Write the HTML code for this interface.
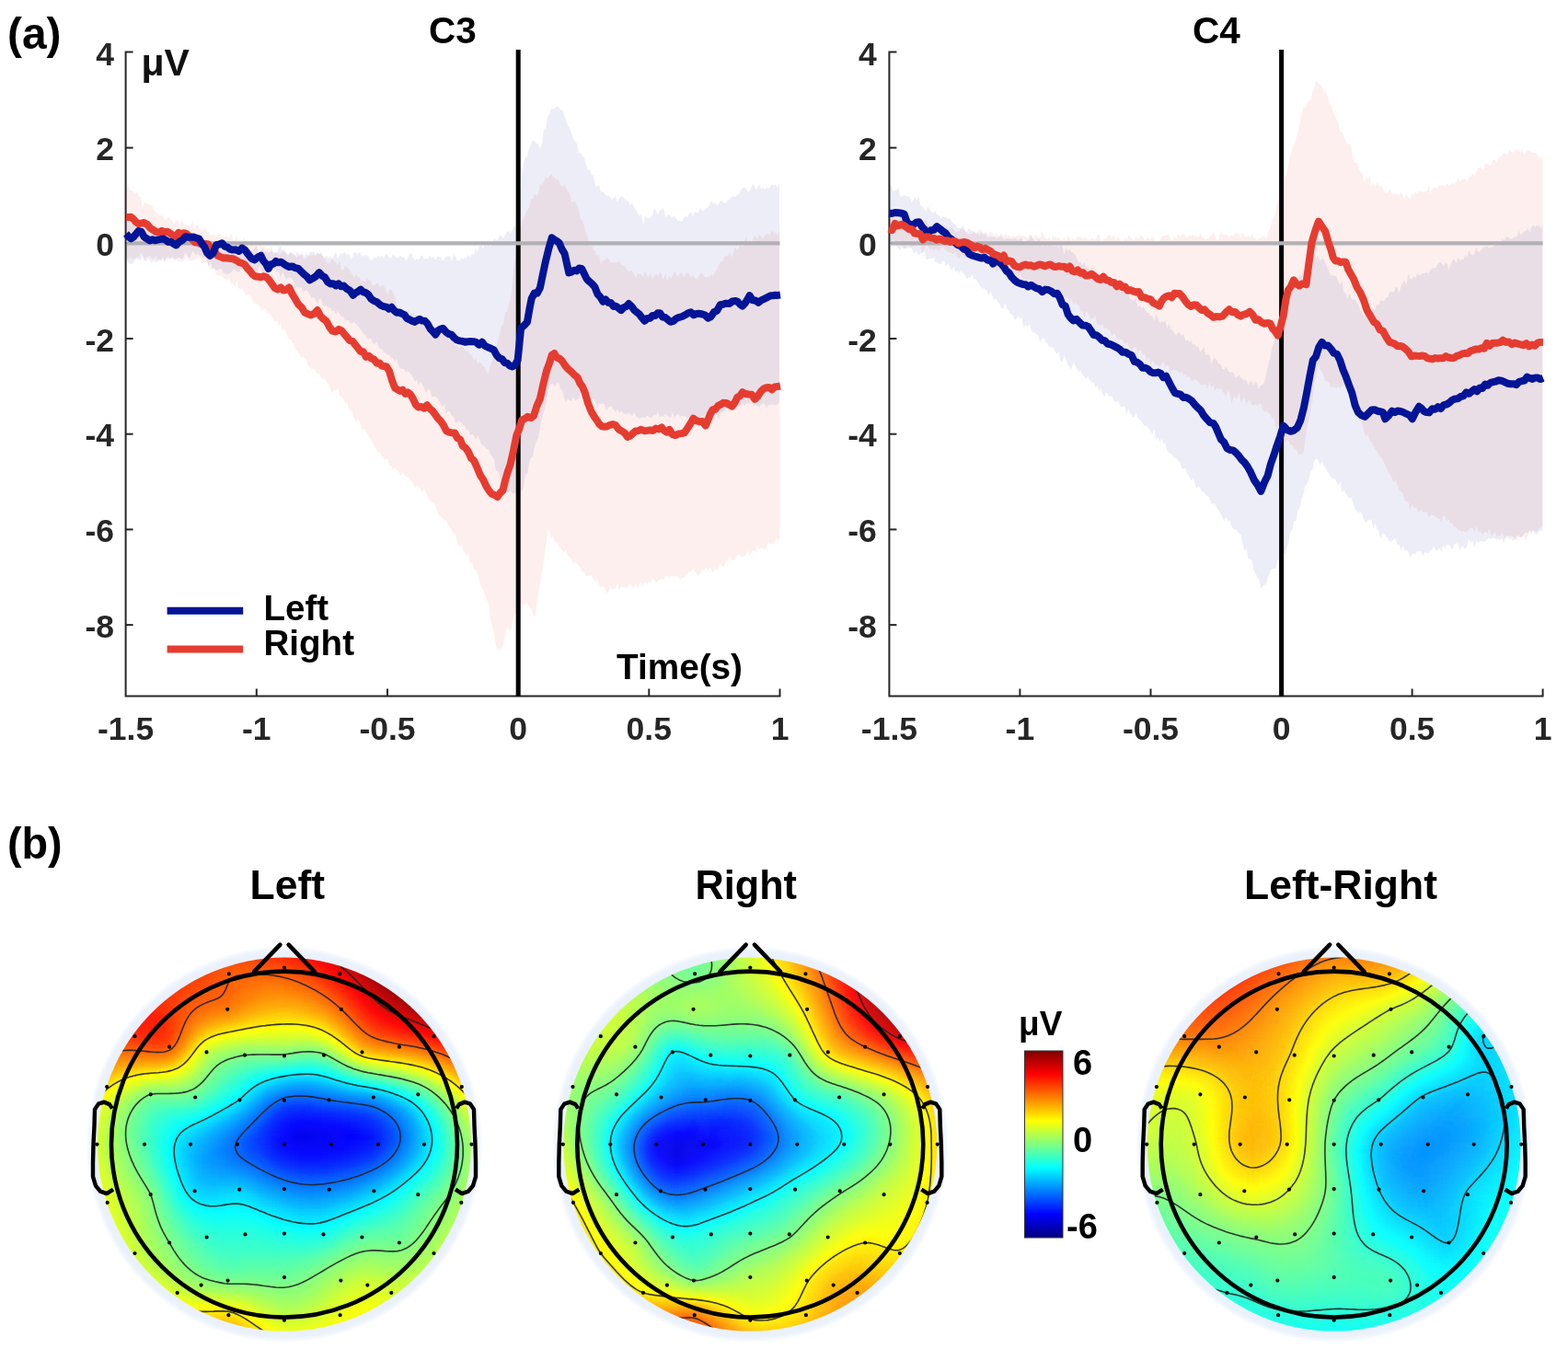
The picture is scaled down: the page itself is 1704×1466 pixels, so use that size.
<!DOCTYPE html>
<html><head><meta charset="utf-8"><title>ERP and topography</title><style>
html,body{margin:0;padding:0;background:#fff;width:1704px;height:1466px;overflow:hidden}
svg{display:block}
text{font-family:'Liberation Sans',Arial,sans-serif;font-weight:bold;fill:#111}
.tk{font-size:35.5px;fill:#262626}
.ti{font-size:40.5px;fill:#000}
.lg{font-size:39px;fill:#000}
.uv{font-size:41px}
.pl{font-size:48px;fill:#000}
.tt{font-size:45px;fill:#000}
.cb{font-size:38px;fill:#000}
.cbu{font-size:37px;fill:#000}
</style></head>
<body><svg width="1704" height="1466" viewBox="0 0 1704 1466">
<defs>
<filter id="jet" x="-10%" y="-10%" width="120%" height="120%" color-interpolation-filters="sRGB">
<feGaussianBlur stdDeviation="4.4"/>
<feComponentTransfer><feFuncR type="table" tableValues="0 0 0 0 0.5 1 1 1 0.5"/><feFuncG type="table" tableValues="0 0 0.5 1 1 1 0.5 0 0"/><feFuncB type="table" tableValues="0.5 1 1 1 0.5 0 0 0 0"/></feComponentTransfer>
</filter>
<radialGradient id="ring" r="0.5"><stop offset="0.93" stop-color="#e8f0fb"/><stop offset="0.975" stop-color="#ebf2fc"/><stop offset="1" stop-color="#fbfdff"/></radialGradient>
<linearGradient id="cbar" x1="0" y1="0" x2="0" y2="1"><stop offset="0.000" stop-color="rgb(127,0,0)"/><stop offset="0.125" stop-color="rgb(255,0,0)"/><stop offset="0.250" stop-color="rgb(255,127,0)"/><stop offset="0.375" stop-color="rgb(255,255,0)"/><stop offset="0.500" stop-color="rgb(127,255,127)"/><stop offset="0.625" stop-color="rgb(0,255,255)"/><stop offset="0.750" stop-color="rgb(0,127,255)"/><stop offset="0.875" stop-color="rgb(0,0,255)"/><stop offset="1.000" stop-color="rgb(0,0,127)"/></linearGradient>
<clipPath id="disk0"><circle cx="309.0" cy="1243.6" r="203.0"/></clipPath><clipPath id="disk1"><circle cx="815.3" cy="1243.6" r="203.0"/></clipPath><clipPath id="disk2"><circle cx="1449.7" cy="1243.6" r="203.0"/></clipPath></defs>
<rect width="1704" height="1466" fill="#fff"/>
<polygon points="137,208.1 139,198.3 141,207.3 143,206.5 145,208.5 147,210.7 149,207.9 151,214 153,214.1 155,226.2 157,220.1 159,220.3 161,222.2 163,222.9 165,223.6 167,227 169,230.9 171,230.8 173,235.5 175,233.8 177,235.1 179,239.6 181,237.8 183,235.9 185,237.4 187,239.9 189,244.1 191,239.3 193,240 195,243.8 197,239.8 199,242 201,245.6 203,245.6 205,245 207,247.2 209,239.1 211,249.5 213,245.2 215,244.1 217,249.7 219,251.4 221,249.2 223,248.2 225,251.6 227,252 229,256.3 231,255.3 233,254.6 235,257.5 237,254.8 239,253.7 241,258 243,258.5 245,257 247,256.1 249,259.2 251,252.9 253,261.4 255,261.4 257,256.6 259,261.4 261,259.3 263,264.2 265,257.8 267,261.2 269,265.8 271,267.5 273,259.8 275,264.5 277,267.1 279,265.4 281,271.5 283,265.1 285,269.5 287,266.6 289,273.3 291,270.3 293,270 295,267.2 297,276.3 299,274.5 301,275.1 303,276.7 305,275.3 307,273.3 309,273.4 311,273.9 313,279.8 315,273.2 317,275.9 319,277 321,278.9 323,280.3 325,276.2 327,275.3 329,279.2 331,281.9 333,280.4 335,278.6 337,276.9 339,278.1 341,276.4 343,278.6 345,274.2 347,276.2 349,275.7 351,278.6 353,279.1 355,286.2 357,284.8 359,286 361,278.5 363,284 365,284.5 367,288.6 369,282.9 371,292.7 373,293.5 375,288.7 377,290.6 379,292.2 381,295.4 383,298 385,302.6 387,298.1 389,301.6 391,301.2 393,306.2 395,304.5 397,307 399,301.7 401,304.8 403,304.2 405,310.8 407,309.6 409,308.1 411,308.6 413,311.8 415,309.8 417,310.1 419,314.5 421,320.3 423,314.4 425,314.6 427,317.6 429,321.8 431,331 433,336.4 435,335.9 437,337.6 439,338 441,339 443,335.7 445,339.3 447,341.6 449,340.3 451,341.9 453,342 455,344.1 457,348 459,345.7 461,347.2 463,350.9 465,351.8 467,355.7 469,347.4 471,356.1 473,354 475,356.8 477,359.8 479,361.7 481,362.8 483,361.9 485,366.8 487,363.3 489,365 491,369.1 493,367.5 495,376 497,374.9 499,379.5 501,375.7 503,376.6 505,379.7 507,382.8 509,381.3 511,385.4 513,386.2 515,392 517,388.3 519,395 521,393.2 523,394.8 525,397.9 527,399.1 529,404.8 531,405.1 533,396.6 535,391.4 537,387.6 539,377.8 541,371.3 543,363.4 545,353.3 547,352.4 549,339.4 551,338.7 553,330.2 555,325.3 557,305.4 559,286.7 561,272.8 563,253.6 565,248.6 567,243.3 569,237.6 571,233.3 573,227.5 575,225 577,215.9 579,216.7 581,210.5 583,213.2 585,210.5 587,199.4 589,201.5 591,197.8 593,192.4 595,194 597,191.5 599,188.3 601,192 603,193.3 605,195.8 607,194.4 609,200.9 611,203.1 613,200.2 615,203.4 617,208.1 619,210.3 621,219.4 623,218.9 625,219.2 627,223.1 629,228.2 631,238.8 633,239 635,246.2 637,253.6 639,258.6 641,268.6 643,264.9 645,271.5 647,273.5 649,278 651,277 653,287.2 655,282.5 657,282.9 659,280.5 661,281 663,284.2 665,285.3 667,284.7 669,285.8 671,284.6 673,284.1 675,287.7 677,288.7 679,288.6 681,292.2 683,295.2 685,294.2 687,294.3 689,298.6 691,302.6 693,297.4 695,297.8 697,297.8 699,301.3 701,293.8 703,299.4 705,301.6 707,296.7 709,302.6 711,300.3 713,297.7 715,299.7 717,295.4 719,298 721,304.1 723,297.4 725,304.3 727,299.6 729,302.4 731,300.1 733,294.4 735,298.5 737,300.4 739,297.1 741,296.6 743,300.8 745,298.3 747,295.6 749,298.2 751,302 753,298.7 755,302.2 757,303.6 759,299.9 761,297 763,296.5 765,299.7 767,302 769,300.4 771,301.1 773,298.6 775,300 777,295.3 779,292.9 781,287.7 783,284.2 785,284.1 787,279.7 789,277.3 791,278.6 793,273.8 795,279.9 797,273.9 799,268.9 801,271.4 803,269.2 805,265.6 807,269 809,263.2 811,256.4 813,265 815,260.4 817,264.6 819,258.2 821,255.8 823,261.8 825,254.5 827,257 829,259.4 831,255.4 833,254.2 835,253.9 837,255 839,250.2 841,253 843,252.2 845,255.9 847,248.5 847,589.5 845,584.7 843,586.4 841,590.8 839,591.7 837,591.1 835,588.1 833,594.6 831,597.6 829,595.9 827,595.4 825,596.4 823,591.9 821,599.9 819,598.5 817,599.5 815,604.8 813,598 811,602.5 809,604.2 807,605.4 805,605.1 803,601.5 801,604.3 799,606.3 797,609.5 795,607.5 793,605.2 791,609.8 789,609 787,615.4 785,615.2 783,611.8 781,613.9 779,620 777,617.3 775,622.2 773,618.6 771,617 769,620.1 767,616.8 765,620.8 763,618.2 761,623.5 759,625.8 757,624.1 755,621.1 753,617.7 751,622.5 749,620.1 747,622.9 745,624.5 743,628 741,627.9 739,629.9 737,625.6 735,626.2 733,626.8 731,625.6 729,625.7 727,627.8 725,625.7 723,625.5 721,630.5 719,628.6 717,630.2 715,631 713,633.6 711,629.3 709,628.7 707,633.3 705,631.3 703,635.5 701,631.3 699,637.6 697,632.8 695,635.2 693,638.4 691,634.6 689,639.3 687,637.5 685,634.6 683,636.2 681,639.5 679,637.4 677,638.6 675,637 673,640.9 671,633.4 669,639.4 667,639.8 665,640.5 663,638.7 661,642.9 659,644.5 657,638.3 655,636.6 653,638.6 651,636.1 649,627.4 647,632.2 645,629.7 643,624.4 641,625.9 639,625.8 637,626.6 635,620.4 633,622.6 631,617.7 629,614.4 627,612.2 625,611 623,612.5 621,608 619,605 617,603.5 615,598 613,600.3 611,597.9 609,595.5 607,593.4 605,588.7 603,589.7 601,582 599,585.7 597,578.3 595,576 593,594.8 591,608.8 589,621.3 587,633.4 585,643.1 583,660.8 581,671.9 579,666.8 577,660.4 575,660.8 573,656 571,656.8 569,657 567,657.8 565,656.3 563,653.6 561,664.1 559,668.7 557,674.8 555,685.4 553,684 551,681.9 549,688.3 547,699.9 545,705.3 543,704.4 541,705.8 539,701.6 537,689.1 535,681.1 533,673.3 531,656.3 529,651.8 527,646.5 525,639.7 523,638.5 521,630.3 519,624.1 517,619.6 515,618.4 513,610.9 511,612.9 509,602 507,604.4 505,599.9 503,597.1 501,592.2 499,593.9 497,589.3 495,580.2 493,580 491,577.6 489,573 487,570 485,565.6 483,566.3 481,562.9 479,560.4 477,560.4 475,555.3 473,549.1 471,547.2 469,545.5 467,544.2 465,540 463,535.6 461,531.5 459,534.5 457,530.6 455,529.5 453,526.7 451,530.8 449,525 447,522.6 445,521.3 443,518.1 441,518.2 439,515.1 437,514.5 435,516.6 433,511.6 431,510.9 429,508.6 427,511.2 425,506.2 423,505.5 421,497.7 419,499.9 417,498.9 415,495.7 413,492.1 411,491.2 409,489.6 407,483.5 405,482 403,477 401,474.5 399,471.4 397,466.5 395,466.8 393,465.8 391,458 389,455 387,458.1 385,454.6 383,446.4 381,446.8 379,443 377,436.6 375,439.5 373,431.8 371,431.5 369,429.5 367,421.3 365,425 363,422.7 361,427.3 359,423.2 357,416.5 355,414.6 353,411 351,412.5 349,410.8 347,405.7 345,406.9 343,402.4 341,400.7 339,402 337,399.3 335,397.8 333,391.6 331,389.8 329,387.2 327,389.6 325,384.2 323,381.2 321,379.5 319,374.3 317,370.4 315,368.4 313,368.1 311,360.3 309,356.6 307,358.9 305,350.2 303,354.5 301,347.9 299,349.8 297,346.9 295,343.3 293,340.1 291,341.2 289,335.6 287,334.4 285,337.7 283,333.7 281,331.5 279,329.6 277,330.6 275,328 273,323.2 271,320.3 269,321.1 267,319.7 265,317 263,313.1 261,314.5 259,312.4 257,304.2 255,313 253,307.1 251,308.9 249,301.9 247,304.4 245,302.4 243,302.6 241,300.3 239,299.5 237,299.2 235,297.8 233,291.1 231,292.7 229,293.8 227,288.4 225,284.1 223,284.9 221,285.1 219,286.8 217,279.6 215,281 213,280.7 211,283.2 209,282.2 207,283.7 205,282.4 203,276.9 201,281.4 199,283.6 197,284.9 195,282.9 193,284.1 191,280.7 189,283.4 187,280.6 185,279.9 183,280.9 181,282.1 179,285.4 177,279.4 175,282.8 173,281.6 171,282.5 169,277.8 167,281.2 165,282.1 163,277.6 161,278.8 159,278.8 157,284.3 155,278.2 153,274 151,280.1 149,278.7 147,283.2 145,280.5 143,280.9 141,279.1 139,281.9 137,277.7" fill="#e2412f" fill-opacity="0.085"/>
<polygon points="137,240.9 139,240.4 141,236.6 143,245.8 145,234.6 147,241.4 149,248 151,242.9 153,244.3 155,241.2 157,248 159,241.9 161,246.2 163,246.4 165,243.9 167,249.2 169,243.9 171,246.2 173,248.3 175,247.8 177,250.5 179,252.1 181,249.6 183,249.7 185,250.4 187,251.5 189,255.1 191,253.3 193,255.5 195,255 197,253.8 199,258.7 201,254.7 203,258 205,262.4 207,256.6 209,259.9 211,256.8 213,260.1 215,258.4 217,261.9 219,262.2 221,264.5 223,268.8 225,266.3 227,267.9 229,266.8 231,267 233,266 235,263.8 237,268.6 239,272.7 241,270 243,267.6 245,273.3 247,268.2 249,268 251,266.6 253,267.4 255,269.4 257,275.2 259,269.9 261,268 263,269.2 265,270.4 267,266.8 269,271.6 271,273.2 273,272.4 275,273.3 277,268.7 279,267.9 281,275.5 283,275.2 285,268.8 287,273.4 289,273.1 291,274.6 293,273.9 295,272.3 297,274.2 299,274.3 301,273.9 303,269.5 305,266.8 307,272.4 309,270.4 311,275.2 313,276.4 315,275.4 317,273.9 319,275.1 321,278 323,273.3 325,277.6 327,277.1 329,276.1 331,279.2 333,273.9 335,278.1 337,273.5 339,274 341,273.4 343,277.3 345,273.9 347,276.5 349,273.6 351,279.2 353,281.2 355,277.3 357,281 359,278.4 361,282.5 363,277.4 365,273.3 367,281.1 369,277.1 371,275 373,276 375,273.7 377,277.4 379,275.3 381,281.8 383,279.8 385,274.1 387,274.6 389,277 391,273.7 393,278.4 395,278.6 397,276.9 399,277.6 401,280.3 403,282.6 405,282.8 407,279.2 409,281.3 411,277.4 413,280.3 415,276.9 417,281.2 419,276.3 421,277 423,279.4 425,280.9 427,275.9 429,278.2 431,280 433,280.2 435,277.6 437,280 439,279.1 441,283.3 443,281.3 445,276.6 447,274.4 449,280.2 451,283 453,280.5 455,282.3 457,278.9 459,276.8 461,282.1 463,280.5 465,282 467,276.9 469,280.8 471,278.9 473,282.5 475,279 477,279 479,279.1 481,283.8 483,280.7 485,278.8 487,278.2 489,278.2 491,284.5 493,276.3 495,278.8 497,282.5 499,283.9 501,280.1 503,281.5 505,280.5 507,280.1 509,276.8 511,279.8 513,275.2 515,277.6 517,270.1 519,274.2 521,267.8 523,266.2 525,270.2 527,265.9 529,268.2 531,263.4 533,268.6 535,263.2 537,258.8 539,260.6 541,260.9 543,255.3 545,257.1 547,259.4 549,255 551,252.2 553,250.9 555,253.9 557,248.9 559,245.2 561,248.4 563,228.3 565,216.4 567,193.3 569,176.9 571,171.1 573,169.9 575,161.3 577,156.5 579,152.4 581,153.4 583,155.4 585,157.4 587,162.3 589,155.2 591,138.8 593,141.3 595,127.1 597,124.1 599,117.7 601,118.9 603,117.2 605,115.5 607,116.6 609,119.7 611,119.2 613,124.9 615,130.6 617,136 619,139.1 621,144.8 623,150.7 625,153.4 627,156.3 629,166.9 631,165.4 633,170.1 635,171.4 637,179.9 639,184.9 641,184 643,189.8 645,190.7 647,201 649,202.8 651,200.7 653,208.2 655,208.2 657,210.6 659,212.8 661,212.5 663,214 665,216.9 667,215.3 669,213 671,220.5 673,214.9 675,214 677,213.6 679,217.1 681,218.1 683,218.9 685,223.1 687,219.9 689,225.4 691,227.8 693,231.6 695,235.5 697,231.8 699,245.2 701,234.5 703,236.8 705,237.3 707,236.6 709,234.4 711,225.8 713,229.6 715,233.5 717,228.5 719,228 721,225.7 723,235.7 725,234.9 727,232.4 729,235.3 731,236.3 733,234.8 735,237.9 737,240.2 739,240.2 741,241.1 743,237 745,234.9 747,236.1 749,232.6 751,230.1 753,235.2 755,230.4 757,230.8 759,231.1 761,225.8 763,229.3 765,227.9 767,225.7 769,226.1 771,222.4 773,218 775,222 777,219.6 779,223.2 781,220.9 783,218.1 785,218.8 787,221.2 789,219.9 791,217.2 793,216.5 795,213.8 797,213.2 799,214 801,211.2 803,211.3 805,206.7 807,204.3 809,203.3 811,205.4 813,208.9 815,207.5 817,201.5 819,200 821,205.7 823,204.8 825,200.1 827,206 829,203.7 831,206.4 833,203.8 835,205.1 837,203.5 839,200.2 841,201.9 843,200.7 845,204.3 847,199.6 847,438.6 845,439.1 843,440.3 841,439.9 839,439.2 837,440.3 835,439.7 833,443.8 831,439.1 829,438.3 827,439.9 825,442.4 823,441 821,440.6 819,441.4 817,438.5 815,436.9 813,439 811,438 809,441.5 807,438 805,441.3 803,442.7 801,438.7 799,438.9 797,445.2 795,435.8 793,443.1 791,443.2 789,444.4 787,447.9 785,447.8 783,449 781,455.8 779,450.7 777,451.4 775,456.1 773,455.7 771,453.5 769,458.8 767,455.7 765,459.3 763,462.3 761,458.1 759,460.8 757,458.1 755,455.2 753,453.5 751,454.9 749,454.9 747,454.8 745,451.9 743,452.3 741,451.8 739,453.1 737,449.5 735,451.1 733,453.7 731,448.3 729,454.3 727,453.1 725,451.8 723,449.4 721,452.9 719,451 717,454.5 715,447.3 713,451.9 711,450.3 709,453.7 707,454.1 705,452.7 703,451.5 701,453.9 699,453.2 697,453.4 695,455.6 693,453.7 691,452.3 689,448.1 687,452.1 685,449.9 683,448.7 681,450.7 679,450 677,449 675,446.4 673,448.8 671,444.6 669,447.9 667,445.4 665,442.5 663,441.3 661,443.2 659,446.2 657,439.9 655,438 653,439.3 651,438.4 649,444 647,436.3 645,433 643,434.5 641,429.3 639,424.5 637,427.5 635,430.5 633,428.5 631,427.6 629,433.4 627,434.1 625,435.5 623,431.5 621,436.1 619,435.1 617,433.2 615,437.1 613,431.5 611,424 609,422.3 607,415.9 605,416.5 603,420.7 601,417.1 599,417.4 597,416.8 595,428.8 593,440 591,447.4 589,453.9 587,464 585,475.5 583,479.3 581,485.5 579,496 577,496.9 575,504 573,515.3 571,515 569,529.3 567,533.8 565,532.8 563,534.8 561,535.1 559,535.6 557,536.8 555,533.2 553,535.6 551,534.7 549,532.3 547,531.4 545,527.3 543,517.1 541,511.7 539,512.3 537,499.5 535,495.9 533,494 531,488 529,488.5 527,485.5 525,483.6 523,483.1 521,477.3 519,472.7 517,478.1 515,473.3 513,471.5 511,473.8 509,466.2 507,467.5 505,463 503,460.6 501,458.9 499,457 497,458.8 495,460 493,452.6 491,452.1 489,447.6 487,446.5 485,450.4 483,439.1 481,442.6 479,439.3 477,435.4 475,432.6 473,430.7 471,431.4 469,430.6 467,422.3 465,424.3 463,426.8 461,421.9 459,418.1 457,414.3 455,418.8 453,412.2 451,414.9 449,410.3 447,407.8 445,404.8 443,402.8 441,404.4 439,401.1 437,400.7 435,400.5 433,396.3 431,389.4 429,393.4 427,388.9 425,388.9 423,385.2 421,385.9 419,383.2 417,382.9 415,379.1 413,379.3 411,375.4 409,371.6 407,373.8 405,373.1 403,366.6 401,368.4 399,368 397,363.5 395,363 393,359.6 391,356.7 389,354.5 387,352.3 385,349.8 383,351 381,351.4 379,348.1 377,348 375,348.4 373,344.1 371,344.2 369,340.4 367,338.1 365,341.7 363,337.4 361,338.1 359,334.6 357,334.7 355,332.4 353,332.3 351,332.3 349,325.3 347,325 345,330.7 343,325.5 341,322.7 339,324.3 337,320.5 335,317.5 333,314.9 331,316.1 329,316.5 327,311.7 325,312.9 323,311.2 321,312.6 319,305.6 317,302.6 315,301.7 313,301.6 311,304.5 309,299.3 307,295.1 305,302.3 303,294.7 301,296 299,292.6 297,290.9 295,294.4 293,295.5 291,294.9 289,297.8 287,297.8 285,296.7 283,288.9 281,291.6 279,297.8 277,294.8 275,295.3 273,294.1 271,291.9 269,294.9 267,290.9 265,293.3 263,290.9 261,294.9 259,296 257,295.3 255,291.8 253,293.7 251,297.1 249,297.3 247,298 245,297.4 243,296.9 241,292.8 239,292.1 237,293.3 235,293.4 233,292.6 231,291.8 229,284.9 227,290.1 225,285.1 223,279 221,281.5 219,278.9 217,278.2 215,274.8 213,277.6 211,274.4 209,272.8 207,279.2 205,281.8 203,275.4 201,275 199,281 197,281.7 195,279.9 193,280 191,282.7 189,281.3 187,278.7 185,282.5 183,279.2 181,280 179,284.5 177,280.7 175,282.9 173,283.1 171,284.7 169,284.9 167,282.5 165,285.5 163,282.9 161,280.4 159,283.5 157,282.9 155,277.7 153,283.1 151,281.9 149,281.6 147,279.7 145,286.3 143,287.3 141,286.7 139,285.6 137,280.2" fill="#1a1a9a" fill-opacity="0.08"/>
<polygon points="966.4,232.1 968.4,232.4 970.4,235.9 972.4,237.2 974.4,238.1 976.4,236.3 978.4,234.6 980.4,238.6 982.4,239 984.4,234.2 986.4,240.3 988.4,240.2 990.4,243.3 992.4,236.8 994.4,236.9 996.4,242.4 998.4,236.4 1000.4,239.5 1002.4,239 1004.4,239.7 1006.4,237.9 1008.4,242.5 1010.4,245.9 1012.4,245 1014.4,245.5 1016.4,243.9 1018.4,248.8 1020.4,247 1022.4,248.7 1024.4,242.6 1026.4,247.8 1028.4,244.5 1030.4,248.7 1032.4,248.7 1034.4,245.8 1036.4,249.5 1038.4,252.4 1040.4,251.2 1042.4,251.8 1044.4,248.7 1046.4,249.5 1048.4,248.9 1050.4,252.4 1052.4,255.5 1054.4,254 1056.4,253.4 1058.4,250.8 1060.4,254.8 1062.4,253.2 1064.4,249.1 1066.4,249.7 1068.4,253.2 1070.4,251.9 1072.4,258.4 1074.4,254.5 1076.4,251.9 1078.4,253.4 1080.4,258.6 1082.4,252.4 1084.4,256.8 1086.4,256.1 1088.4,258.7 1090.4,256.5 1092.4,254.3 1094.4,256.7 1096.4,255.6 1098.4,258 1100.4,255.5 1102.4,260.7 1104.4,255.6 1106.4,257.1 1108.4,254.4 1110.4,256.5 1112.4,256.3 1114.4,256.8 1116.4,258.7 1118.4,255.2 1120.4,254.6 1122.4,259.5 1124.4,256.2 1126.4,255.3 1128.4,259.9 1130.4,259.1 1132.4,250.7 1134.4,256.4 1136.4,259.4 1138.4,259.7 1140.4,256.4 1142.4,261.7 1144.4,255.9 1146.4,257.4 1148.4,258.4 1150.4,258.2 1152.4,260.3 1154.4,260.9 1156.4,258.2 1158.4,261.8 1160.4,256.7 1162.4,257.8 1164.4,262.6 1166.4,258.6 1168.4,261 1170.4,257.3 1172.4,257.7 1174.4,258.1 1176.4,258.8 1178.4,257.5 1180.4,258.4 1182.4,260 1184.4,261.4 1186.4,258.6 1188.4,260 1190.4,260.6 1192.4,255.7 1194.4,254.5 1196.4,262.4 1198.4,261.7 1200.4,258.5 1202.4,259.3 1204.4,256 1206.4,254.9 1208.4,259.2 1210.4,254.7 1212.4,260.7 1214.4,256.7 1216.4,259.1 1218.4,263.2 1220.4,263.1 1222.4,257.7 1224.4,261 1226.4,255.8 1228.4,256.9 1230.4,259.3 1232.4,261.8 1234.4,256.9 1236.4,259.7 1238.4,258.6 1240.4,255.2 1242.4,258 1244.4,262.1 1246.4,258.1 1248.4,259.6 1250.4,260.4 1252.4,256.5 1254.4,261.4 1256.4,262 1258.4,262.2 1260.4,261.4 1262.4,257 1264.4,256.6 1266.4,256.1 1268.4,255.8 1270.4,256 1272.4,260.4 1274.4,261.5 1276.4,256.3 1278.4,259.8 1280.4,254.6 1282.4,256.9 1284.4,255.2 1286.4,253.6 1288.4,257.8 1290.4,257.8 1292.4,256.5 1294.4,256.2 1296.4,255 1298.4,257.1 1300.4,255.9 1302.4,257.9 1304.4,254.3 1306.4,257.8 1308.4,258.5 1310.4,260.3 1312.4,259.8 1314.4,257.6 1316.4,255.4 1318.4,252.5 1320.4,257 1322.4,260.5 1324.4,261.1 1326.4,250.5 1328.4,254.9 1330.4,255.9 1332.4,254.2 1334.4,257.2 1336.4,256.8 1338.4,255.4 1340.4,256.5 1342.4,252.6 1344.4,254.1 1346.4,254.3 1348.4,258.7 1350.4,252.4 1352.4,255.8 1354.4,258.3 1356.4,256.2 1358.4,258.3 1360.4,254.6 1362.4,257.3 1364.4,258.4 1366.4,261.7 1368.4,257.9 1370.4,259.6 1372.4,256 1374.4,256.2 1376.4,259.8 1378.4,251.8 1380.4,247.6 1382.4,239.6 1384.4,236.9 1386.4,231.3 1388.4,217 1390.4,217.5 1392.4,207.7 1394.4,201.5 1396.4,193.6 1398.4,188.1 1400.4,176 1402.4,169.5 1404.4,161.8 1406.4,157 1408.4,151 1410.4,143 1412.4,134.6 1414.4,124.7 1416.4,116.2 1418.4,117.6 1420.4,113 1422.4,109.5 1424.4,108.2 1426.4,100.2 1428.4,96.1 1430.4,86.9 1432.4,90.4 1434.4,92.1 1436.4,93.6 1438.4,99.6 1440.4,99.2 1442.4,103.6 1444.4,113.1 1446.4,115.1 1448.4,120.5 1450.4,125 1452.4,129.8 1454.4,133.7 1456.4,143.9 1458.4,143 1460.4,150 1462.4,152.6 1464.4,157 1466.4,155.8 1468.4,161 1470.4,173.7 1472.4,177.5 1474.4,176.7 1476.4,181.7 1478.4,187.3 1480.4,187.3 1482.4,198.2 1484.4,193.2 1486.4,194.8 1488.4,190.5 1490.4,202 1492.4,199.2 1494.4,203.9 1496.4,198.1 1498.4,202.3 1500.4,202.4 1502.4,203.5 1504.4,209 1506.4,210.3 1508.4,208.9 1510.4,205.2 1512.4,209.3 1514.4,211.2 1516.4,210 1518.4,210.9 1520.4,211.4 1522.4,208.8 1524.4,212.5 1526.4,216.7 1528.4,211 1530.4,214.5 1532.4,216.5 1534.4,210.4 1536.4,212.8 1538.4,208.2 1540.4,210.3 1542.4,207.6 1544.4,208.2 1546.4,208.6 1548.4,208.4 1550.4,207.9 1552.4,201.8 1554.4,211.1 1556.4,205.7 1558.4,203 1560.4,203.5 1562.4,205.2 1564.4,201.2 1566.4,202 1568.4,201.2 1570.4,203.1 1572.4,199.2 1574.4,201.5 1576.4,200.6 1578.4,198.7 1580.4,201.5 1582.4,197.8 1584.4,194.1 1586.4,197.1 1588.4,196 1590.4,194.8 1592.4,194.3 1594.4,198.4 1596.4,192 1598.4,191.4 1600.4,188.5 1602.4,191.2 1604.4,186.6 1606.4,183.6 1608.4,181.4 1610.4,184.6 1612.4,183.9 1614.4,176.9 1616.4,177.9 1618.4,180.2 1620.4,180 1622.4,173 1624.4,174.1 1626.4,176 1628.4,171.4 1630.4,170.5 1632.4,169.1 1634.4,166 1636.4,168.2 1638.4,167.7 1640.4,162.3 1642.4,164.8 1644.4,166.2 1646.4,162.8 1648.4,163.9 1650.4,160.9 1652.4,166.3 1654.4,161.6 1656.4,168.9 1658.4,163.8 1660.4,163.8 1662.4,164 1664.4,165.9 1666.4,166.3 1668.4,166.5 1670.4,168.1 1672.4,171.2 1674.4,172.4 1676.4,170 1676.4,571.2 1674.4,573.6 1672.4,574 1670.4,578 1668.4,577.8 1666.4,575 1664.4,580.6 1662.4,578 1660.4,581.2 1658.4,588.1 1656.4,582.2 1654.4,583.6 1652.4,583.9 1650.4,582.9 1648.4,587.7 1646.4,586.1 1644.4,587.9 1642.4,586.3 1640.4,581.6 1638.4,583.7 1636.4,584.8 1634.4,584.5 1632.4,579.1 1630.4,582.7 1628.4,581.7 1626.4,583.8 1624.4,576.7 1622.4,582.1 1620.4,581.2 1618.4,574.5 1616.4,579.9 1614.4,577.6 1612.4,579.7 1610.4,580.7 1608.4,576.6 1606.4,578.6 1604.4,571.8 1602.4,578.7 1600.4,574.1 1598.4,573.6 1596.4,574.9 1594.4,577.3 1592.4,578.4 1590.4,576.7 1588.4,577.8 1586.4,576.1 1584.4,576.2 1582.4,573.1 1580.4,572.7 1578.4,568.7 1576.4,569.3 1574.4,564 1572.4,567.1 1570.4,561.5 1568.4,559.7 1566.4,568.3 1564.4,563.2 1562.4,563.8 1560.4,561.8 1558.4,560.1 1556.4,560.1 1554.4,560.4 1552.4,562.1 1550.4,555.8 1548.4,557.1 1546.4,556.3 1544.4,553.6 1542.4,556.2 1540.4,554.2 1538.4,551.4 1536.4,552.2 1534.4,548.2 1532.4,555.3 1530.4,545.6 1528.4,544.5 1526.4,543.7 1524.4,535.2 1522.4,534.3 1520.4,532.2 1518.4,526.7 1516.4,521.6 1514.4,524 1512.4,518.9 1510.4,514.5 1508.4,513.1 1506.4,507.9 1504.4,503.8 1502.4,499 1500.4,496.7 1498.4,494.8 1496.4,490.6 1494.4,488 1492.4,484.4 1490.4,480.5 1488.4,478.1 1486.4,472.1 1484.4,473.9 1482.4,469.4 1480.4,461.7 1478.4,453.6 1476.4,451.8 1474.4,445.1 1472.4,438.4 1470.4,433.2 1468.4,430.5 1466.4,425 1464.4,421.8 1462.4,421.1 1460.4,419.6 1458.4,419.5 1456.4,422.8 1454.4,419.6 1452.4,422 1450.4,420.9 1448.4,419.8 1446.4,421.2 1444.4,416.2 1442.4,414.3 1440.4,414.3 1438.4,408.7 1436.4,404 1434.4,402 1432.4,396 1430.4,409.4 1428.4,417 1426.4,435.8 1424.4,444.1 1422.4,455.8 1420.4,464 1418.4,479.2 1416.4,493.2 1414.4,492.8 1412.4,494.2 1410.4,493.3 1408.4,487.4 1406.4,487.7 1404.4,483.3 1402.4,483.7 1400.4,479.3 1398.4,478.2 1396.4,481.8 1394.4,470.5 1392.4,470.7 1390.4,468.5 1388.4,462.9 1386.4,465.5 1384.4,455.5 1382.4,454.3 1380.4,450.4 1378.4,449.1 1376.4,446.3 1374.4,447.7 1372.4,445.8 1370.4,439.1 1368.4,438.5 1366.4,440.9 1364.4,439.1 1362.4,440.4 1360.4,439.9 1358.4,435.1 1356.4,435.3 1354.4,439 1352.4,431.6 1350.4,434.8 1348.4,437.6 1346.4,426 1344.4,433.2 1342.4,431 1340.4,432.6 1338.4,439.1 1336.4,427.4 1334.4,424.5 1332.4,431 1330.4,428 1328.4,425.2 1326.4,421.6 1324.4,423.2 1322.4,421.4 1320.4,425.2 1318.4,418.7 1316.4,421.5 1314.4,415.2 1312.4,422.4 1310.4,418.4 1308.4,417.2 1306.4,418.6 1304.4,418.6 1302.4,415.4 1300.4,413.2 1298.4,412.7 1296.4,413.9 1294.4,413.5 1292.4,409 1290.4,409.9 1288.4,405.8 1286.4,408.4 1284.4,402.9 1282.4,405.6 1280.4,404.4 1278.4,401.5 1276.4,402 1274.4,402.2 1272.4,404.2 1270.4,399.6 1268.4,396 1266.4,398.9 1264.4,392.9 1262.4,395.3 1260.4,398.7 1258.4,396.6 1256.4,396.9 1254.4,394.7 1252.4,391.7 1250.4,396.7 1248.4,387.6 1246.4,391.9 1244.4,385.5 1242.4,384.9 1240.4,381.3 1238.4,380.8 1236.4,382.7 1234.4,377.9 1232.4,377.4 1230.4,378.9 1228.4,381.5 1226.4,376.1 1224.4,371.8 1222.4,374.4 1220.4,369.9 1218.4,369 1216.4,368.1 1214.4,368.8 1212.4,363.7 1210.4,361.9 1208.4,364.8 1206.4,359.7 1204.4,358.8 1202.4,355.8 1200.4,357.3 1198.4,352.8 1196.4,353.8 1194.4,352.7 1192.4,353.4 1190.4,343.3 1188.4,346.1 1186.4,346.8 1184.4,345.4 1182.4,339.7 1180.4,338.3 1178.4,346.3 1176.4,337.8 1174.4,338.9 1172.4,331.3 1170.4,330.9 1168.4,328.5 1166.4,331.3 1164.4,324.1 1162.4,330.6 1160.4,323.2 1158.4,322.7 1156.4,321.3 1154.4,322.3 1152.4,323.8 1150.4,318.7 1148.4,316.1 1146.4,315.8 1144.4,315 1142.4,314.1 1140.4,317.6 1138.4,318.9 1136.4,317.3 1134.4,311.4 1132.4,309.3 1130.4,313.8 1128.4,308.3 1126.4,308.4 1124.4,308.8 1122.4,307.8 1120.4,304.9 1118.4,302.4 1116.4,309.2 1114.4,305.2 1112.4,304.3 1110.4,302 1108.4,296.8 1106.4,305 1104.4,297.9 1102.4,298.5 1100.4,297.2 1098.4,293.6 1096.4,296 1094.4,295.9 1092.4,298.6 1090.4,298 1088.4,292.8 1086.4,291.1 1084.4,293.4 1082.4,295.5 1080.4,288.6 1078.4,288.3 1076.4,282.7 1074.4,285.8 1072.4,284 1070.4,283.9 1068.4,284.7 1066.4,283.1 1064.4,279.7 1062.4,284.5 1060.4,282.3 1058.4,276.9 1056.4,277.2 1054.4,278.3 1052.4,278.8 1050.4,279.6 1048.4,280.8 1046.4,277.8 1044.4,277.9 1042.4,281.6 1040.4,279.7 1038.4,273.7 1036.4,276.8 1034.4,275 1032.4,274.7 1030.4,274 1028.4,272.4 1026.4,270.8 1024.4,268.6 1022.4,270.5 1020.4,273.3 1018.4,271.9 1016.4,270.4 1014.4,273.1 1012.4,269.8 1010.4,272.1 1008.4,266.9 1006.4,266.6 1004.4,271.6 1002.4,275 1000.4,266.1 998.4,264.6 996.4,267.7 994.4,264.1 992.4,268.1 990.4,269.6 988.4,267.2 986.4,263 984.4,269.8 982.4,270.4 980.4,268.9 978.4,261.9 976.4,261.1 974.4,266.2 972.4,261.5 970.4,261.4 968.4,261.1 966.4,266.4" fill="#e2412f" fill-opacity="0.085"/>
<polygon points="966.4,202.2 968.4,201.3 970.4,208.5 972.4,206.9 974.4,205.9 976.4,204.1 978.4,213.8 980.4,213.2 982.4,212.2 984.4,212.7 986.4,213.8 988.4,213.3 990.4,220.4 992.4,217.3 994.4,214.3 996.4,217.4 998.4,213.8 1000.4,223 1002.4,224.4 1004.4,228.1 1006.4,230.1 1008.4,224 1010.4,228.2 1012.4,230.7 1014.4,231.4 1016.4,229.3 1018.4,233.7 1020.4,234.1 1022.4,237.4 1024.4,235 1026.4,235.7 1028.4,236.1 1030.4,237.6 1032.4,237.8 1034.4,240 1036.4,243.2 1038.4,244.3 1040.4,247.6 1042.4,248.1 1044.4,248.1 1046.4,244.8 1048.4,250.3 1050.4,252.9 1052.4,247.9 1054.4,249.5 1056.4,251 1058.4,251.3 1060.4,253.4 1062.4,252.1 1064.4,255.6 1066.4,251.9 1068.4,254.9 1070.4,254.2 1072.4,253.3 1074.4,258.6 1076.4,256.3 1078.4,257.9 1080.4,256 1082.4,258.8 1084.4,258.9 1086.4,257.2 1088.4,253.4 1090.4,260.2 1092.4,260.1 1094.4,259.1 1096.4,259.6 1098.4,259.5 1100.4,260 1102.4,257.2 1104.4,259.9 1106.4,261.1 1108.4,259 1110.4,258.4 1112.4,265.8 1114.4,262.9 1116.4,260.9 1118.4,260.7 1120.4,255.6 1122.4,258.9 1124.4,262.1 1126.4,266.2 1128.4,258.1 1130.4,261.8 1132.4,268.6 1134.4,265.7 1136.4,265.4 1138.4,267.6 1140.4,264.6 1142.4,264.7 1144.4,267.2 1146.4,267.8 1148.4,263.3 1150.4,270 1152.4,262.1 1154.4,265.4 1156.4,276.4 1158.4,269 1160.4,273.4 1162.4,270.8 1164.4,274.1 1166.4,274.6 1168.4,277 1170.4,281.1 1172.4,285.4 1174.4,284.8 1176.4,288 1178.4,284.4 1180.4,290.9 1182.4,290.2 1184.4,293.8 1186.4,290.8 1188.4,292.8 1190.4,298.4 1192.4,298 1194.4,298.3 1196.4,297.9 1198.4,300.9 1200.4,303.9 1202.4,306 1204.4,304.4 1206.4,306.4 1208.4,309.9 1210.4,307.6 1212.4,314.3 1214.4,313.4 1216.4,314.7 1218.4,310.5 1220.4,314.1 1222.4,317 1224.4,319.7 1226.4,319.9 1228.4,325.1 1230.4,326.1 1232.4,326.6 1234.4,323.7 1236.4,333.9 1238.4,331.2 1240.4,334.9 1242.4,333.3 1244.4,336.5 1246.4,339.8 1248.4,340.2 1250.4,343.6 1252.4,342.2 1254.4,349.1 1256.4,340.8 1258.4,345.6 1260.4,350.9 1262.4,349.2 1264.4,350.2 1266.4,348.3 1268.4,357.2 1270.4,350.9 1272.4,358.4 1274.4,359 1276.4,362.2 1278.4,365.1 1280.4,361.1 1282.4,362.3 1284.4,365 1286.4,362.9 1288.4,370.7 1290.4,369.1 1292.4,372 1294.4,370.2 1296.4,374.5 1298.4,374.3 1300.4,377.1 1302.4,376 1304.4,382.8 1306.4,380 1308.4,376.7 1310.4,386.2 1312.4,385.3 1314.4,385.2 1316.4,395.2 1318.4,390.2 1320.4,388.4 1322.4,391.7 1324.4,395.6 1326.4,395.6 1328.4,400.7 1330.4,401.7 1332.4,398.5 1334.4,402 1336.4,405 1338.4,403.8 1340.4,405.1 1342.4,409.9 1344.4,410.3 1346.4,407.1 1348.4,410.4 1350.4,411.7 1352.4,413.4 1354.4,412.8 1356.4,418.9 1358.4,414.1 1360.4,414.7 1362.4,418.9 1364.4,413.7 1366.4,417.6 1368.4,422.7 1370.4,418.8 1372.4,417.8 1374.4,414.6 1376.4,405 1378.4,395.9 1380.4,388.4 1382.4,378 1384.4,372.5 1386.4,363.1 1388.4,361.9 1390.4,348.9 1392.4,338.7 1394.4,331.4 1396.4,324.6 1398.4,318.1 1400.4,316.5 1402.4,319.5 1404.4,309.2 1406.4,308.3 1408.4,309.3 1410.4,307.6 1412.4,298.3 1414.4,301.5 1416.4,294 1418.4,296.1 1420.4,290.3 1422.4,285.3 1424.4,284.9 1426.4,281.5 1428.4,275.2 1430.4,281 1432.4,277.3 1434.4,283.5 1436.4,282 1438.4,281.1 1440.4,285.4 1442.4,290.5 1444.4,295 1446.4,300.2 1448.4,298.5 1450.4,300.1 1452.4,300.3 1454.4,305.8 1456.4,309.2 1458.4,305.4 1460.4,316.7 1462.4,318.8 1464.4,324.2 1466.4,318.8 1468.4,323.7 1470.4,326.1 1472.4,325.3 1474.4,329 1476.4,331.2 1478.4,337.5 1480.4,339.8 1482.4,344.6 1484.4,340.3 1486.4,336.2 1488.4,339.2 1490.4,337.4 1492.4,336.6 1494.4,336.4 1496.4,330.2 1498.4,332.1 1500.4,326 1502.4,327.3 1504.4,327 1506.4,323.4 1508.4,322.7 1510.4,317 1512.4,317.3 1514.4,317.7 1516.4,312.7 1518.4,312 1520.4,318.6 1522.4,311.6 1524.4,307.3 1526.4,305.1 1528.4,309.6 1530.4,297.5 1532.4,302.3 1534.4,303.8 1536.4,300 1538.4,301.9 1540.4,297.1 1542.4,298.9 1544.4,298.2 1546.4,297.3 1548.4,296.8 1550.4,295.7 1552.4,297.6 1554.4,293.3 1556.4,291.6 1558.4,291.6 1560.4,290.7 1562.4,286.8 1564.4,285 1566.4,285.6 1568.4,288.9 1570.4,285.7 1572.4,285.5 1574.4,292.9 1576.4,287.7 1578.4,283.5 1580.4,281.6 1582.4,285.8 1584.4,279.6 1586.4,283.8 1588.4,281.4 1590.4,282.6 1592.4,276.5 1594.4,279.7 1596.4,272.1 1598.4,275.4 1600.4,277.7 1602.4,275.9 1604.4,268.7 1606.4,274.2 1608.4,272.8 1610.4,270.7 1612.4,268.2 1614.4,268.5 1616.4,267 1618.4,269.9 1620.4,267.9 1622.4,268.6 1624.4,266.8 1626.4,261.1 1628.4,263.8 1630.4,268 1632.4,259 1634.4,261.7 1636.4,258.2 1638.4,257.1 1640.4,259 1642.4,260 1644.4,258.8 1646.4,257.2 1648.4,257.6 1650.4,250.3 1652.4,255.6 1654.4,253.8 1656.4,251.5 1658.4,251.1 1660.4,248.1 1662.4,252.4 1664.4,246.7 1666.4,244.1 1668.4,247 1670.4,244.7 1672.4,245.2 1674.4,248.3 1676.4,243.3 1676.4,575.2 1674.4,577.2 1672.4,577 1670.4,581 1668.4,580.2 1666.4,576.9 1664.4,577.8 1662.4,576.1 1660.4,579.7 1658.4,577.9 1656.4,580 1654.4,582.6 1652.4,584.6 1650.4,581.5 1648.4,582.5 1646.4,585.6 1644.4,583.7 1642.4,581.9 1640.4,586.7 1638.4,581.8 1636.4,582.8 1634.4,590.1 1632.4,584.8 1630.4,587 1628.4,585.7 1626.4,586.7 1624.4,584.4 1622.4,584.4 1620.4,585.7 1618.4,584.5 1616.4,586.3 1614.4,588.1 1612.4,588.8 1610.4,587.9 1608.4,588.1 1606.4,590.5 1604.4,586.4 1602.4,595.7 1600.4,587.6 1598.4,589.8 1596.4,586 1594.4,592.4 1592.4,597.4 1590.4,593.5 1588.4,594.1 1586.4,598.3 1584.4,590.3 1582.4,591.1 1580.4,591 1578.4,597.8 1576.4,594.2 1574.4,592.1 1572.4,591.8 1570.4,596.8 1568.4,591.5 1566.4,599.5 1564.4,595.7 1562.4,597.7 1560.4,598.6 1558.4,593.5 1556.4,597.7 1554.4,597.9 1552.4,601.6 1550.4,600.7 1548.4,600.3 1546.4,604.8 1544.4,598.4 1542.4,599.5 1540.4,598.7 1538.4,603 1536.4,600.9 1534.4,602.2 1532.4,606.3 1530.4,599 1528.4,597.8 1526.4,598.5 1524.4,593.1 1522.4,598.4 1520.4,591.5 1518.4,592.4 1516.4,584.6 1514.4,586.5 1512.4,588.6 1510.4,588.6 1508.4,584.9 1506.4,583.2 1504.4,580.1 1502.4,579.3 1500.4,585.5 1498.4,577.8 1496.4,575.1 1494.4,568.5 1492.4,574.4 1490.4,564.2 1488.4,565.1 1486.4,566 1484.4,568.1 1482.4,565 1480.4,559.2 1478.4,555.8 1476.4,557.8 1474.4,554.8 1472.4,553.1 1470.4,546.4 1468.4,540.8 1466.4,541.3 1464.4,540 1462.4,535.9 1460.4,532.8 1458.4,535.2 1456.4,523.3 1454.4,527.7 1452.4,523.9 1450.4,520.2 1448.4,519.7 1446.4,518.5 1444.4,514.5 1442.4,512.9 1440.4,508.2 1438.4,505.5 1436.4,502 1434.4,505.8 1432.4,499.8 1430.4,498 1428.4,501 1426.4,510.5 1424.4,512.6 1422.4,520.5 1420.4,525.9 1418.4,527.6 1416.4,538.2 1414.4,542.1 1412.4,551.4 1410.4,554.5 1408.4,566.4 1406.4,565.7 1404.4,576.4 1402.4,578.1 1400.4,590.1 1398.4,595.3 1396.4,601.9 1394.4,599.8 1392.4,611.3 1390.4,608.5 1388.4,608.8 1386.4,617.2 1384.4,618.3 1382.4,617.9 1380.4,620.6 1378.4,626 1376.4,632.9 1374.4,635.9 1372.4,636.6 1370.4,639.6 1368.4,630.1 1366.4,627.1 1364.4,623.5 1362.4,618.4 1360.4,608.8 1358.4,607.5 1356.4,607.3 1354.4,595.7 1352.4,598.8 1350.4,591 1348.4,581 1346.4,578.9 1344.4,576.7 1342.4,574.9 1340.4,575.5 1338.4,572.4 1336.4,564.8 1334.4,566.4 1332.4,561.5 1330.4,566.7 1328.4,562.2 1326.4,558.2 1324.4,554.7 1322.4,551.9 1320.4,547.7 1318.4,546.9 1316.4,547.7 1314.4,541.1 1312.4,539.4 1310.4,538.3 1308.4,534.6 1306.4,534.8 1304.4,530.2 1302.4,527.9 1300.4,531.6 1298.4,524.9 1296.4,520.1 1294.4,522.6 1292.4,518 1290.4,515.2 1288.4,508.7 1286.4,509.6 1284.4,509.2 1282.4,502.7 1280.4,500.8 1278.4,497.5 1276.4,498.5 1274.4,494.7 1272.4,492.7 1270.4,492.5 1268.4,490.6 1266.4,482.3 1264.4,481.8 1262.4,476.5 1260.4,480.3 1258.4,474.5 1256.4,479 1254.4,466.2 1252.4,471.8 1250.4,468.9 1248.4,465.4 1246.4,463.4 1244.4,462.9 1242.4,461.5 1240.4,457.7 1238.4,456.3 1236.4,454.2 1234.4,448.7 1232.4,453.8 1230.4,453 1228.4,449.4 1226.4,444.5 1224.4,449.5 1222.4,441.9 1220.4,441.7 1218.4,442.8 1216.4,439.2 1214.4,435.1 1212.4,437.2 1210.4,436.1 1208.4,430 1206.4,431.6 1204.4,430.1 1202.4,425.5 1200.4,430.2 1198.4,428.7 1196.4,421.3 1194.4,424.8 1192.4,418.8 1190.4,421.2 1188.4,415.3 1186.4,414.9 1184.4,413.6 1182.4,408.2 1180.4,411.7 1178.4,409.4 1176.4,407.7 1174.4,402.3 1172.4,404.8 1170.4,400.5 1168.4,397.4 1166.4,393.9 1164.4,401.5 1162.4,398.8 1160.4,396.4 1158.4,391.3 1156.4,386 1154.4,393.3 1152.4,392.3 1150.4,381.9 1148.4,384.7 1146.4,381.4 1144.4,377.3 1142.4,377.7 1140.4,376.3 1138.4,373.9 1136.4,371.7 1134.4,367.5 1132.4,368 1130.4,372.6 1128.4,364.3 1126.4,363.1 1124.4,361.3 1122.4,361.6 1120.4,357.6 1118.4,353 1116.4,354.8 1114.4,353.1 1112.4,356 1110.4,344.6 1108.4,346.4 1106.4,343.3 1104.4,347.2 1102.4,347.4 1100.4,341.9 1098.4,341.2 1096.4,338 1094.4,335.5 1092.4,329.5 1090.4,334.8 1088.4,335.1 1086.4,330.5 1084.4,328.6 1082.4,324.2 1080.4,326.4 1078.4,321.2 1076.4,317.1 1074.4,320.9 1072.4,315.6 1070.4,314.4 1068.4,313.6 1066.4,312.7 1064.4,309.2 1062.4,306.5 1060.4,303.2 1058.4,303.9 1056.4,298.2 1054.4,301.9 1052.4,301.6 1050.4,303.4 1048.4,299 1046.4,297 1044.4,294.6 1042.4,296.6 1040.4,294.5 1038.4,295.2 1036.4,289.4 1034.4,294 1032.4,291.5 1030.4,285.7 1028.4,290.1 1026.4,284.3 1024.4,283.8 1022.4,286.9 1020.4,286.9 1018.4,284.5 1016.4,285.1 1014.4,279.7 1012.4,281.1 1010.4,280.4 1008.4,282.1 1006.4,282.2 1004.4,271.9 1002.4,275.1 1000.4,275.4 998.4,277.8 996.4,272.3 994.4,276 992.4,274.1 990.4,268.7 988.4,269.7 986.4,269.5 984.4,269.5 982.4,270.4 980.4,266.3 978.4,272.7 976.4,270 974.4,268.3 972.4,265.4 970.4,260.1 968.4,268.4 966.4,262.1" fill="#1a1a9a" fill-opacity="0.08"/>
<path d="M144.6,56.6 H136.6 V756.5 H847.5 V748.5" fill="none" stroke="#262626" stroke-width="2"/>
<line x1="136.6" y1="160.6" x2="144.6" y2="160.6" stroke="#262626" stroke-width="2"/>
<line x1="136.6" y1="264.3" x2="144.6" y2="264.3" stroke="#262626" stroke-width="2"/>
<line x1="136.6" y1="368" x2="144.6" y2="368" stroke="#262626" stroke-width="2"/>
<line x1="136.6" y1="471.7" x2="144.6" y2="471.7" stroke="#262626" stroke-width="2"/>
<line x1="136.6" y1="575.4" x2="144.6" y2="575.4" stroke="#262626" stroke-width="2"/>
<line x1="136.6" y1="679.1" x2="144.6" y2="679.1" stroke="#262626" stroke-width="2"/>
<line x1="278.8" y1="756.5" x2="278.8" y2="748.5" stroke="#262626" stroke-width="2"/>
<line x1="421" y1="756.5" x2="421" y2="748.5" stroke="#262626" stroke-width="2"/>
<line x1="563.1" y1="756.5" x2="563.1" y2="748.5" stroke="#262626" stroke-width="2"/>
<line x1="705.3" y1="756.5" x2="705.3" y2="748.5" stroke="#262626" stroke-width="2"/>
<line x1="563.2" y1="54" x2="563.2" y2="756.5" stroke="#000" stroke-width="5"/>
<text x="124" y="70.5" text-anchor="end" class="tk">4</text>
<text x="124" y="174.2" text-anchor="end" class="tk">2</text>
<text x="124" y="277.9" text-anchor="end" class="tk">0</text>
<text x="124" y="381.6" text-anchor="end" class="tk">-2</text>
<text x="124" y="485.3" text-anchor="end" class="tk">-4</text>
<text x="124" y="589" text-anchor="end" class="tk">-6</text>
<text x="124" y="692.7" text-anchor="end" class="tk">-8</text>
<text x="136.6" y="803.6" text-anchor="middle" class="tk">-1.5</text>
<text x="278.8" y="803.6" text-anchor="middle" class="tk">-1</text>
<text x="421" y="803.6" text-anchor="middle" class="tk">-0.5</text>
<text x="563.1" y="803.6" text-anchor="middle" class="tk">0</text>
<text x="705.3" y="803.6" text-anchor="middle" class="tk">0.5</text>
<text x="847.5" y="803.6" text-anchor="middle" class="tk">1</text>
<text x="491.9" y="47.2" text-anchor="middle" class="ti">C3</text>
<path d="M974.4,56.6 H966.4 V756.5 H1676.6 V748.5" fill="none" stroke="#262626" stroke-width="2"/>
<line x1="966.4" y1="160.6" x2="974.4" y2="160.6" stroke="#262626" stroke-width="2"/>
<line x1="966.4" y1="264.3" x2="974.4" y2="264.3" stroke="#262626" stroke-width="2"/>
<line x1="966.4" y1="368" x2="974.4" y2="368" stroke="#262626" stroke-width="2"/>
<line x1="966.4" y1="471.7" x2="974.4" y2="471.7" stroke="#262626" stroke-width="2"/>
<line x1="966.4" y1="575.4" x2="974.4" y2="575.4" stroke="#262626" stroke-width="2"/>
<line x1="966.4" y1="679.1" x2="974.4" y2="679.1" stroke="#262626" stroke-width="2"/>
<line x1="1108.4" y1="756.5" x2="1108.4" y2="748.5" stroke="#262626" stroke-width="2"/>
<line x1="1250.5" y1="756.5" x2="1250.5" y2="748.5" stroke="#262626" stroke-width="2"/>
<line x1="1392.5" y1="756.5" x2="1392.5" y2="748.5" stroke="#262626" stroke-width="2"/>
<line x1="1534.6" y1="756.5" x2="1534.6" y2="748.5" stroke="#262626" stroke-width="2"/>
<line x1="1392.6" y1="54" x2="1392.6" y2="756.5" stroke="#000" stroke-width="5"/>
<text x="952.8" y="70.5" text-anchor="end" class="tk">4</text>
<text x="952.8" y="174.2" text-anchor="end" class="tk">2</text>
<text x="952.8" y="277.9" text-anchor="end" class="tk">0</text>
<text x="952.8" y="381.6" text-anchor="end" class="tk">-2</text>
<text x="952.8" y="485.3" text-anchor="end" class="tk">-4</text>
<text x="952.8" y="589" text-anchor="end" class="tk">-6</text>
<text x="952.8" y="692.7" text-anchor="end" class="tk">-8</text>
<text x="966.4" y="803.6" text-anchor="middle" class="tk">-1.5</text>
<text x="1108.4" y="803.6" text-anchor="middle" class="tk">-1</text>
<text x="1250.5" y="803.6" text-anchor="middle" class="tk">-0.5</text>
<text x="1392.5" y="803.6" text-anchor="middle" class="tk">0</text>
<text x="1534.6" y="803.6" text-anchor="middle" class="tk">0.5</text>
<text x="1676.6" y="803.6" text-anchor="middle" class="tk">1</text>
<text x="1321.9" y="47.2" text-anchor="middle" class="ti">C4</text>
<line x1="137.6" y1="264.3" x2="847.5" y2="264.3" stroke="#b1b0b5" stroke-width="4.2"/>
<line x1="967.4" y1="264.3" x2="1676.6" y2="264.3" stroke="#b1b0b5" stroke-width="4.2"/>
<polyline points="137,236 139.7,236.1 142.3,235.8 145,238 147.8,241.4 150.5,243 153.6,242.6 156.6,242 160,244 163.4,247.9 166.8,250.1 169.9,252.3 172.9,252.4 176,250.8 179.1,252.2 182.2,251.8 185.2,253.9 188.3,256.1 191.4,257.3 194.1,252.9 196.9,254.3 199.6,253.2 202.7,254.1 205.7,257.3 208.8,260.1 211.8,263.4 214.7,263.4 217.6,264.8 220.4,266 223.3,264.9 226.2,265.5 229.6,271.4 233,272.8 236.4,277.8 239.5,279 242.6,280.5 245.6,280.2 248.7,280.8 251.6,280.9 254.4,281.7 257.3,283.3 260.1,285.2 263,286 265.9,287.5 268.7,291.4 271.6,294.4 274.4,298.1 277.3,300.3 280.4,300.8 283.5,301.3 286.5,300.2 289.6,301.3 292.7,304.5 295.8,309 298.8,313.2 301.9,314.6 305,312.4 308,315.5 311.1,314.8 314.2,312.5 317.6,319.7 321,325.2 324.4,331 327.8,334 331.2,339.7 334.6,341.2 338,342.4 341.5,340.8 344.9,337.1 348.2,343.3 351.4,346.6 354.7,349 357.9,355.1 361.2,359.6 364.6,360.5 368.1,357.9 371.5,359.6 374.4,363.3 377.3,366.6 380.2,370.1 383.2,370.9 386.1,374.8 389,378.3 391.9,382.1 394.8,382.3 397.8,387.9 400.7,386.7 403.6,389.6 406.5,390.5 409.5,394.7 412.4,394.4 414.9,397.5 417.5,398 420,398.5 423.1,403.4 426.2,414 429.3,421.7 432.1,423.5 434.9,424.9 437.6,423.7 440.4,427.8 443.2,426.4 446.1,428.7 449,433.6 451.9,439.8 454.8,442.6 457.9,441.9 461,443.7 464.1,440.3 467,444 469.9,446.4 472.7,450.2 475.6,454.2 478.7,457.4 481.8,461.8 484.9,468.1 488,469.7 491.1,470.4 494.2,470.4 497.1,476.1 500,477.5 502.9,484.7 505.8,486.6 508.9,490.9 512,497.9 515.1,500.5 518.5,508.1 522,516.8 525.1,521.2 528.2,527.9 531.3,533 534.4,536.7 537.5,537.9 540.6,540 543.5,535.7 546.4,533 549.1,522 551.8,512.6 554.5,505.2 558,489.6 561.4,472.7 564.3,465.9 567.2,456.5 570.4,455.1 573.6,452.8 576.8,454.2 580,451.9 583.5,440.9 586.9,433.3 590.4,417.3 593.9,403.2 596.8,395.3 599.7,385.8 602.4,384 605.1,388.6 607.8,389.3 610.9,392.4 614,397.1 617.1,400.8 620.6,403.8 624,407.3 627.5,410.1 630.2,416.4 632.9,420 635.6,426.4 639.1,438.6 642.6,447.2 645.5,452.2 648.4,456.4 651.3,460.9 654.2,463.4 657.1,463.8 660,463.3 662.9,461.8 665.8,461.1 669,462 672.3,466.5 675.5,468.4 678.8,470.4 682,475 684.9,473.6 687.8,470.8 690.7,468.5 693.6,468.1 696.8,466.8 700,468.2 703.2,467.9 706.4,467.4 709.5,468 712.7,465.6 715.9,466.4 719.1,464.4 722,468.1 724.8,469.7 727.6,467 730.5,472 733.9,473.1 737.2,471.5 740.5,471.1 743.9,470.1 747.1,465.5 750.3,460.4 753.5,454.8 756.8,457.1 760.1,458.2 763.5,458.1 766.8,462.5 769.4,456.6 771.9,450 774.5,445.3 777.4,444.8 780.2,441.1 783,439.7 785.9,437.7 789.1,437.9 792.3,439.6 795.5,441.5 798.4,437.7 801.2,431.9 804,430.4 806.9,426.2 810.2,428 813.6,428.5 816.9,428.8 820.3,433.8 823.5,430.7 826.6,425.8 829.8,422.4 832.8,421.2 835.9,421.1 838.9,423.3 841.9,420.4 845,420.1 848,419.5" fill="none" stroke="#e63c30" stroke-width="8" stroke-linejoin="round"/>
<polyline points="137,254 139.7,257.1 142.3,259.3 145,257.6 147.8,254.2 150.5,251 153.6,251.9 156.6,257.4 159.6,259.4 162.7,261.4 165.6,260.3 168.4,261.3 171.3,260.6 174.1,260.1 177,259.3 179.9,260.8 182.8,262.9 185.6,262.7 188.5,264.8 191.4,266.5 194.8,262.8 198.2,261.1 201.6,257.3 204.5,257.8 207.4,257.7 210.2,257.5 213.1,258.6 216,259.3 219.1,263.9 222.1,268.2 225.1,274.9 228.2,277.8 231.6,275 235.1,266.1 238.5,265.5 241.4,264.3 244.2,267.7 247.1,268.6 249.9,270.7 252.8,271.6 256.2,271.2 259.6,273 263,269.6 266.4,271.9 269.8,276.6 273.2,280.8 276.6,282.5 280.1,279.6 283.5,277.8 286.2,283.4 289,286.6 291.7,292 294.4,287.2 297.1,286.8 299.8,283.9 302.7,285.3 305.6,284.7 308.4,286.7 311.3,288.7 314.2,290 317.6,289.4 321,291.2 324.4,292 327.5,295.2 330.5,298.2 333.6,300.6 336.7,304.4 340.1,302.4 343.5,300.1 346.9,296.2 350,299.7 353,301.3 356.1,306.4 359.2,308.5 362.1,308.2 364.9,310.4 367.8,308.3 370.6,311.3 373.5,310.5 376.9,313.9 380.3,315.7 383.7,320.7 386.4,318.3 389.2,316.7 391.9,314.6 394.8,317.4 397.6,318.2 400.5,320.5 403.3,324.7 406.2,326.9 409.6,328.3 413.1,331.3 416.5,333 420,333.6 422.8,335.7 425.6,333.8 428.3,337.4 431.1,339.8 433.9,339.4 436.7,340.9 439.5,342.1 442.2,346 445,347.2 447.8,348.7 450.6,349.9 453.4,348.3 456.1,346.8 458.9,348.6 461.7,348.7 464.6,351.9 467.5,357.2 470.4,360.2 473.3,363.7 476,359.3 478.7,357.5 481.4,356.8 484.4,360.5 487.4,362.8 490.5,363.6 493.5,367 496.5,369.5 499.5,370.4 502.5,370.8 505.5,371.7 508.4,371.2 511.4,371.1 514.4,371.2 517.4,371.9 520.6,374.7 523.9,371.7 527.1,375.9 530.4,377.5 533.6,378.8 536.7,380.4 539.8,386.2 542.9,389.3 545.7,390.3 548.5,394.1 551.2,394.7 554,397.5 556.8,398.5 559.7,396.6 562.6,391.6 566.1,356.8 569.5,353.8 573,349.8 575.4,335.9 577.7,324.3 580.8,318.5 583.8,318.8 586.9,312.7 589.8,298.7 592.7,284.9 596.2,270.7 599.7,258.3 602.4,260.4 605.1,261.9 607.8,264.1 610.7,271 613.6,275.6 615.9,286.1 618.2,296.5 621,295.6 623.8,293.7 626.6,294.4 629.4,291.5 632.2,291.9 634.9,297.4 637.6,303.1 640.3,305.8 643.4,308.5 646.4,311.9 649.5,319.7 652.4,322.8 655.3,327.7 658.2,325.4 661.1,329 663.9,329 666.7,333 669.4,332.8 672.2,334.8 675,337.1 677.7,334.3 680.5,333.1 683.2,330.1 686.1,332.7 689,336.7 691.9,339.2 694.7,341.4 697.6,345.2 700.5,348.7 703.4,346 706.3,345.8 709.2,342.9 712.1,342.9 714.7,340.2 717.2,340.3 720.1,344.6 722.9,345 725.8,347.4 728.6,349.8 731.8,348.9 735,346.1 738.2,344.8 741.3,344 744.5,342.3 747.7,340.3 750.8,339.3 753.9,342.3 757,341 760.2,340.8 763.3,341.5 766.4,342.6 769.5,345.7 772.6,344.1 775.9,339.2 779.2,337.6 782.6,331.3 785.9,330.7 789.2,329.7 792.6,330 795.9,327.5 799.3,326.9 801.8,328 804.4,331 806.9,332.6 809.5,329.7 812,325.9 814.6,321.2 817.8,326.3 820.9,326.5 824.1,328.8 827.5,326.1 830.8,324.8 834.1,323 837.5,321.2 840.1,321.2 842.8,320.8 845.4,320.9 848,320.5" fill="none" stroke="#031596" stroke-width="8" stroke-linejoin="round"/>
<polyline points="966,231.7 969.4,231.9 972.7,231 976,231.2 979.4,231.7 982.6,232.6 985.9,242.1 989.1,243.8 992.3,244.5 995.6,241.7 998.8,241.3 1002,246.4 1005.2,249.8 1008.4,253.5 1011.6,250.3 1014.9,249.9 1018.1,246.2 1021.3,248.6 1024.6,251.4 1027.8,253.6 1031,258.1 1034.3,260.2 1037.5,263.1 1040.7,266.2 1044,267.2 1047.2,270.6 1050.4,271.7 1053.7,276.4 1056.9,277.7 1060.1,278.7 1063.4,279.7 1066.6,280.6 1069.8,279.6 1073.1,282.7 1076.3,282.5 1079.2,286.6 1082.1,283.3 1085,284.6 1087.9,286.4 1090.8,289.8 1093.7,294.3 1096.6,296.7 1099.5,301.3 1102.4,304.3 1105.3,306.7 1108.3,307.9 1111.3,308.9 1114.4,309.2 1117.4,311.5 1120.4,309.8 1123.5,311.6 1126.5,313.4 1129.5,314 1132.7,317.1 1136,314.6 1139.2,315 1142.4,316.5 1145.7,319.3 1148.9,318.8 1151.8,323.8 1154.7,331.2 1157.7,332.4 1160.6,341.6 1163.5,345.5 1166.7,348.5 1169.9,346.9 1173.2,350.5 1176.4,353.5 1179.6,353.7 1182.8,355.2 1185.7,359.4 1188.6,364.1 1191.6,364.3 1194.5,366.4 1197.4,369.7 1200.6,370.3 1203.8,373.8 1207.1,374.3 1210.3,375.9 1213.5,377.6 1216.7,379.4 1219.9,382.7 1223.2,382.8 1226.4,384.7 1229.6,385.9 1232.9,393 1236.1,393.9 1238.9,396 1241.7,399.8 1244.4,399.8 1247.2,400.9 1250,403.8 1252.9,405.2 1255.7,405.3 1258.6,404.6 1261.5,405.9 1264.3,410.2 1267.2,408.7 1270.5,415.3 1273.7,421.5 1277,427.1 1279.9,428 1282.9,428.6 1285.8,431.9 1288.8,431.8 1291.7,433.2 1295,435.5 1298.3,439.6 1301.6,443 1304.9,445.9 1308.1,451.4 1311.4,455.3 1315.1,459.2 1318.7,460.2 1321.2,464 1323.7,470 1327,477.6 1330.2,480.6 1333.5,487.2 1336.8,489 1340,489.4 1343.3,492.1 1346.4,495.5 1349.4,499.6 1352.5,502.6 1355.6,506.9 1359.2,513.3 1362.9,521.6 1366.6,526.9 1370.3,533.9 1374,524.2 1377.7,516.7 1381,504 1384.2,495.1 1387.5,484.8 1391.2,474.3 1394.8,462.7 1398.5,466.9 1402.2,468.8 1405.9,467.8 1409.6,465.1 1413.2,457.2 1416.9,443 1420.2,426.2 1423.5,408.1 1426.8,391.5 1430.1,387.4 1433.3,377.1 1436.6,371.9 1439.9,375.6 1443.1,375.5 1446.4,379.2 1449.7,383.8 1452.9,384.8 1456.2,391.5 1459.5,401.7 1462.7,409.3 1466,418.5 1469.3,427.1 1472.6,440.3 1475.9,448 1479.6,451.4 1483.2,452.9 1486.9,449.3 1490.6,445.5 1493.7,445.2 1496.8,446.7 1499.8,447.2 1502.9,448 1505.3,455.3 1509,451.9 1512.7,446.7 1515.8,448.1 1518.8,446.5 1521.9,447 1525,448 1528.3,449.7 1531.5,451.1 1534.8,455.3 1538.4,447.8 1542.1,441.8 1544.7,443.7 1547.4,446.8 1550,448 1553.2,448.4 1556.3,444.3 1559.5,444.8 1562.6,442.2 1565.8,444.1 1568.9,440.1 1572,439.5 1575.2,437.5 1578.2,434.8 1581.2,433.4 1584.3,433.2 1587.3,431 1590.3,430.4 1593.4,426.4 1596.4,427.8 1599.4,425.4 1602.3,423 1605.2,425.2 1608.1,421.4 1611,422 1614,417.5 1616.9,418.7 1619.8,415.8 1622.7,415.1 1625.6,414.5 1628.5,413.3 1631.7,413.7 1635,415.2 1638.2,416.7 1641.4,417.3 1644.7,417.2 1647.9,418.1 1650.8,414.9 1653.7,414.2 1656.6,413.5 1659.5,409.6 1662.4,410.9 1665.3,411.9 1668.2,410.6 1671.2,410.6 1674.1,412.1 1677,410.9" fill="none" stroke="#031596" stroke-width="8" stroke-linejoin="round"/>
<polyline points="966,248.6 969.4,250.1 972.7,242.9 976,245.5 979.4,243.8 982.3,245 985.2,247.1 988.1,249.3 991,248.9 993.9,253.5 996.9,254.1 1000,254.2 1003,260.5 1006,257.4 1009,257.5 1012,258.5 1015.1,258.9 1018.1,260.7 1021,259.6 1023.9,260.7 1026.8,262 1029.7,261.3 1032.7,263.1 1035.6,261.9 1038.5,262.4 1041.4,264.6 1044.3,263.6 1047.2,263.1 1050.1,263.4 1053,264.8 1055.9,266.7 1058.8,269.5 1061.8,267.6 1064.7,268.6 1067.6,271.2 1070.5,269.7 1073.4,271.5 1076.3,272.8 1079.2,275.6 1082.1,277 1085,278 1087.9,280.5 1090.8,277.6 1093.7,284.3 1096.6,283.5 1099.5,284.2 1102.4,288.5 1105.3,289.8 1108.3,290.4 1111.3,288.6 1114.4,287.5 1117.4,288.6 1120.4,288.2 1123.5,289.8 1126.5,288.7 1129.5,287.4 1132.5,288 1135.6,289.4 1138.6,288 1141.7,287.4 1144.7,289.7 1147.7,290 1150.8,289.2 1153.8,289.8 1156.7,289.8 1159.6,292 1162.5,289.5 1165.4,294.6 1168.3,295.3 1171.2,293.5 1174.1,296.7 1177,296.3 1179.9,299.5 1182.8,299.5 1186,297.7 1189.3,299.9 1192.5,302.8 1195.7,304.2 1199,300.7 1202.2,304.3 1205.1,304.9 1208,307.1 1210.9,307.1 1213.8,311.2 1216.8,308.8 1219.7,312 1222.6,311.4 1225.5,315.8 1228.4,315.2 1231.3,316.4 1234.4,317.4 1237.5,317.1 1240.7,323 1243.8,323.2 1246.9,324.7 1250,325.2 1253.3,329.1 1256.5,330.6 1259.8,332.6 1262.2,327.5 1264.7,324 1267.6,322.1 1270.4,321.3 1273.3,323.3 1276.2,318.8 1279,319.1 1281.9,319.1 1285.2,322.7 1288.4,327.5 1291.7,331.3 1294.6,332.9 1297.4,331.3 1300.3,331.6 1303.2,334.6 1306,337 1308.9,336.3 1312.2,340.1 1315.4,342.2 1318.7,344.8 1322,344 1325.3,344.4 1328.6,343.6 1332.2,339.6 1335.9,336.3 1339,339.2 1342.1,338.9 1345.1,341.9 1348.2,343.6 1351.5,341.8 1354.7,341 1358,338.7 1361.3,341.9 1364.5,347.7 1367.8,347.3 1371.1,350.5 1374.4,351.7 1377.7,351 1380.5,351.7 1383.2,357.3 1386,360.3 1388.7,364.5 1391.8,354.1 1394.8,342.4 1397.3,325.9 1399.8,315.4 1402.8,311.4 1405.9,304.3 1409,308.8 1412,310.5 1415.7,308.2 1419.4,309.2 1422.5,285.2 1425.5,263.8 1429.2,251.1 1432.9,240.5 1436.6,246.1 1440.3,251.6 1443.3,262.2 1446.4,271.2 1448.8,280 1451.3,283.5 1454.1,283.5 1456.8,285.1 1459.6,284.6 1462.4,284.7 1465.3,293.1 1468.1,297.9 1471,303.1 1474.7,312.2 1478.3,317.8 1482,326.2 1485.7,337.5 1489.3,343.4 1493,349.8 1496.3,352 1499.6,358.3 1502.9,359.6 1506.6,366.6 1510.2,371.9 1513.1,372.7 1515.9,373.7 1518.8,376.2 1521.7,375.9 1524.5,376.8 1527.4,379.2 1530.7,382.3 1533.9,387.3 1537.2,386.6 1540,386.8 1542.7,386.9 1545.5,386.6 1548.2,386.9 1551,389.1 1553.9,389.8 1556.8,390.2 1559.7,389.1 1562.6,389.5 1565.5,389.3 1568.4,389.3 1571.3,387.1 1574.2,388.5 1577.1,389.2 1580,389.1 1583,386.9 1586,386.1 1589.1,384.4 1592.1,383.8 1595.1,384.1 1598.2,381.3 1601.2,380.4 1604.2,379.4 1607.1,379.5 1610,378.3 1612.9,378.7 1615.8,372.8 1618.8,375.7 1621.7,373 1624.6,372.8 1627.5,372.7 1630.4,372.1 1633.3,369.7 1636.5,371.9 1639.8,371.5 1643,374.2 1646.2,372.5 1649.5,373.5 1652.7,374.5 1655.7,375.2 1658.8,373.2 1661.8,376.4 1664.8,374.6 1667.9,375.8 1670.9,372.7 1674,371.9 1677,372.1" fill="none" stroke="#e63c30" stroke-width="8" stroke-linejoin="round"/>
<line x1="181.6" y1="663.8" x2="264.2" y2="663.8" stroke="#031596" stroke-width="8"/>
<line x1="181.6" y1="705.6" x2="264.2" y2="705.6" stroke="#e63c30" stroke-width="8"/>
<text x="286.5" y="674" class="lg" textLength="70.5" lengthAdjust="spacingAndGlyphs">Left</text>
<text x="286.5" y="711.5" class="lg" textLength="98.5" lengthAdjust="spacingAndGlyphs">Right</text>
<text x="670" y="737.8" class="lg" textLength="137" lengthAdjust="spacingAndGlyphs">Time(s)</text>
<text x="153.5" y="82" class="uv">&#956;V</text>
<text x="8" y="53" class="pl" textLength="58.5" lengthAdjust="spacingAndGlyphs">(a)</text>
<text x="8" y="933.2" class="pl" textLength="59.7" lengthAdjust="spacingAndGlyphs">(b)</text>
<circle cx="309.0" cy="1243.6" r="215" fill="url(#ring)"/>
<g clip-path="url(#disk0)"><g filter="url(#jet)" transform="translate(309.0,1243.6)">
<path fill="#1c1c1c" d="M16 -16h16v8h-16zM16 -8h24v8h-24z"/>
<path fill="#1d1d1d" d="M8 -16h8v8h-8zM32 -16h16v8h-16zM8 -8h8v8h-8zM40 -8h16v8h-16z"/>
<path fill="#1e1e1e" d="M48 -16h8v8h-8zM0 -8h8v8h-8zM56 -8h8v8h-8zM16 0h32v8h-32z"/>
<path fill="#1f1f1f" d="M8 -24h32v8h-32zM0 -16h8v8h-8zM56 -16h16v8h-16zM64 -8h8v8h-8zM8 0h8v8h-8zM48 0h8v8h-8z"/>
<path fill="#202020" d="M40 -24h16v8h-16zM72 -16h8v8h-8zM72 -8h8v8h-8zM0 0h8v8h-8zM56 0h8v8h-8z"/>
<path fill="#212121" d="M0 -24h8v8h-8zM56 -24h8v8h-8zM-8 -8h8v8h-8zM64 0h8v8h-8zM16 8h24v8h-24z"/>
<path fill="#222222" d="M64 -24h8v8h-8zM-8 -16h8v8h-8zM80 -16h8v8h-8zM80 -8h8v8h-8zM-8 0h8v8h-8zM72 0h8v8h-8zM8 8h8v8h-8zM40 8h16v8h-16z"/>
<path fill="#232323" d="M8 -32h32v8h-32zM72 -24h8v8h-8zM56 8h8v8h-8z"/>
<path fill="#242424" d="M40 -32h8v8h-8zM-8 -24h8v8h-8zM88 -16h8v8h-8zM88 -8h8v8h-8zM80 0h8v8h-8zM0 8h8v8h-8zM64 8h8v8h-8z"/>
<path fill="#252525" d="M0 -32h8v8h-8zM48 -32h8v8h-8zM80 -24h8v8h-8zM-16 -8h8v8h-8z"/>
<path fill="#262626" d="M56 -32h8v8h-8zM-16 -16h8v8h-8zM-16 0h8v8h-8zM88 0h8v8h-8zM-8 8h8v8h-8zM72 8h8v8h-8zM16 16h32v8h-32z"/>
<path fill="#272727" d="M64 -32h8v8h-8zM88 -24h8v8h-8zM96 -16h8v8h-8zM96 -8h8v8h-8zM8 16h8v8h-8zM48 16h8v8h-8z"/>
<path fill="#282828" d="M16 -40h8v8h-8zM-8 -32h8v8h-8zM72 -32h8v8h-8zM-16 -24h8v8h-8zM80 8h8v8h-8zM56 16h8v8h-8z"/>
<path fill="#292929" d="M8 -40h8v8h-8zM24 -40h8v8h-8zM80 -32h8v8h-8zM-24 -8h8v8h-8zM96 0h8v8h-8zM-16 8h8v8h-8zM0 16h8v8h-8z"/>
<path fill="#2a2a2a" d="M0 -40h8v8h-8zM32 -40h8v8h-8zM96 -24h8v8h-8zM-24 -16h8v8h-8zM-24 0h8v8h-8zM88 8h8v8h-8zM64 16h8v8h-8z"/>
<path fill="#2b2b2b" d="M40 -40h8v8h-8zM88 -32h8v8h-8zM104 -8h8v8h-8zM-8 16h8v8h-8zM72 16h8v8h-8z"/>
<path fill="#2c2c2c" d="M48 -40h8v8h-8zM-16 -32h8v8h-8zM104 -16h8v8h-8zM16 24h32v8h-32z"/>
<path fill="#2d2d2d" d="M-8 -40h8v8h-8zM56 -40h8v8h-8zM-24 -24h8v8h-8zM-32 -8h8v8h-8zM-24 8h8v8h-8zM8 24h8v8h-8zM48 24h8v8h-8z"/>
<path fill="#2e2e2e" d="M64 -40h8v8h-8zM104 -24h8v8h-8zM-32 0h8v8h-8zM104 0h8v8h-8zM96 8h8v8h-8zM-16 16h8v8h-8zM80 16h8v8h-8z"/>
<path fill="#2f2f2f" d="M72 -40h8v8h-8zM96 -32h8v8h-8zM-32 -16h8v8h-8zM0 24h8v8h-8zM56 24h8v8h-8z"/>
<path fill="#303030" d="M8 -48h24v8h-24zM88 16h8v8h-8zM64 24h8v8h-8z"/>
<path fill="#313131" d="M0 -48h8v8h-8zM80 -40h8v8h-8zM112 -16h8v8h-8zM112 -8h8v8h-8zM-32 8h8v8h-8zM-8 24h8v8h-8z"/>
<path fill="#323232" d="M32 -48h8v8h-8zM-16 -40h8v8h-8zM-24 -32h8v8h-8zM-40 -8h8v8h-8zM-40 0h8v8h-8zM104 8h8v8h-8zM-24 16h8v8h-8zM72 24h8v8h-8zM24 32h8v8h-8z"/>
<path fill="#333333" d="M40 -48h8v8h-8zM88 -40h8v8h-8zM104 -32h8v8h-8zM-32 -24h8v8h-8zM112 0h8v8h-8zM16 32h8v8h-8zM32 32h16v8h-16z"/>
<path fill="#343434" d="M-8 -48h8v8h-8zM112 -24h8v8h-8zM-40 -16h8v8h-8zM-40 8h8v8h-8zM96 16h8v8h-8zM-16 24h8v8h-8zM8 32h8v8h-8zM48 32h8v8h-8z"/>
<path fill="#353535" d="M48 -48h8v8h-8zM-48 0h8v8h-8zM-32 16h8v8h-8zM80 24h8v8h-8z"/>
<path fill="#363636" d="M56 -48h8v8h-8zM96 -40h8v8h-8zM-48 -8h8v8h-8zM0 32h8v8h-8zM56 32h8v8h-8z"/>
<path fill="#373737" d="M64 -48h8v8h-8zM-48 8h8v8h-8zM-24 24h8v8h-8zM64 32h8v8h-8z"/>
<path fill="#383838" d="M-24 -40h8v8h-8zM-32 -32h8v8h-8zM112 -32h8v8h-8zM-40 -24h8v8h-8zM120 -16h8v8h-8zM120 -8h8v8h-8zM112 8h8v8h-8zM-40 16h8v8h-8zM104 16h8v8h-8zM88 24h8v8h-8zM-8 32h8v8h-8z"/>
<path fill="#393939" d="M8 -56h16v8h-16zM-16 -48h8v8h-8zM72 -48h8v8h-8zM-48 -16h8v8h-8zM-56 0h8v8h-8z"/>
<path fill="#3a3a3a" d="M0 -56h8v8h-8zM24 -56h8v8h-8zM80 -48h8v8h-8zM104 -40h8v8h-8zM120 -24h8v8h-8zM-56 -8h8v8h-8zM120 0h8v8h-8zM-56 8h8v8h-8zM72 32h8v8h-8zM16 40h32v8h-32z"/>
<path fill="#3b3b3b" d="M32 -56h8v8h-8zM-48 16h8v8h-8zM-32 24h8v8h-8zM96 24h8v8h-8zM-16 32h8v8h-8zM8 40h8v8h-8z"/>
<path fill="#3c3c3c" d="M88 -48h8v8h-8zM80 32h8v8h-8zM48 40h8v8h-8z"/>
<path fill="#3d3d3d" d="M-8 -56h8v8h-8zM40 -56h8v8h-8zM-56 -16h8v8h-8zM-64 0h8v8h-8zM0 40h8v8h-8zM56 40h8v8h-8z"/>
<path fill="#3e3e3e" d="M-40 -32h8v8h-8zM120 -32h8v8h-8zM-48 -24h8v8h-8zM-64 -8h8v8h-8zM-64 8h8v8h-8zM120 8h8v8h-8zM-56 16h8v8h-8zM112 16h8v8h-8zM-40 24h8v8h-8zM-24 32h8v8h-8z"/>
<path fill="#3f3f3f" d="M48 -56h8v8h-8zM-24 -48h8v8h-8zM96 -48h8v8h-8zM-32 -40h8v8h-8zM112 -40h8v8h-8zM128 -16h8v8h-8zM128 -8h8v8h-8zM-8 40h8v8h-8zM64 40h8v8h-8z"/>
<path fill="#404040" d="M-64 16h8v8h-8zM104 24h8v8h-8zM88 32h8v8h-8z"/>
<path fill="#414141" d="M56 -56h8v8h-8zM128 -24h8v8h-8zM-72 0h8v8h-8zM128 0h8v8h-8zM-72 8h8v8h-8zM-48 24h8v8h-8zM-32 32h8v8h-8zM72 40h8v8h-8zM16 48h24v8h-24z"/>
<path fill="#424242" d="M-16 -56h8v8h-8zM-64 -16h8v8h-8zM-72 -8h8v8h-8zM-16 40h8v8h-8zM8 48h8v8h-8zM40 48h8v8h-8z"/>
<path fill="#434343" d="M16 -64h8v8h-8zM64 -56h8v8h-8zM104 -48h8v8h-8zM-56 -24h8v8h-8zM-72 16h8v8h-8zM-56 24h8v8h-8zM96 32h8v8h-8zM48 48h8v8h-8z"/>
<path fill="#444444" d="M8 -64h8v8h-8zM24 -64h8v8h-8zM-48 -32h8v8h-8zM-80 0h8v8h-8zM-80 8h8v8h-8zM120 16h8v8h-8zM80 40h8v8h-8zM0 48h8v8h-8z"/>
<path fill="#454545" d="M0 -64h8v8h-8zM32 -64h8v8h-8zM72 -56h8v8h-8zM-40 -40h8v8h-8zM120 -40h8v8h-8zM128 -32h8v8h-8zM128 8h8v8h-8zM-80 16h8v8h-8zM-64 24h8v8h-8zM112 24h8v8h-8zM-40 32h8v8h-8zM-24 40h8v8h-8zM56 48h8v8h-8z"/>
<path fill="#464646" d="M80 -56h8v8h-8zM-32 -48h8v8h-8zM-72 -16h8v8h-8zM-80 -8h8v8h-8zM136 -8h8v8h-8zM-72 24h8v8h-8zM-8 48h8v8h-8z"/>
<path fill="#474747" d="M-24 -56h8v8h-8zM136 -16h8v8h-8zM-88 8h8v8h-8zM-88 16h8v8h-8zM-80 24h8v8h-8zM-48 32h8v8h-8zM64 48h8v8h-8zM24 56h8v8h-8z"/>
<path fill="#484848" d="M-8 -64h8v8h-8zM40 -64h8v8h-8zM88 -56h8v8h-8zM112 -48h8v8h-8zM-64 -24h8v8h-8zM136 -24h8v8h-8zM-88 0h8v8h-8zM136 0h8v8h-8zM104 32h8v8h-8zM-32 40h8v8h-8zM88 40h8v8h-8zM16 56h8v8h-8zM32 56h8v8h-8z"/>
<path fill="#494949" d="M-88 24h8v8h-8zM-56 32h8v8h-8zM-16 48h8v8h-8zM72 48h8v8h-8zM8 56h8v8h-8zM40 56h8v8h-8z"/>
<path fill="#4a4a4a" d="M48 -64h8v8h-8zM-56 -32h8v8h-8zM-88 -8h8v8h-8zM-96 8h8v8h-8zM-96 16h8v8h-8zM128 16h8v8h-8zM120 24h8v8h-8zM-72 32h16v8h-16zM0 56h8v8h-8zM48 56h8v8h-8z"/>
<path fill="#4b4b4b" d="M96 -56h8v8h-8zM128 -40h8v8h-8zM-80 -16h8v8h-8zM-96 0h8v8h-8zM-80 32h8v8h-8zM-40 40h8v8h-8zM96 40h8v8h-8zM-24 48h8v8h-8z"/>
<path fill="#4c4c4c" d="M-16 -64h8v8h-8zM-48 -40h8v8h-8zM136 -32h8v8h-8zM-72 -24h8v8h-8zM136 8h8v8h-8zM-96 24h8v8h-8zM-88 32h8v8h-8zM112 32h8v8h-8zM80 48h8v8h-8zM56 56h8v8h-8z"/>
<path fill="#4d4d4d" d="M56 -64h8v8h-8zM-40 -48h8v8h-8zM-8 56h8v8h-8z"/>
<path fill="#4e4e4e" d="M-32 -56h8v8h-8zM120 -48h8v8h-8zM-88 -16h8v8h-8zM-96 -8h8v8h-8zM144 -8h8v8h-8zM-104 8h8v8h-8zM-104 16h8v8h-8zM-96 32h8v8h-8zM-48 40h8v8h-8zM-32 48h8v8h-8zM64 56h8v8h-8zM16 64h24v8h-24z"/>
<path fill="#4f4f4f" d="M8 -72h24v8h-24zM-64 -32h8v8h-8zM144 -16h8v8h-8zM-104 0h8v8h-8zM-88 40h40v8h-40zM104 40h8v8h-8zM-16 56h8v8h-8zM8 64h8v8h-8zM40 64h8v8h-8z"/>
<path fill="#505050" d="M-24 -64h8v8h-8zM64 -64h8v8h-8zM104 -56h8v8h-8zM-80 -24h8v8h-8zM144 0h8v8h-8zM-104 24h8v8h-8zM128 24h8v8h-8zM-96 40h8v8h-8zM88 48h8v8h-8z"/>
<path fill="#515151" d="M0 -72h8v8h-8zM32 -72h8v8h-8zM-56 -40h8v8h-8zM144 -24h8v8h-8zM-104 -8h8v8h-8zM136 16h8v8h-8zM-104 32h8v8h-8zM-40 48h8v8h-8zM-24 56h8v8h-8zM72 56h8v8h-8zM0 64h8v8h-8zM48 64h8v8h-8z"/>
<path fill="#525252" d="M136 -40h8v8h-8zM-96 -16h8v8h-8zM120 32h8v8h-8z"/>
<path fill="#535353" d="M-8 -72h8v8h-8zM40 -72h8v8h-8zM72 -64h8v8h-8zM-72 -32h8v8h-8zM-112 0h8v8h-8zM-112 8h8v8h-8zM144 8h8v8h-8zM-88 48h16v8h-16zM96 48h8v8h-8zM-8 64h8v8h-8zM56 64h8v8h-8z"/>
<path fill="#545454" d="M-40 -56h8v8h-8zM112 -56h8v8h-8zM-48 -48h8v8h-8zM128 -48h8v8h-8zM144 -32h8v8h-8zM-88 -24h8v8h-8zM-112 16h8v8h-8zM-104 40h8v8h-8zM112 40h8v8h-8zM-96 48h8v8h-8zM-72 48h16v8h-16zM-48 48h8v8h-8zM-32 56h8v8h-8zM80 56h8v8h-8zM16 72h24v8h-24z"/>
<path fill="#555555" d="M80 -64h8v8h-8zM-104 -16h8v8h-8zM-112 -8h8v8h-8zM-112 24h8v8h-8zM-56 48h8v8h-8zM-16 64h8v8h-8zM64 64h8v8h-8zM8 72h8v8h-8zM40 72h8v8h-8z"/>
<path fill="#565656" d="M-16 -72h8v8h-8zM48 -72h8v8h-8zM-32 -64h8v8h-8zM-64 -40h8v8h-8z"/>
<path fill="#575757" d="M-80 -32h8v8h-8zM152 -16h8v8h-8zM152 -8h8v8h-8zM144 16h8v8h-8zM136 24h8v8h-8zM-112 32h8v8h-8zM128 32h8v8h-8zM-104 48h8v8h-8zM104 48h8v8h-8zM-88 56h16v8h-16zM-40 56h8v8h-8zM88 56h8v8h-8zM-24 64h8v8h-8zM0 72h8v8h-8zM48 72h8v8h-8z"/>
<path fill="#585858" d="M88 -64h8v8h-8zM-96 -24h8v8h-8zM152 0h8v8h-8zM-72 56h8v8h-8zM-48 56h8v8h-8zM72 64h8v8h-8zM-8 72h8v8h-8z"/>
<path fill="#595959" d="M-56 -48h8v8h-8zM152 -24h8v8h-8zM-112 -16h8v8h-8zM-120 0h8v8h-8zM-120 8h8v8h-8zM-120 16h8v8h-8zM-112 40h8v8h-8zM120 40h8v8h-8zM-96 56h8v8h-8zM-64 56h16v8h-16zM-32 64h8v8h-8z"/>
<path fill="#5a5a5a" d="M-24 -72h8v8h-8zM56 -72h8v8h-8zM120 -56h8v8h-8zM-72 -40h8v8h-8zM144 -40h8v8h-8zM-120 -8h8v8h-8zM152 8h8v8h-8zM96 56h8v8h-8zM-16 72h8v8h-8zM56 72h8v8h-8zM16 80h24v8h-24z"/>
<path fill="#5b5b5b" d="M16 -80h16v8h-16zM-40 -64h8v8h-8zM96 -64h8v8h-8zM-48 -56h8v8h-8zM136 -48h8v8h-8zM-88 -32h8v8h-8zM-104 -24h8v8h-8zM-120 24h8v8h-8zM112 48h8v8h-8zM-40 64h8v8h-8zM80 64h8v8h-8zM8 80h8v8h-8zM40 80h8v8h-8z"/>
<path fill="#5c5c5c" d="M8 -80h8v8h-8zM32 -80h8v8h-8zM-104 56h8v8h-8zM-88 64h24v8h-24zM-24 72h8v8h-8zM64 72h8v8h-8zM0 80h8v8h-8z"/>
<path fill="#5d5d5d" d="M0 -80h8v8h-8zM152 -32h8v8h-8zM-120 -16h8v8h-8zM144 24h8v8h-8zM-120 32h8v8h-8zM136 32h8v8h-8zM-112 48h8v8h-8zM104 56h8v8h-8zM-64 64h24v8h-24zM-8 80h8v8h-8zM48 80h8v8h-8z"/>
<path fill="#5e5e5e" d="M-32 -72h8v8h-8zM64 -72h8v8h-8zM-64 -48h8v8h-8zM-96 -32h8v8h-8zM-112 -24h8v8h-8zM152 16h8v8h-8zM128 40h8v8h-8zM-96 64h8v8h-8zM88 64h8v8h-8zM-32 72h8v8h-8z"/>
<path fill="#5f5f5f" d="M-8 -80h8v8h-8zM40 -80h8v8h-8zM104 -64h8v8h-8zM128 -56h8v8h-8zM-80 -40h8v8h-8zM-128 -8h8v8h-8zM160 -8h8v8h-8zM-128 0h8v8h-8zM-128 8h8v8h-8zM120 48h8v8h-8zM-40 72h8v8h-8zM72 72h8v8h-8zM-16 80h8v8h-8zM16 88h16v8h-16z"/>
<path fill="#606060" d="M-56 -56h8v8h-8zM160 -16h8v8h-8zM160 0h8v8h-8zM-128 16h8v8h-8zM-120 40h8v8h-8zM-80 72h16v8h-16zM-48 72h8v8h-8zM56 80h8v8h-8zM8 88h8v8h-8zM32 88h8v8h-8z"/>
<path fill="#616161" d="M-48 -64h8v8h-8zM-104 -32h8v8h-8zM-120 -24h8v8h-8zM-128 -16h8v8h-8zM-112 56h8v8h-8zM112 56h8v8h-8zM-104 64h8v8h-8zM96 64h8v8h-8zM-88 72h8v8h-8zM-64 72h16v8h-16zM-24 80h8v8h-8zM0 88h8v8h-8zM40 88h8v8h-8z"/>
<path fill="#626262" d="M-16 -80h8v8h-8zM-40 -72h8v8h-8zM72 -72h8v8h-8zM-72 -48h8v8h-8zM144 -48h8v8h-8zM160 -24h8v8h-8zM160 8h8v8h-8zM-128 24h8v8h-8zM-96 72h8v8h-8zM80 72h8v8h-8zM-32 80h8v8h-8zM-8 88h8v8h-8z"/>
<path fill="#636363" d="M48 -80h8v8h-8zM112 -64h8v8h-8zM-88 -40h8v8h-8zM152 -40h8v8h-8zM152 24h8v8h-8zM144 32h8v8h-8zM-120 48h8v8h-8zM-40 80h8v8h-8zM64 80h8v8h-8zM-16 88h8v8h-8zM48 88h8v8h-8z"/>
<path fill="#646464" d="M-24 -80h8v8h-8zM-64 -56h8v8h-8zM-112 -32h8v8h-8zM-128 -24h8v8h-8zM-136 0h8v8h-8zM136 40h8v8h-8zM128 48h8v8h-8zM104 64h8v8h-8zM88 72h8v8h-8zM-80 80h40v8h-40z"/>
<path fill="#656565" d="M136 -56h8v8h-8zM-136 -8h8v8h-8zM-136 8h8v8h-8zM160 16h8v8h-8zM-128 32h8v8h-8zM120 56h8v8h-8zM-112 64h8v8h-8zM-104 72h8v8h-8zM-88 80h8v8h-8zM-24 88h8v8h-8zM8 96h32v8h-32z"/>
<path fill="#666666" d="M80 -72h8v8h-8zM-56 -64h8v8h-8zM-80 -48h8v8h-8zM-96 -40h8v8h-8zM-120 -32h8v8h-8zM160 -32h8v8h-8zM-136 -16h8v8h-8zM72 80h8v8h-8zM-32 88h8v8h-8zM56 88h8v8h-8zM-8 96h16v8h-16z"/>
<path fill="#676767" d="M16 -88h16v8h-16zM-32 -80h8v8h-8zM-48 -72h8v8h-8zM-136 16h8v8h-8zM-120 56h8v8h-8zM112 64h8v8h-8zM96 72h8v8h-8zM-96 80h8v8h-8zM-72 88h40v8h-40zM-16 96h8v8h-8zM40 96h8v8h-8z"/>
<path fill="#686868" d="M8 -88h8v8h-8zM32 -88h8v8h-8zM56 -80h8v8h-8zM120 -64h8v8h-8zM-72 -56h8v8h-8zM-128 -32h8v8h-8zM-136 -24h8v8h-8zM168 -8h8v8h-8zM168 0h8v8h-8zM152 32h8v8h-8zM-128 40h8v8h-8zM80 80h8v8h-8zM-80 88h8v8h-8zM-24 96h8v8h-8z"/>
<path fill="#696969" d="M88 -72h8v8h-8zM-104 -40h8v8h-8zM168 -16h8v8h-8zM-136 24h8v8h-8zM160 24h8v8h-8zM144 40h8v8h-8zM-112 72h8v8h-8zM104 72h8v8h-8zM-88 88h8v8h-8zM64 88h8v8h-8zM-32 96h8v8h-8zM48 96h8v8h-8zM8 104h16v8h-16z"/>
<path fill="#6a6a6a" d="M0 -88h8v8h-8zM-40 -80h8v8h-8zM-64 -64h8v8h-8zM-88 -48h8v8h-8zM152 -48h8v8h-8zM-144 -16h8v8h-8zM-144 -8h8v8h-8zM-144 0h8v8h-8zM168 8h8v8h-8zM136 48h8v8h-8zM128 56h8v8h-8zM120 64h8v8h-8zM-104 80h8v8h-8zM88 80h8v8h-8zM-72 96h40v8h-40zM-8 104h16v8h-16zM24 104h8v8h-8z"/>
<path fill="#6b6b6b" d="M40 -88h8v8h-8zM-56 -72h8v8h-8zM-112 -40h8v8h-8zM-136 -32h8v8h-8zM-144 -24h8v8h-8zM168 -24h8v8h-8zM-128 48h8v8h-8zM-120 64h8v8h-8zM-96 88h8v8h-8zM-80 96h8v8h-8zM-24 104h16v8h-16zM32 104h8v8h-8z"/>
<path fill="#6c6c6c" d="M-8 -88h8v8h-8zM96 -72h8v8h-8zM128 -64h8v8h-8zM144 -56h8v8h-8zM-120 -40h8v8h-8zM160 -40h8v8h-8zM-144 8h8v8h-8zM168 16h8v8h-8zM-136 32h8v8h-8zM112 72h8v8h-8zM96 80h8v8h-8zM72 88h8v8h-8zM-88 96h8v8h-8zM56 96h8v8h-8zM-72 104h48v8h-48z"/>
<path fill="#6d6d6d" d="M-16 -88h8v8h-8zM-48 -80h8v8h-8zM-80 -56h8v8h-8zM-128 -40h8v8h-8zM-144 16h8v8h-8zM160 32h8v8h-8zM152 40h8v8h-8zM-104 88h8v8h-8zM-80 104h8v8h-8zM40 104h8v8h-8z"/>
<path fill="#6e6e6e" d="M-24 -88h8v8h-8zM64 -80h8v8h-8zM-72 -64h8v8h-8zM-96 -48h8v8h-8zM-144 -32h8v8h-8zM144 48h8v8h-8zM-128 56h8v8h-8zM136 56h8v8h-8zM128 64h8v8h-8zM120 72h8v8h-8zM-112 80h8v8h-8zM104 80h8v8h-8zM-96 96h8v8h-8zM-64 112h88v8h-88z"/>
<path fill="#6f6f6f" d="M-64 -72h8v8h-8zM-136 -40h8v8h-8zM168 -32h8v8h-8zM-152 -16h8v8h-8zM168 24h8v8h-8zM-136 40h8v8h-8zM-120 72h8v8h-8zM80 88h8v8h-8zM64 96h8v8h-8zM-88 104h8v8h-8zM48 104h8v8h-8zM-72 112h8v8h-8zM24 112h8v8h-8z"/>
<path fill="#707070" d="M-32 -88h8v8h-8zM48 -88h8v8h-8zM-56 -80h8v8h-8zM104 -72h8v8h-8zM-152 -24h8v8h-8zM-152 -8h8v8h-8zM-152 0h8v8h-8zM176 0h8v8h-8zM-144 24h8v8h-8zM112 80h8v8h-8zM88 88h8v8h-8zM-80 112h8v8h-8zM32 112h8v8h-8zM-64 120h16v8h-16z"/>
<path fill="#717171" d="M-40 -88h8v8h-8zM-88 -56h8v8h-8zM-104 -48h8v8h-8zM-144 -40h8v8h-8zM-152 -32h8v8h-8zM176 -8h8v8h-8zM176 8h8v8h-8zM-128 64h8v8h-8zM-112 88h8v8h-8zM-104 96h8v8h-8zM-96 104h8v8h-8zM-88 112h8v8h-8zM-72 120h8v8h-8zM-48 120h56v8h-56z"/>
<path fill="#727272" d="M-80 -64h8v8h-8zM136 -64h8v8h-8zM176 -16h8v8h-8zM-152 8h8v8h-8zM160 40h8v8h-8zM152 48h8v8h-8zM136 64h8v8h-8zM128 72h8v8h-8zM-120 80h8v8h-8zM120 80h8v8h-8zM96 88h8v8h-8zM72 96h8v8h-8zM56 104h8v8h-8zM40 112h8v8h-8zM-80 120h8v8h-8zM8 120h8v8h-8z"/>
<path fill="#737373" d="M16 -96h16v8h-16zM-48 -88h8v8h-8zM-64 -80h8v8h-8zM72 -80h8v8h-8zM-72 -72h8v8h-8zM112 -72h8v8h-8zM-120 -48h16v8h-16zM160 -48h8v8h-8zM176 16h8v8h-8zM-144 32h8v8h-8zM168 32h8v8h-8zM-136 48h8v8h-8zM144 56h8v8h-8zM104 88h8v8h-8zM16 120h8v8h-8zM-64 128h16v8h-16z"/>
<path fill="#747474" d="M32 -96h8v8h-8zM152 -56h8v8h-8zM-136 -48h16v8h-16zM-152 -40h8v8h-8zM-160 -16h8v8h-8zM-152 16h8v8h-8zM-128 72h8v8h-8zM112 88h8v8h-8zM-112 96h8v8h-8zM-104 104h8v8h-8zM-96 112h8v8h-8zM-88 120h8v8h-8zM24 120h8v8h-8zM-72 128h8v8h-8zM-48 128h48v8h-48z"/>
<path fill="#757575" d="M8 -96h8v8h-8zM-144 -48h8v8h-8zM168 -40h8v8h-8zM-160 -24h8v8h-8zM176 -24h8v8h-8zM-160 -8h8v8h-8zM136 72h8v8h-8zM128 80h8v8h-8zM-120 88h8v8h-8zM120 88h8v8h-8zM80 96h8v8h-8zM64 104h8v8h-8zM48 112h8v8h-8zM-80 128h8v8h-8zM0 128h8v8h-8z"/>
<path fill="#767676" d="M-56 -88h8v8h-8zM56 -88h8v8h-8zM-96 -56h8v8h-8zM-160 -32h8v8h-8zM-160 0h8v8h-8zM176 24h8v8h-8zM160 48h8v8h-8zM-136 56h8v8h-8zM152 56h8v8h-8zM144 64h8v8h-8zM88 96h8v8h-8zM-96 120h8v8h-8zM32 120h8v8h-8zM8 128h8v8h-8z"/>
<path fill="#777777" d="M0 -96h8v8h-8zM40 -96h8v8h-8zM-72 -80h8v8h-8zM-80 -72h8v8h-8zM120 -72h8v8h-8zM-88 -64h8v8h-8zM-152 24h8v8h-8zM-144 40h8v8h-8zM168 40h8v8h-8zM-128 80h8v8h-8zM96 96h24v8h-24zM-112 104h8v8h-8zM-104 112h8v8h-8zM-88 128h8v8h-8zM16 128h8v8h-8zM-64 136h24v8h-24z"/>
<path fill="#787878" d="M-24 -96h24v8h-24zM80 -80h8v8h-8zM144 -64h8v8h-8zM-152 -48h8v8h-8zM-160 -40h8v8h-8zM-160 8h8v8h-8zM-136 64h8v8h-8zM136 80h8v8h-8zM128 88h8v8h-8zM120 96h8v8h-8zM72 104h8v8h-8zM56 112h8v8h-8zM40 120h8v8h-8zM24 128h8v8h-8zM-72 136h8v8h-8zM-40 136h48v8h-48z"/>
<path fill="#797979" d="M-40 -96h16v8h-16zM-64 -88h8v8h-8zM-104 -56h8v8h-8zM176 -32h8v8h-8zM184 0h8v8h-8zM184 8h8v8h-8zM176 32h8v8h-8zM152 64h8v8h-8zM144 72h8v8h-8zM-120 96h8v8h-8zM-104 120h8v8h-8zM-80 136h8v8h-8zM8 136h8v8h-8z"/>
<path fill="#7a7a7a" d="M-168 -24h8v8h-8zM-168 -16h8v8h-8zM-168 -8h8v8h-8zM184 -8h8v8h-8zM-160 16h8v8h-8zM-152 32h8v8h-8zM-144 48h8v8h-8zM168 48h8v8h-8zM160 56h8v8h-8zM-136 72h8v8h-8zM-128 88h8v8h-8zM136 88h8v8h-8zM128 96h8v8h-8zM80 104h8v8h-8zM-112 112h8v8h-8zM-96 128h8v8h-8zM32 128h8v8h-8z"/>
<path fill="#7b7b7b" d="M-48 -96h8v8h-8zM88 -80h8v8h-8zM-112 -56h8v8h-8zM-168 -32h8v8h-8zM184 -16h8v8h-8zM-168 0h8v8h-8zM184 16h8v8h-8zM144 80h8v8h-8zM-120 104h8v8h-8zM88 104h32v8h-32zM64 112h8v8h-8zM48 120h8v8h-8zM-88 136h8v8h-8zM16 136h8v8h-8z"/>
<path fill="#7c7c7c" d="M-72 -88h8v8h-8zM-80 -80h8v8h-8zM-88 -72h8v8h-8zM128 -72h8v8h-8zM-96 -64h8v8h-8zM-144 -56h32v8h-32zM160 -56h8v8h-8zM168 -48h8v8h-8zM-160 24h8v8h-8zM184 24h8v8h-8zM176 40h8v8h-8zM152 72h8v8h-8zM120 104h8v8h-8zM-64 144h16v8h-16zM-32 144h40v8h-40z"/>
<path fill="#7d7d7d" d="M-56 -96h8v8h-8zM48 -96h8v8h-8zM64 -88h8v8h-8zM-160 -48h8v8h-8zM-168 8h8v8h-8zM-152 40h8v8h-8zM-144 56h8v8h-8zM160 64h8v8h-8zM-136 80h8v8h-8zM144 88h8v8h-8zM-128 96h8v8h-8zM136 96h8v8h-8zM128 104h8v8h-8zM72 112h8v8h-8zM-112 120h8v8h-8zM56 120h8v8h-8zM-104 128h8v8h-8zM40 128h8v8h-8zM24 136h8v8h-8zM-72 144h8v8h-8zM-48 144h16v8h-16zM8 144h8v8h-8z"/>
<path fill="#7e7e7e" d="M24 -104h8v8h-8zM-152 -56h8v8h-8zM-168 -40h8v8h-8zM176 -40h8v8h-8zM184 -24h8v8h-8zM168 56h8v8h-8zM-144 64h8v8h-8zM-120 112h8v8h-8zM-96 136h8v8h-8z"/>
<path fill="#7f7f7f" d="M16 -104h8v8h-8zM32 -104h8v8h-8zM-64 -96h8v8h-8zM96 -80h8v8h-8zM152 -64h8v8h-8zM-176 -16h8v8h-8zM-168 16h8v8h-8zM-160 32h8v8h-8zM184 32h8v8h-8zM176 48h8v8h-8zM152 80h8v8h-8zM-136 88h8v8h-8zM-128 104h8v8h-8zM80 112h8v8h-8zM112 112h8v8h-8zM32 136h8v8h-8zM-80 144h8v8h-8zM16 144h8v8h-8z"/>
<path fill="#808080" d="M8 -104h8v8h-8zM-80 -88h8v8h-8zM136 -72h8v8h-8zM-104 -64h8v8h-8zM-176 -24h8v8h-8zM-176 -8h8v8h-8zM-152 48h8v8h-8zM-144 72h8v8h-8zM160 72h8v8h-8zM144 96h8v8h-8zM136 104h8v8h-8zM88 112h24v8h-24zM120 112h8v8h-8zM-120 120h8v8h-8zM64 120h8v8h-8zM-112 128h8v8h-8zM48 128h8v8h-8zM-104 136h8v8h-8zM-88 144h8v8h-8zM-16 152h24v8h-24z"/>
<path fill="#818181" d="M-88 -80h8v8h-8zM-176 -32h8v8h-8zM-176 0h8v8h-8zM192 0h8v8h-8zM192 8h8v8h-8zM-168 24h8v8h-8zM184 40h8v8h-8zM168 64h8v8h-8zM152 88h8v8h-8zM-136 96h8v8h-8zM128 112h8v8h-8zM24 144h8v8h-8zM-24 152h8v8h-8zM8 152h8v8h-8z"/>
<path fill="#828282" d="M-32 -104h16v8h-16zM0 -104h8v8h-8zM-72 -96h8v8h-8zM104 -80h8v8h-8zM-96 -72h8v8h-8zM-168 -48h8v8h-8zM184 -32h8v8h-8zM192 -8h8v8h-8zM-176 8h8v8h-8zM192 16h8v8h-8zM-160 40h8v8h-8zM176 56h8v8h-8zM-144 80h8v8h-8zM160 80h8v8h-8zM-128 112h8v8h-8zM72 120h8v8h-8zM40 136h8v8h-8zM-32 152h8v8h-8zM16 152h8v8h-8z"/>
<path fill="#838383" d="M-48 -104h16v8h-16zM-16 -104h16v8h-16zM40 -104h8v8h-8zM-112 -64h8v8h-8zM-160 -56h8v8h-8zM192 24h8v8h-8zM-152 56h8v8h-8zM168 72h8v8h-8zM-144 88h8v8h-8zM152 96h8v8h-8zM-136 104h8v8h-8zM144 104h8v8h-8zM136 112h8v8h-8zM-120 128h8v8h-8zM56 128h8v8h-8zM-96 144h8v8h-8zM32 144h8v8h-8zM-48 152h16v8h-16z"/>
<path fill="#848484" d="M56 -96h8v8h-8zM72 -88h8v8h-8zM-176 -40h8v8h-8zM192 -16h8v8h-8zM-176 16h8v8h-8zM-168 32h8v8h-8zM184 48h8v8h-8zM-152 64h8v8h-8zM160 88h8v8h-8zM-128 120h8v8h-8zM80 120h8v8h-8zM96 120h32v8h-32zM-112 136h8v8h-8zM-64 152h16v8h-16zM24 152h8v8h-8zM-8 160h16v8h-16z"/>
<path fill="#858585" d="M-56 -104h8v8h-8zM-80 -96h8v8h-8zM112 -80h8v8h-8zM-120 -64h8v8h-8zM168 -56h8v8h-8zM176 -48h8v8h-8zM-184 -24h8v8h-8zM-184 -16h8v8h-8zM-184 -8h8v8h-8zM192 32h8v8h-8zM-160 48h8v8h-8zM176 64h8v8h-8zM-152 72h8v8h-8zM-144 96h8v8h-8zM-136 112h8v8h-8zM88 120h8v8h-8zM128 120h8v8h-8zM64 128h8v8h-8zM48 136h8v8h-8zM-104 144h8v8h-8zM-72 152h8v8h-8zM-16 160h8v8h-8zM8 160h8v8h-8z"/>
<path fill="#868686" d="M-88 -88h8v8h-8zM144 -72h8v8h-8zM-144 -64h24v8h-24zM-184 0h8v8h-8zM-176 24h8v8h-8zM184 56h8v8h-8zM-152 80h8v8h-8zM168 80h8v8h-8zM152 104h8v8h-8zM144 112h8v8h-8zM136 120h8v8h-8zM40 144h8v8h-8zM-80 152h8v8h-8zM-24 160h8v8h-8zM16 160h8v8h-8z"/>
<path fill="#878787" d="M-64 -104h8v8h-8zM-96 -80h8v8h-8zM-104 -72h8v8h-8zM160 -64h8v8h-8zM-184 -32h8v8h-8zM-184 8h8v8h-8zM-168 40h8v8h-8zM192 40h8v8h-8zM-160 56h8v8h-8zM176 72h8v8h-8zM-152 88h8v8h-8zM160 96h8v8h-8zM-144 104h8v8h-8zM-128 128h8v8h-8zM72 128h8v8h-8zM-120 136h8v8h-8zM56 136h8v8h-8zM-88 152h8v8h-8zM32 152h8v8h-8z"/>
<path fill="#888888" d="M120 -80h8v8h-8zM-152 -64h8v8h-8zM-168 -56h8v8h-8zM-176 -48h8v8h-8zM184 -40h8v8h-8zM192 -24h8v8h-8zM168 88h8v8h-8zM-136 120h8v8h-8zM104 128h32v8h-32zM-112 144h8v8h-8zM-32 160h8v8h-8zM24 160h8v8h-8zM-8 168h24v8h-24z"/>
<path fill="#898989" d="M-72 -104h8v8h-8zM48 -104h8v8h-8zM-184 16h8v8h-8zM-176 32h8v8h-8zM192 48h8v8h-8zM-160 64h8v8h-8zM184 64h8v8h-8zM-152 96h8v8h-8zM160 104h8v8h-8zM-144 112h8v8h-8zM152 112h8v8h-8zM144 120h8v8h-8zM80 128h24v8h-24zM48 144h8v8h-8zM-96 152h8v8h-8zM-40 160h8v8h-8z"/>
<path fill="#8a8a8a" d="M16 -112h16v8h-16zM80 -88h8v8h-8zM-184 -40h8v8h-8zM-192 -16h8v8h-8zM-192 -8h8v8h-8zM200 0h8v8h-8zM200 8h8v8h-8zM200 16h8v8h-8zM-168 48h8v8h-8zM-160 72h8v8h-8zM176 80h8v8h-8zM168 96h8v8h-8zM-152 104h8v8h-8zM-136 128h8v8h-8zM136 128h8v8h-8zM-128 136h8v8h-8zM64 136h8v8h-8zM40 152h8v8h-8zM32 160h8v8h-8zM-16 168h8v8h-8zM16 168h8v8h-8z"/>
<path fill="#8b8b8b" d="M8 -112h8v8h-8zM-88 -96h8v8h-8zM-112 -72h8v8h-8zM-192 -24h8v8h-8zM200 -8h8v8h-8zM-192 0h8v8h-8zM-184 24h8v8h-8zM200 24h8v8h-8zM-176 40h8v8h-8zM-168 56h8v8h-8zM184 72h8v8h-8zM-160 80h8v8h-8zM-144 120h8v8h-8zM120 136h8v8h-8zM-120 144h8v8h-8zM-104 152h8v8h-8zM-48 160h8v8h-8z"/>
<path fill="#8c8c8c" d="M-40 -112h48v8h-48zM32 -112h8v8h-8zM-80 -104h8v8h-8zM64 -96h8v8h-8zM128 -80h8v8h-8zM152 -72h8v8h-8zM-160 -64h8v8h-8zM192 -32h8v8h-8zM-192 8h8v8h-8zM200 32h8v8h-8zM192 56h8v8h-8zM-160 88h8v8h-8zM176 88h8v8h-8zM-160 96h8v8h-8zM-152 112h8v8h-8zM160 112h8v8h-8zM152 120h8v8h-8zM144 128h8v8h-8zM72 136h8v8h-8zM104 136h16v8h-16zM128 136h8v8h-8zM56 144h8v8h-8zM-56 160h8v8h-8zM-24 168h8v8h-8zM24 168h8v8h-8zM0 176h16v8h-16z"/>
<path fill="#8d8d8d" d="M-48 -112h8v8h-8zM-96 -88h8v8h-8zM-192 -32h8v8h-8zM-192 16h8v8h-8zM-184 32h8v8h-8zM-176 48h8v8h-8zM-168 64h8v8h-8zM168 104h8v8h-8zM80 136h8v8h-8zM96 136h8v8h-8zM48 152h8v8h-8zM-64 160h8v8h-8zM40 160h8v8h-8zM-8 176h8v8h-8z"/>
<path fill="#8e8e8e" d="M88 -88h8v8h-8zM-104 -80h8v8h-8zM-176 -56h8v8h-8zM176 -56h8v8h-8zM-184 -48h8v8h-8zM200 -16h8v8h-8zM200 40h8v8h-8zM192 64h8v8h-8zM-168 72h8v8h-8zM184 80h8v8h-8zM-160 104h8v8h-8zM-152 120h8v8h-8zM-144 128h8v8h-8zM-136 136h8v8h-8zM88 136h8v8h-8zM136 136h8v8h-8zM64 144h8v8h-8zM-112 152h8v8h-8zM-72 160h8v8h-8zM-32 168h8v8h-8zM32 168h8v8h-8zM16 176h8v8h-8z"/>
<path fill="#8f8f8f" d="M-56 -112h8v8h-8zM40 -112h8v8h-8zM-120 -72h8v8h-8zM168 -64h8v8h-8zM184 -48h8v8h-8zM-192 24h8v8h-8zM-184 40h8v8h-8zM200 48h8v8h-8zM-176 56h8v8h-8zM-168 80h8v8h-8zM-168 88h8v8h-8zM176 96h8v8h-8zM-160 112h8v8h-8zM160 120h8v8h-8zM152 128h8v8h-8zM-128 144h8v8h-8zM112 144h16v8h-16zM56 152h8v8h-8zM-80 160h8v8h-8zM-16 176h8v8h-8zM24 176h8v8h-8z"/>
<path fill="#909090" d="M-64 -112h8v8h-8zM136 -80h8v8h-8zM-192 -40h8v8h-8zM-200 -16h8v8h-8zM-200 -8h8v8h-8zM-200 0h8v8h-8zM192 72h8v8h-8zM184 88h8v8h-8zM-168 96h8v8h-8zM168 112h8v8h-8zM144 136h8v8h-8zM72 144h8v8h-8zM104 144h8v8h-8zM128 144h8v8h-8zM-88 160h8v8h-8zM48 160h8v8h-8zM0 184h8v8h-8z"/>
<path fill="#919191" d="M-88 -104h8v8h-8zM56 -104h8v8h-8zM96 -88h8v8h-8zM-128 -72h8v8h-8zM-168 -64h8v8h-8zM192 -40h8v8h-8zM-200 -24h8v8h-8zM200 -24h8v8h-8zM-200 8h8v8h-8zM-192 32h8v8h-8zM-184 48h8v8h-8zM200 56h8v8h-8zM-176 64h8v8h-8zM-168 104h8v8h-8zM176 104h8v8h-8zM-160 120h8v8h-8zM-152 128h8v8h-8zM-144 136h8v8h-8zM96 144h8v8h-8zM136 144h8v8h-8zM-120 152h8v8h-8zM-96 160h8v8h-8zM-40 168h8v8h-8zM40 168h8v8h-8zM-24 176h8v8h-8zM-8 184h8v8h-8zM8 184h8v8h-8z"/>
<path fill="#929292" d="M-136 -72h8v8h-8zM208 8h8v8h-8zM-200 16h8v8h-8zM208 16h8v8h-8zM208 24h8v8h-8zM-176 72h8v8h-8zM-176 80h8v8h-8zM160 128h8v8h-8zM152 136h8v8h-8zM-136 144h8v8h-8zM80 144h16v8h-16zM64 152h8v8h-8zM-104 160h8v8h-8zM32 176h8v8h-8zM16 184h8v8h-8z"/>
<path fill="#939393" d="M-72 -112h8v8h-8zM-96 -96h8v8h-8zM-144 -72h8v8h-8zM160 -72h8v8h-8zM-200 -32h8v8h-8zM208 0h8v8h-8zM208 32h8v8h-8zM-192 40h8v8h-8zM-184 56h8v8h-8zM200 64h8v8h-8zM192 80h8v8h-8zM-176 88h8v8h-8zM184 96h8v8h-8zM-168 112h8v8h-8zM168 120h8v8h-8zM144 144h8v8h-8zM112 152h24v8h-24zM56 160h8v8h-8zM-48 168h8v8h-8zM48 168h8v8h-8zM24 184h8v8h-8z"/>
<path fill="#949494" d="M8 -120h16v8h-16zM104 -88h8v8h-8zM-112 -80h8v8h-8zM144 -80h8v8h-8zM-152 -72h8v8h-8zM-184 -56h8v8h-8zM-192 -48h8v8h-8zM-200 24h8v8h-8zM208 40h8v8h-8zM-184 64h8v8h-8zM-176 96h8v8h-8zM176 112h8v8h-8zM-160 128h8v8h-8zM-152 136h8v8h-8zM-128 152h8v8h-8zM72 152h8v8h-8zM104 152h8v8h-8zM-112 160h8v8h-8zM-32 176h8v8h-8zM40 176h8v8h-8zM-16 184h8v8h-8z"/>
<path fill="#959595" d="M-24 -120h32v8h-32zM24 -120h8v8h-8zM72 -96h8v8h-8zM200 -32h8v8h-8zM-208 -8h8v8h-8zM208 -8h8v8h-8zM-208 0h8v8h-8zM-200 32h8v8h-8zM-192 48h8v8h-8zM-184 72h8v8h-8zM192 88h8v8h-8zM-176 104h8v8h-8zM184 104h8v8h-8zM-168 120h8v8h-8zM160 136h8v8h-8zM-144 144h8v8h-8zM80 152h8v8h-8zM96 152h8v8h-8zM136 152h8v8h-8zM64 160h8v8h-8zM32 184h8v8h-8z"/>
<path fill="#969696" d="M-32 -120h8v8h-8zM-80 -112h8v8h-8zM48 -112h8v8h-8zM-104 -88h8v8h-8zM-176 -64h8v8h-8zM-200 -40h8v8h-8zM-208 -16h8v8h-8zM-208 8h8v8h-8zM208 48h8v8h-8zM-192 56h8v8h-8zM200 72h8v8h-8zM-184 80h8v8h-8zM168 128h8v8h-8zM152 144h8v8h-8zM88 152h8v8h-8zM112 160h16v8h-16zM-56 168h8v8h-8zM56 168h8v8h-8zM48 176h8v8h-8zM0 192h24v8h-24z"/>
<path fill="#979797" d="M-40 -120h8v8h-8zM32 -120h8v8h-8zM112 -88h8v8h-8zM-160 -72h8v8h-8zM176 -64h8v8h-8zM184 -56h8v8h-8zM-208 -24h8v8h-8zM208 -16h8v8h-8zM-208 16h8v8h-8zM-200 40h8v8h-8zM-184 88h8v8h-8zM-176 112h8v8h-8zM176 120h8v8h-8zM-136 152h8v8h-8zM144 152h8v8h-8zM-120 160h8v8h-8zM72 160h8v8h-8zM104 160h8v8h-8zM128 160h8v8h-8zM-64 168h8v8h-8zM-24 184h8v8h-8zM-8 192h8v8h-8z"/>
<path fill="#989898" d="M-48 -120h8v8h-8zM192 -48h8v8h-8zM-208 24h8v8h-8zM208 56h8v8h-8zM-192 64h8v8h-8zM200 80h8v8h-8zM-184 96h8v8h-8zM192 96h8v8h-8zM184 112h8v8h-8zM-168 128h8v8h-8zM-160 136h8v8h-8zM-152 144h8v8h-8zM80 160h8v8h-8zM96 160h8v8h-8zM-72 168h8v8h-8zM64 168h8v8h-8zM-40 176h8v8h-8zM40 184h8v8h-8zM24 192h8v8h-8z"/>
<path fill="#999999" d="M-56 -120h8v8h-8zM120 -88h8v8h-8zM-208 -32h8v8h-8zM-200 48h8v8h-8zM208 64h8v8h-8zM-192 72h8v8h-8zM-184 104h8v8h-8zM-176 120h8v8h-8zM168 136h8v8h-8zM160 144h8v8h-8zM-128 160h8v8h-8zM88 160h8v8h-8zM136 160h8v8h-8zM-96 168h24v8h-24zM56 176h8v8h-8z"/>
<path fill="#9a9a9a" d="M64 -104h8v8h-8zM-120 -80h8v8h-8zM152 -80h8v8h-8zM168 -72h8v8h-8zM-192 -56h8v8h-8zM208 -24h8v8h-8zM216 16h8v8h-8zM216 24h8v8h-8zM-208 32h8v8h-8zM-200 56h8v8h-8zM-192 80h8v8h-8zM-144 152h8v8h-8zM152 152h8v8h-8zM-104 168h8v8h-8zM72 168h8v8h-8zM104 168h24v8h-24zM48 184h8v8h-8zM-16 192h8v8h-8zM32 192h8v8h-8z"/>
<path fill="#9b9b9b" d="M-64 -120h8v8h-8zM40 -120h8v8h-8zM-88 -112h8v8h-8zM-96 -104h8v8h-8zM-168 -72h8v8h-8zM-184 -64h8v8h-8zM-200 -48h8v8h-8zM200 -40h8v8h-8zM-216 -8h8v8h-8zM-216 0h8v8h-8zM-216 8h8v8h-8zM216 8h8v8h-8zM216 32h8v8h-8zM-208 40h8v8h-8zM-192 88h8v8h-8zM-184 112h8v8h-8zM-168 136h8v8h-8zM144 160h8v8h-8zM80 168h24v8h-24zM128 168h8v8h-8zM64 176h8v8h-8zM-32 184h8v8h-8zM40 192h8v8h-8zM8 200h8v8h-8z"/>
<path fill="#9c9c9c" d="M80 -96h8v8h-8zM128 -88h8v8h-8zM-216 -16h8v8h-8zM216 0h8v8h-8zM-216 16h8v8h-8zM-200 64h8v8h-8zM-192 96h8v8h-8zM-176 128h8v8h-8zM-160 144h8v8h-8zM-136 160h8v8h-8zM-112 168h8v8h-8zM-48 176h8v8h-8zM72 176h8v8h-8zM56 184h8v8h-8zM0 200h8v8h-8zM16 200h8v8h-8z"/>
<path fill="#9d9d9d" d="M-8 -128h32v8h-32zM-128 -80h8v8h-8zM-208 -40h8v8h-8zM-216 -24h8v8h-8zM-216 24h8v8h-8zM-208 48h8v8h-8zM-200 72h8v8h-8zM-184 120h8v8h-8zM-152 152h8v8h-8zM-120 168h8v8h-8zM136 168h8v8h-8zM80 176h8v8h-8zM-24 192h8v8h-8zM48 192h8v8h-8zM-8 200h8v8h-8zM24 200h8v8h-8z"/>
<path fill="#9e9e9e" d="M-24 -128h16v8h-16zM-72 -120h8v8h-8zM56 -112h8v8h-8zM-104 -96h8v8h-8zM-112 -88h8v8h-8zM216 -8h8v8h-8zM-216 32h8v8h-8zM-208 56h8v8h-8zM-200 80h8v8h-8zM-192 104h8v8h-8zM88 176h32v8h-32zM64 184h8v8h-8zM32 200h8v8h-8z"/>
<path fill="#9f9f9f" d="M-32 -128h8v8h-8zM24 -128h8v8h-8zM-136 -80h8v8h-8zM-176 -72h8v8h-8zM208 -32h8v8h-8zM-216 40h8v8h-8zM-208 64h8v8h-8zM-200 88h8v8h-8zM-192 112h8v8h-8zM-176 136h8v8h-8zM-168 144h8v8h-8zM-144 160h8v8h-8zM-56 176h8v8h-8zM120 176h8v8h-8zM-40 184h8v8h-8zM72 184h8v8h-8zM56 192h8v8h-8z"/>
<path fill="#a0a0a0" d="M-40 -128h8v8h-8zM88 -96h8v8h-8zM136 -88h8v8h-8zM160 -80h8v8h-8zM-192 -64h8v8h-8zM184 -64h8v8h-8zM-200 -56h8v8h-8zM192 -56h8v8h-8zM-208 -48h8v8h-8zM-216 -32h8v8h-8zM216 -16h8v8h-8zM-224 0h8v8h-8zM-224 8h8v8h-8zM-200 96h8v8h-8zM-160 152h8v8h-8zM-128 168h8v8h-8zM80 184h8v8h-8zM-16 200h8v8h-8zM40 200h8v8h-8z"/>
<path fill="#a1a1a1" d="M32 -128h8v8h-8zM-80 -120h8v8h-8zM48 -120h8v8h-8zM-144 -80h8v8h-8zM200 -48h8v8h-8zM-224 -8h8v8h-8zM-224 16h8v8h-8zM-216 48h8v8h-8zM-208 72h8v8h-8zM-64 176h8v8h-8zM88 184h16v8h-16zM-32 192h8v8h-8zM64 192h8v8h-8zM48 200h8v8h-8zM8 208h16v8h-16z"/>
<path fill="#a2a2a2" d="M-48 -128h8v8h-8zM-152 -80h8v8h-8zM176 -72h8v8h-8zM-224 -16h8v8h-8zM-224 24h8v8h-8zM-216 56h8v8h-8zM-208 80h8v8h-8zM-152 160h8v8h-8zM-136 168h8v8h-8zM-104 176h40v8h-40zM104 184h16v8h-16zM72 192h8v8h-8zM0 208h8v8h-8zM24 208h8v8h-8z"/>
<path fill="#a3a3a3" d="M96 -96h8v8h-8zM144 -88h8v8h-8zM-184 -72h8v8h-8zM-216 -40h8v8h-8zM-224 -24h8v8h-8zM-224 32h8v8h-8zM-112 176h8v8h-8zM-48 184h8v8h-8zM-24 200h8v8h-8zM56 200h8v8h-8zM32 208h8v8h-8z"/>
<path fill="#a4a4a4" d="M-56 -128h8v8h-8zM-96 -112h8v8h-8zM72 -104h8v8h-8zM-160 -80h8v8h-8zM208 -40h8v8h-8zM216 -24h8v8h-8zM-216 64h8v8h-8zM-144 168h8v8h-8zM-120 176h8v8h-8zM80 192h16v8h-16zM-8 208h8v8h-8zM40 208h8v8h-8z"/>
<path fill="#a5a5a5" d="M-8 -136h24v8h-24zM40 -128h8v8h-8zM104 -96h8v8h-8zM-120 -88h8v8h-8zM-208 -56h8v8h-8zM-40 192h8v8h-8zM96 192h8v8h-8zM64 200h8v8h-8z"/>
<path fill="#a6a6a6" d="M-24 -136h16v8h-16zM16 -136h8v8h-8zM-64 -128h8v8h-8zM-88 -120h8v8h-8zM64 -112h8v8h-8zM-104 -104h8v8h-8zM-168 -80h8v8h-8zM168 -80h8v8h-8zM-200 -64h8v8h-8zM-216 -48h8v8h-8zM-224 -32h8v8h-8zM-128 176h8v8h-8zM72 200h8v8h-8zM-16 208h8v8h-8zM48 208h8v8h-8z"/>
<path fill="#a7a7a7" d="M-56 184h8v8h-8zM-32 200h8v8h-8zM80 200h8v8h-8zM56 208h8v8h-8zM8 216h24v8h-24z"/>
<path fill="#a8a8a8" d="M-32 -136h8v8h-8zM24 -136h8v8h-8zM56 -120h8v8h-8zM-112 -96h8v8h-8zM112 -96h8v8h-8zM152 -88h8v8h-8zM-192 -72h8v8h-8zM192 -64h8v8h-8zM216 -32h8v8h-8zM0 216h8v8h-8zM32 216h8v8h-8z"/>
<path fill="#a9a9a9" d="M-72 -128h8v8h-8zM-176 -80h8v8h-8zM200 -56h8v8h-8zM-224 -40h8v8h-8zM-24 208h8v8h-8zM64 208h8v8h-8z"/>
<path fill="#aaaaaa" d="M-40 -136h8v8h-8zM32 -136h8v8h-8zM120 -96h8v8h-8zM-128 -88h8v8h-8zM184 -72h8v8h-8zM208 -48h8v8h-8zM-104 184h24v8h-24zM-64 184h8v8h-8zM-48 192h8v8h-8zM-8 216h8v8h-8z"/>
<path fill="#ababab" d="M48 -128h8v8h-8zM80 -104h8v8h-8zM-208 -64h8v8h-8zM-216 -56h8v8h-8zM-112 184h8v8h-8zM-80 184h16v8h-16zM-40 200h8v8h-8z"/>
<path fill="#acacac" d="M-8 -144h16v8h-16zM-48 -136h8v8h-8zM-80 -128h8v8h-8zM128 -96h8v8h-8zM-184 -80h8v8h-8zM-200 -72h8v8h-8zM-120 184h8v8h-8z"/>
<path fill="#adadad" d="M-16 -144h8v8h-8zM8 -144h8v8h-8zM-96 -120h8v8h-8zM-136 -88h8v8h-8zM160 -88h8v8h-8zM176 -80h8v8h-8zM-32 208h8v8h-8zM-16 216h8v8h-8z"/>
<path fill="#aeaeae" d="M-24 -144h8v8h-8zM16 -144h8v8h-8zM40 -136h8v8h-8zM-104 -112h8v8h-8zM216 -40h8v8h-8zM-56 192h8v8h-8z"/>
<path fill="#afafaf" d="M-32 -144h8v8h-8zM-56 -136h8v8h-8zM72 -112h8v8h-8zM136 -96h8v8h-8zM-152 -88h16v8h-16zM-48 200h8v8h-8z"/>
<path fill="#b0b0b0" d="M24 -144h8v8h-8zM-88 -128h8v8h-8zM88 -104h8v8h-8zM-160 -88h8v8h-8zM-192 -80h8v8h-8zM-216 -64h8v8h-8zM-64 192h8v8h-8zM-24 216h8v8h-8z"/>
<path fill="#b1b1b1" d="M-64 -136h8v8h-8zM64 -120h8v8h-8zM-112 -104h8v8h-8zM-120 -96h8v8h-8zM-168 -88h8v8h-8zM-208 -72h8v8h-8zM200 -64h8v8h-8zM208 -56h8v8h-8zM-104 192h16v8h-16zM-40 208h8v8h-8z"/>
<path fill="#b2b2b2" d="M-40 -144h8v8h-8zM56 -128h8v8h-8zM144 -96h8v8h-8zM192 -72h8v8h-8zM-88 192h24v8h-24z"/>
<path fill="#b3b3b3" d="M-16 -152h32v8h-32zM32 -144h8v8h-8zM-72 -136h8v8h-8zM96 -104h8v8h-8zM-176 -88h8v8h-8zM168 -88h8v8h-8zM-56 200h8v8h-8zM-32 216h8v8h-8z"/>
<path fill="#b4b4b4" d="M-24 -152h8v8h-8zM-48 -144h8v8h-8zM48 -136h8v8h-8zM-200 -80h8v8h-8zM184 -80h8v8h-8z"/>
<path fill="#b5b5b5" d="M16 -152h8v8h-8zM104 -104h8v8h-8zM-184 -88h8v8h-8zM-48 208h8v8h-8z"/>
<path fill="#b6b6b6" d="M-32 -152h8v8h-8zM40 -144h8v8h-8zM-80 -136h8v8h-8zM-96 -128h8v8h-8zM-104 -120h8v8h-8zM152 -96h8v8h-8zM-216 -72h8v8h-8zM-64 200h8v8h-8z"/>
<path fill="#b7b7b7" d="M24 -152h8v8h-8zM80 -112h8v8h-8zM112 -104h8v8h-8zM-72 200h8v8h-8zM-40 216h8v8h-8z"/>
<path fill="#b8b8b8" d="M-8 -160h8v8h-8zM-40 -152h8v8h-8zM-56 -144h8v8h-8zM-128 -96h8v8h-8zM-192 -88h8v8h-8zM-208 -80h8v8h-8zM-88 200h16v8h-16zM-56 208h8v8h-8z"/>
<path fill="#b9b9b9" d="M-24 -160h16v8h-16zM0 -160h16v8h-16zM-88 -136h8v8h-8zM64 -128h8v8h-8zM72 -120h8v8h-8zM120 -104h8v8h-8zM176 -88h8v8h-8zM208 -64h8v8h-8z"/>
<path fill="#bababa" d="M32 -152h8v8h-8zM56 -136h8v8h-8zM-112 -112h8v8h-8zM160 -96h8v8h-8zM200 -72h8v8h-8z"/>
<path fill="#bbbbbb" d="M-32 -160h8v8h-8zM16 -160h8v8h-8zM-48 -152h8v8h-8zM-64 -144h8v8h-8zM48 -144h8v8h-8zM128 -104h8v8h-8zM-136 -96h8v8h-8zM-200 -88h8v8h-8zM-64 208h8v8h-8z"/>
<path fill="#bcbcbc" d="M-72 -144h8v8h-8zM88 -112h8v8h-8zM-120 -104h8v8h-8zM-168 -96h32v8h-32zM192 -80h8v8h-8z"/>
<path fill="#bdbdbd" d="M-16 -168h16v8h-16zM-40 -160h8v8h-8zM24 -160h8v8h-8zM-96 -136h8v8h-8zM-104 -128h8v8h-8zM136 -104h8v8h-8zM-176 -96h8v8h-8zM-72 208h8v8h-8z"/>
<path fill="#bebebe" d="M-24 -168h8v8h-8zM0 -168h8v8h-8zM-56 -152h8v8h-8zM40 -152h8v8h-8zM-80 -144h8v8h-8zM-184 -96h8v8h-8z"/>
<path fill="#bfbfbf" d="M-32 -168h8v8h-8zM8 -168h8v8h-8zM96 -112h8v8h-8zM168 -96h8v8h-8zM-208 -88h8v8h-8zM184 -88h8v8h-8z"/>
<path fill="#c0c0c0" d="M-48 -160h8v8h-8zM32 -160h8v8h-8zM-88 -144h8v8h-8zM-112 -120h8v8h-8zM80 -120h8v8h-8zM144 -104h8v8h-8zM-192 -96h8v8h-8z"/>
<path fill="#c1c1c1" d="M-40 -168h8v8h-8zM16 -168h8v8h-8zM56 -144h8v8h-8zM64 -136h8v8h-8zM72 -128h8v8h-8z"/>
<path fill="#c2c2c2" d="M-24 -176h24v8h-24zM-48 -168h8v8h-8zM-56 -160h8v8h-8zM-64 -152h8v8h-8zM48 -152h8v8h-8zM-104 -136h8v8h-8zM104 -112h8v8h-8zM-200 -96h8v8h-8zM208 -72h8v8h-8z"/>
<path fill="#c3c3c3" d="M-40 -176h16v8h-16zM0 -176h8v8h-8zM24 -168h8v8h-8zM-72 -152h8v8h-8zM-96 -144h8v8h-8zM152 -104h8v8h-8zM200 -80h8v8h-8z"/>
<path fill="#c4c4c4" d="M8 -176h8v8h-8zM40 -160h8v8h-8zM-80 -152h8v8h-8zM112 -112h8v8h-8zM-128 -104h8v8h-8zM176 -96h8v8h-8z"/>
<path fill="#c5c5c5" d="M-48 -176h8v8h-8zM-56 -168h8v8h-8zM-64 -160h8v8h-8zM-88 -152h8v8h-8zM-112 -128h8v8h-8zM88 -120h8v8h-8zM-120 -112h8v8h-8zM-168 -104h8v8h-8z"/>
<path fill="#c6c6c6" d="M-40 -184h32v8h-32zM-56 -176h8v8h-8zM16 -176h8v8h-8zM32 -168h8v8h-8zM-104 -144h8v8h-8zM120 -112h8v8h-8zM-184 -104h16v8h-16zM-160 -104h8v8h-8zM192 -88h8v8h-8z"/>
<path fill="#c7c7c7" d="M-56 -184h16v8h-16zM-8 -184h8v8h-8zM-64 -176h8v8h-8zM-64 -168h8v8h-8zM-80 -160h16v8h-16zM-96 -152h8v8h-8zM56 -152h8v8h-8zM64 -144h8v8h-8zM72 -136h8v8h-8zM80 -128h8v8h-8zM-152 -104h8v8h-8zM-136 -104h8v8h-8zM160 -104h8v8h-8z"/>
<path fill="#c8c8c8" d="M-64 -184h8v8h-8zM0 -184h8v8h-8zM-72 -168h8v8h-8zM-88 -160h8v8h-8zM48 -160h8v8h-8zM-112 -136h8v8h-8zM128 -112h8v8h-8zM-192 -104h8v8h-8zM-144 -104h8v8h-8z"/>
<path fill="#c9c9c9" d="M-56 -192h32v8h-32zM8 -184h8v8h-8zM-72 -176h8v8h-8zM24 -176h8v8h-8zM-80 -168h8v8h-8zM-104 -152h8v8h-8zM-120 -120h8v8h-8zM96 -120h8v8h-8z"/>
<path fill="#cacaca" d="M-64 -192h8v8h-8zM-24 -192h16v8h-16zM-72 -184h8v8h-8zM-80 -176h8v8h-8zM40 -168h8v8h-8zM-96 -160h8v8h-8zM-112 -144h8v8h-8zM136 -112h8v8h-8zM-200 -104h8v8h-8zM184 -96h8v8h-8z"/>
<path fill="#cbcbcb" d="M-72 -192h8v8h-8zM-8 -192h8v8h-8zM-88 -168h8v8h-8zM-104 -160h8v8h-8zM168 -104h8v8h-8z"/>
<path fill="#cccccc" d="M-56 -200h16v8h-16zM-80 -184h8v8h-8zM16 -184h8v8h-8zM-88 -176h8v8h-8zM32 -176h8v8h-8zM-96 -168h8v8h-8zM-112 -152h8v8h-8zM-120 -128h8v8h-8zM104 -120h8v8h-8z"/>
<path fill="#cdcdcd" d="M-64 -200h8v8h-8zM-40 -200h16v8h-16zM0 -192h8v8h-8zM-104 -168h8v8h-8zM-112 -160h8v8h-8zM56 -160h8v8h-8zM64 -152h8v8h-8zM72 -144h8v8h-8zM-120 -136h8v8h-8zM88 -128h8v8h-8zM-176 -112h16v8h-16zM-128 -112h8v8h-8zM144 -112h8v8h-8zM200 -88h8v8h-8z"/>
<path fill="#cecece" d="M-72 -200h8v8h-8zM-24 -200h8v8h-8zM-80 -192h8v8h-8zM8 -192h8v8h-8zM-88 -184h8v8h-8zM24 -184h8v8h-8zM-96 -176h8v8h-8zM48 -168h8v8h-8zM-120 -152h8v8h-8zM-120 -144h8v8h-8zM80 -136h8v8h-8zM-184 -112h8v8h-8zM-160 -112h8v8h-8z"/>
<path fill="#cfcfcf" d="M-16 -200h8v8h-8zM-104 -176h8v8h-8zM-112 -168h8v8h-8zM-120 -160h8v8h-8zM112 -120h8v8h-8zM-192 -112h8v8h-8zM-152 -112h8v8h-8z"/>
<path fill="#d0d0d0" d="M-80 -200h8v8h-8zM-8 -200h8v8h-8zM-88 -192h8v8h-8zM-96 -184h8v8h-8zM40 -176h8v8h-8zM-144 -112h16v8h-16zM152 -112h8v8h-8zM176 -104h8v8h-8zM192 -96h8v8h-8z"/>
<path fill="#d1d1d1" d="M-64 -208h32v8h-32zM16 -192h8v8h-8zM-104 -184h8v8h-8zM32 -184h8v8h-8zM-112 -176h8v8h-8zM-120 -168h8v8h-8zM-128 -152h8v8h-8zM-128 -144h8v8h-8zM96 -128h8v8h-8zM-128 -120h8v8h-8zM120 -120h8v8h-8z"/>
<path fill="#d2d2d2" d="M-72 -208h8v8h-8zM-32 -208h16v8h-16zM0 -200h8v8h-8zM-96 -192h8v8h-8zM-128 -160h8v8h-8zM-128 -136h8v8h-8zM-128 -128h8v8h-8z"/>
<path fill="#d3d3d3" d="M-88 -200h8v8h-8zM-120 -176h8v8h-8zM-128 -168h8v8h-8zM56 -168h8v8h-8zM64 -160h8v8h-8zM72 -152h8v8h-8zM80 -144h8v8h-8zM88 -136h8v8h-8zM-176 -120h8v8h-8zM128 -120h8v8h-8zM160 -112h8v8h-8z"/>
<path fill="#d4d4d4" d="M-80 -208h8v8h-8zM-16 -208h8v8h-8zM8 -200h8v8h-8zM-104 -192h8v8h-8zM24 -192h8v8h-8zM-112 -184h8v8h-8zM48 -176h8v8h-8zM-136 -160h8v8h-8zM-136 -152h8v8h-8zM104 -128h8v8h-8zM-184 -120h8v8h-8zM-168 -120h16v8h-16zM-136 -120h8v8h-8z"/>
<path fill="#d5d5d5" d="M-48 -216h8v8h-8zM-8 -208h8v8h-8zM-96 -200h8v8h-8zM40 -184h8v8h-8zM-136 -144h8v8h-8zM-136 -136h8v8h-8zM-136 -128h8v8h-8zM-192 -120h8v8h-8zM-152 -120h16v8h-16zM136 -120h8v8h-8zM184 -104h8v8h-8z"/>
<path fill="#d6d6d6" d="M-64 -216h16v8h-16zM-40 -216h8v8h-8zM-88 -208h8v8h-8zM16 -200h8v8h-8zM-112 -192h8v8h-8zM-120 -184h8v8h-8zM-128 -176h8v8h-8zM-136 -168h8v8h-8z"/>
<path fill="#d7d7d7" d="M-72 -216h8v8h-8zM-32 -216h8v8h-8zM0 -208h8v8h-8zM-104 -200h8v8h-8zM32 -192h8v8h-8zM-144 -152h8v8h-8zM-144 -128h8v8h-8zM112 -128h8v8h-8zM144 -120h8v8h-8zM168 -112h8v8h-8z"/>
<path fill="#d8d8d8" d="M-24 -216h8v8h-8zM-128 -184h8v8h-8zM-136 -176h8v8h-8zM56 -176h8v8h-8zM64 -168h8v8h-8zM-144 -160h8v8h-8zM72 -160h8v8h-8zM-144 -144h8v8h-8zM-144 -136h8v8h-8zM96 -136h8v8h-8zM-176 -128h32v8h-32z"/>
<path fill="#d9d9d9" d="M-16 -216h8v8h-8zM8 -208h8v8h-8zM24 -200h8v8h-8zM-120 -192h8v8h-8zM48 -184h8v8h-8zM-144 -168h8v8h-8zM80 -152h8v8h-8zM88 -144h8v8h-8zM-152 -136h8v8h-8zM-184 -128h8v8h-8z"/>
<path fill="#dadada" d="M-152 -152h8v8h-8zM-152 -144h8v8h-8zM-160 -136h8v8h-8zM120 -128h8v8h-8z"/>
<path fill="#dbdbdb" d="M-40 -224h8v8h-8zM-8 -216h8v8h-8zM40 -192h8v8h-8zM-152 -160h8v8h-8zM-168 -136h8v8h-8zM104 -136h8v8h-8zM152 -120h8v8h-8zM176 -112h8v8h-8zM192 -104h8v8h-8z"/>
<path fill="#dcdcdc" d="M-32 -224h8v8h-8zM16 -208h8v8h-8zM-144 -176h8v8h-8zM-160 -144h8v8h-8zM-176 -136h8v8h-8zM128 -128h8v8h-8z"/>
<path fill="#dddddd" d="M-24 -224h8v8h-8zM0 -216h8v8h-8zM32 -200h8v8h-8zM64 -176h8v8h-8zM-152 -168h8v8h-8zM72 -168h8v8h-8zM-160 -152h8v8h-8zM96 -144h8v8h-8z"/>
<path fill="#dedede" d="M56 -184h8v8h-8zM80 -160h8v8h-8zM88 -152h8v8h-8zM-168 -144h8v8h-8zM112 -136h8v8h-8zM136 -128h8v8h-8zM160 -120h8v8h-8z"/>
<path fill="#dfdfdf" d="M-16 -224h8v8h-8zM8 -216h8v8h-8zM24 -208h8v8h-8zM48 -192h8v8h-8zM-160 -160h8v8h-8zM-176 -144h8v8h-8z"/>
<path fill="#e0e0e0" d="M40 -200h8v8h-8zM-168 -152h8v8h-8zM184 -112h8v8h-8z"/>
<path fill="#e1e1e1" d="M-8 -224h8v8h-8zM104 -144h8v8h-8zM120 -136h8v8h-8zM144 -128h8v8h-8z"/>
<path fill="#e2e2e2" d="M16 -216h8v8h-8zM32 -208h8v8h-8zM64 -184h8v8h-8zM72 -176h8v8h-8zM168 -120h8v8h-8z"/>
<path fill="#e3e3e3" d="M0 -224h8v8h-8zM56 -192h8v8h-8zM80 -168h8v8h-8zM88 -160h8v8h-8zM96 -152h8v8h-8zM128 -136h8v8h-8z"/>
<path fill="#e4e4e4" d="M48 -200h8v8h-8zM152 -128h8v8h-8z"/>
<path fill="#e5e5e5" d="M8 -224h8v8h-8zM24 -216h8v8h-8zM112 -144h8v8h-8zM176 -120h8v8h-8z"/>
<path fill="#e6e6e6" d="M40 -208h8v8h-8zM136 -136h8v8h-8z"/>
<path fill="#e7e7e7" d="M104 -152h8v8h-8zM120 -144h8v8h-8z"/>
<path fill="#e8e8e8" d="M16 -224h8v8h-8zM64 -192h8v8h-8zM72 -184h8v8h-8zM80 -176h8v8h-8zM88 -168h8v8h-8zM96 -160h8v8h-8zM160 -128h8v8h-8z"/>
<path fill="#e9e9e9" d="M32 -216h8v8h-8zM56 -200h8v8h-8zM144 -136h8v8h-8z"/>
<path fill="#eaeaea" d="M48 -208h8v8h-8zM112 -152h8v8h-8zM128 -144h8v8h-8zM184 -120h8v8h-8z"/>
<path fill="#ebebeb" d="M24 -224h8v8h-8zM168 -128h8v8h-8z"/>
<path fill="#ececec" d="M40 -216h8v8h-8zM104 -160h8v8h-8zM152 -136h8v8h-8z"/>
<path fill="#ededed" d="M72 -192h8v8h-8zM80 -184h8v8h-8zM88 -176h8v8h-8zM96 -168h8v8h-8zM120 -152h8v8h-8zM136 -144h8v8h-8z"/>
<path fill="#eeeeee" d="M64 -200h8v8h-8z"/>
<path fill="#efefef" d="M32 -224h8v8h-8zM56 -208h8v8h-8zM176 -128h8v8h-8z"/>
<path fill="#f0f0f0" d="M112 -160h8v8h-8zM144 -144h8v8h-8zM160 -136h8v8h-8z"/>
<path fill="#f1f1f1" d="M48 -216h8v8h-8zM104 -168h8v8h-8zM128 -152h8v8h-8z"/>
<path fill="#f2f2f2" d="M80 -192h8v8h-8zM88 -184h8v8h-8zM96 -176h8v8h-8z"/>
<path fill="#f3f3f3" d="M64 -208h8v8h-8zM72 -200h8v8h-8zM120 -160h8v8h-8z"/>
<path fill="#f4f4f4" d="M136 -152h8v8h-8zM152 -144h8v8h-8zM168 -136h8v8h-8z"/>
<path fill="#f5f5f5" d="M56 -216h8v8h-8zM112 -168h8v8h-8z"/>
<path fill="#f6f6f6" d="M104 -176h8v8h-8z"/>
<path fill="#f7f7f7" d="M88 -192h8v8h-8zM96 -184h8v8h-8zM128 -160h8v8h-8zM144 -152h8v8h-8z"/>
<path fill="#f8f8f8" d="M72 -208h8v8h-8zM80 -200h8v8h-8zM160 -144h8v8h-8z"/>
<path fill="#f9f9f9" d="M120 -168h8v8h-8z"/>
<path fill="#fafafa" d="M64 -216h8v8h-8zM136 -160h8v8h-8z"/>
<path fill="#fbfbfb" d="M112 -176h8v8h-8zM152 -152h8v8h-8z"/>
<path fill="#fcfcfc" d="M96 -192h8v8h-8zM104 -184h8v8h-8zM168 -144h8v8h-8z"/>
<path fill="#fdfdfd" d="M88 -200h8v8h-8zM128 -168h8v8h-8z"/>
<path fill="#fefefe" d="M80 -208h8v8h-8zM144 -160h8v8h-8z"/>
<path fill="#ffffff" d="M96 -200h8v8h-8zM104 -192h16v8h-16zM112 -184h16v8h-16zM120 -176h24v8h-24zM136 -168h16v8h-16zM152 -160h8v8h-8zM160 -152h8v8h-8z"/>
</g>
<path d="M312,1192.3 310,1192.8 306,1194.2 304,1195.1 301.3,1196.6 298.2,1198.6 296,1200.2 294,1201.7 292,1203.4 290,1205.1 288,1207 286,1208.9 284,1210.8 282,1212.8 280,1214.9 278,1216.9 276,1218.9 274,1221 272,1223 270,1225.1 268,1227.1 266,1229.2 264,1231.4 262,1233.7 260,1236.1 258.2,1238.6 257.1,1240.6 256,1243.6 255.6,1246.6 256,1249.1 257.4,1252.6 258.8,1254.6 260.7,1256.6 263,1258.6 265.7,1260.6 268,1262.1 270,1263.4 272,1264.6 275.4,1266.6 278,1268 280,1269.2 282.6,1270.6 286,1272.4 288,1273.4 290.3,1274.6 294,1276.4 296,1277.3 298.9,1278.6 302,1279.9 304,1280.6 308,1282.1 310,1282.7 314,1283.9 316.5,1284.6 320,1285.4 324,1286.2 326.6,1286.6 330,1287 334,1287.3 338,1287.5 342,1287.4 346,1287.2 350,1286.8 352,1286.6 356,1286 360,1285.4 364,1284.7 366,1284.3 370,1283.5 373.6,1282.6 376,1282 380,1280.9 382,1280.3 386,1279 388,1278.4 392,1276.9 394,1276.2 398,1274.6 400,1273.8 402.7,1272.6 406,1271 408,1270 410.7,1268.6 414,1266.6 416,1265.3 418,1263.9 420,1262.4 422.2,1260.6 424.3,1258.6 426.2,1256.6 428,1254.5 430,1251.7 431.8,1248.6 432.8,1246.6 434,1243.2 434.7,1240.6 435.2,1236.6 435,1232.6 434.3,1228.6 433.7,1226.6 432,1222.8 430.7,1220.6 429.3,1218.6 427.6,1216.6 425.7,1214.6 423.5,1212.6 420.9,1210.6 418,1208.7 416,1207.5 414,1206.4 410.1,1204.6 408,1203.8 404.6,1202.6 402,1201.9 398,1201 395.7,1200.6 392,1200 388,1199.5 384,1199 380.6,1198.6 378,1198.3 374,1197.8 370,1197.2 366,1196.7 364,1196.4 360,1195.7 356,1195 353.8,1194.6 350,1193.8 346,1193.1 343.1,1192.6 340,1192.1 336,1191.6 332,1191.3 328,1191.1 324,1191.1 320,1191.3 316,1191.7 312,1192.3M316,1168.5 314,1168.8 310,1169.4 306,1170.1 303.2,1170.6 300,1171.3 296,1172.3 294,1172.9 290,1174.2 288,1174.9 284.1,1176.6 282,1177.7 280,1178.8 277.1,1180.6 274.2,1182.6 272,1184.4 270,1186.1 268,1187.9 266,1189.7 264,1191.6 262,1193.5 260,1195.2 258,1196.6 254.9,1198.6 252,1200.3 250,1201.5 248,1202.7 244.6,1204.6 242,1206.1 240,1207.2 237.5,1208.6 234,1210.5 232,1211.6 230,1212.7 226.2,1214.6 224,1215.7 222,1216.7 218,1218.6 216,1219.5 213.7,1220.6 210,1222.3 208,1223.3 205.6,1224.6 202.2,1226.6 200,1228.2 198,1229.8 196,1231.8 194,1234.2 192.5,1236.6 191.5,1238.6 190.2,1242.6 189.7,1244.6 189.3,1248.6 189.2,1252.6 189.5,1256.6 190,1260.4 190.4,1262.6 191.3,1266.6 192,1269.4 192.9,1272.6 194,1276 194.9,1278.6 196,1281.7 197.1,1284.6 198,1286.8 199.7,1290.6 200.8,1292.6 202,1294.8 204,1297.8 206,1300.3 208,1302.3 210,1304 212,1305.4 214,1306.6 218,1308.5 220,1309.1 224,1310.1 227.5,1310.6 230,1310.8 234,1310.7 236,1310.5 240,1310.1 244,1309.4 248,1308.8 250,1308.5 254,1308.1 258,1308.1 262,1308.6 264,1309 268,1310.2 270,1310.8 274,1312.4 276,1313.2 279.5,1314.6 282,1315.7 284.3,1316.6 288,1318.1 290,1319 294,1320.5 296,1321.2 299.8,1322.6 302,1323.3 306,1324.6 308,1325.2 312,1326.3 314,1326.8 318,1327.7 322,1328.5 324,1328.9 328,1329.4 332,1329.8 336,1329.9 340,1329.9 344,1329.5 348,1328.9 350,1328.4 354,1327.4 356.4,1326.6 360,1325.3 362,1324.6 366,1323 368,1322.3 372,1320.6 374,1319.8 377.1,1318.6 380,1317.4 382.1,1316.6 386,1315 388,1314.2 392,1312.6 394,1311.8 396.8,1310.6 400,1309.2 402,1308.4 405.8,1306.6 408,1305.6 410,1304.6 414,1302.6 416,1301.5 418,1300.4 421.2,1298.6 424,1296.9 426,1295.6 428,1294.3 430.4,1292.6 433.1,1290.6 435.8,1288.6 438,1286.9 440,1285.3 442,1283.6 444,1282 446,1280.3 448,1278.5 450.1,1276.6 452.3,1274.6 454.2,1272.6 456.1,1270.6 458,1268.4 460,1265.9 462,1263 463.5,1260.6 464.6,1258.6 466,1255.6 467.2,1252.6 468,1249.9 468.8,1246.6 469.4,1242.6 469.5,1238.6 469.3,1234.6 468.8,1230.6 468,1227.1 467.3,1224.6 466,1221 465,1218.6 464,1216.6 462,1213.1 460.4,1210.6 458.9,1208.6 457.3,1206.6 455.5,1204.6 453.5,1202.6 451.2,1200.6 448.6,1198.6 446,1196.8 444,1195.7 442,1194.6 438,1192.6 436,1191.7 433.2,1190.6 430,1189.4 427.8,1188.6 424,1187.3 421.7,1186.6 418,1185.5 414.5,1184.6 412,1184 408,1183.1 405.5,1182.6 402,1182 398,1181.3 394,1180.6 392,1180.3 388,1179.6 384,1178.8 382,1178.3 378,1177.4 374.9,1176.6 372,1175.8 368,1174.6 366,1174 362,1172.7 360,1172.1 356,1170.8 354,1170.3 350,1169.2 347.2,1168.6 344,1168 340,1167.5 336,1167.3 332,1167.2 328,1167.4 324,1167.6 320,1168 316,1168.5M318,1144.6 316,1144.9 312,1145.5 308,1146 304,1146.1 300,1146.1 296,1146.1 292,1146 288,1146 284,1146 280,1146 276,1146.1 272,1146.2 268,1146.5 266,1146.7 262,1147.4 258,1148.3 256,1148.8 252,1150 250,1150.6 246,1152.1 244,1153 240.8,1154.6 238,1156.3 236,1157.9 234,1159.7 232,1161.8 230,1164.1 228,1166.5 226.3,1168.6 224.7,1170.6 223,1172.6 221.2,1174.6 219.2,1176.6 217.1,1178.6 214.6,1180.6 212,1182.5 210,1183.6 208,1184.6 204,1186.1 202,1186.6 198,1187.4 194,1187.9 190,1188.3 186,1188.4 182,1188.5 178,1188.5 174,1188.5 170,1188.5 168,1188.7 164,1189.3 160.3,1190.6 158,1191.9 156,1193.1 154,1194.6 151.6,1196.6 149.6,1198.6 147.7,1200.6 146,1202.8 144,1205.7 142.3,1208.6 141.3,1210.6 140,1213.6 138.9,1216.6 138,1219.9 137.4,1222.6 136.8,1226.6 136.6,1230.6 136.6,1234.6 136.9,1238.6 137.5,1242.6 138,1245.1 138.8,1248.6 140,1252.6 140.6,1254.6 142,1258.3 142.9,1260.6 144,1263.1 145.6,1266.6 146.6,1268.6 148,1271.3 149.8,1274.6 151,1276.6 152.1,1278.6 154,1281.7 155.8,1284.6 157.1,1286.6 158.3,1288.6 160,1291.4 161.9,1294.6 162.9,1296.6 164,1299 165.2,1302.6 166,1305.4 166.9,1308.6 167.9,1312.6 168.4,1314.6 169.5,1318.6 170.1,1320.6 171.4,1324.6 172.1,1326.6 173.6,1330.6 174.4,1332.6 176,1336.1 177.2,1338.6 178.3,1340.6 180,1343.7 181.7,1346.6 182.9,1348.6 184.2,1350.6 186,1353.8 187.6,1356.6 188.8,1358.6 190.1,1360.6 192,1363.5 194,1366.4 195.7,1368.6 197.3,1370.6 199.1,1372.6 200.9,1374.6 202.9,1376.6 205.1,1378.6 207.4,1380.6 210,1382.6 212,1384 214,1385.3 216.3,1386.6 220,1388.5 222,1389.3 225.7,1390.6 228,1391.3 232,1392.3 234,1392.8 238,1393.6 242,1394.4 244,1394.7 248,1395.1 252,1395.3 256,1395.3 260,1395.3 264,1395.3 268,1395.4 272,1395.6 276,1396 280,1396.4 282,1396.6 286,1397.2 290,1397.7 294,1398.3 296.5,1398.6 300,1399 304,1399.2 308,1399.2 312,1398.8 314,1398.5 318,1397.6 321.4,1396.6 324,1395.7 326.6,1394.6 330,1393 332,1392 334.7,1390.6 338,1388.8 340,1387.6 342,1386.4 345.1,1384.6 348,1382.9 350,1381.7 352,1380.5 355.1,1378.6 358,1376.9 360,1375.7 362,1374.6 365.5,1372.6 368,1371.3 370,1370.2 373,1368.6 376,1367.1 378,1366.1 381.4,1364.6 384,1363.5 386.3,1362.6 390,1361.3 392.5,1360.6 396,1359.8 400,1359.2 404,1358.9 408,1358.9 412,1359.1 416,1359.4 420,1359.7 424,1359.9 428,1359.9 432,1359.6 436,1358.7 438,1358.1 441.3,1356.6 444,1355 446,1353.6 448,1352 450,1350.2 452,1348.2 454,1345.9 456,1343.5 458,1341 459.8,1338.6 461.2,1336.6 462.6,1334.6 464,1332.5 466,1329.5 467.9,1326.6 469.3,1324.6 470.7,1322.6 472,1320.6 474,1317.9 476,1315.1 477.9,1312.6 479.4,1310.6 480.9,1308.6 482.4,1306.6 484,1304.4 486,1301.6 488,1298.7 489.4,1296.6 490.6,1294.6 492,1292.2 494,1288.6 495,1286.6 496,1284.4 497.6,1280.6 498.3,1278.6 499.7,1274.6 500.3,1272.6 501.3,1268.6 502,1265.1 502.4,1262.6 502.9,1258.6 503.2,1254.6 503.2,1250.6 503.1,1246.6 502.8,1242.6 502.2,1238.6 501.8,1236.6 501,1232.6 500,1229.1 499.2,1226.6 498,1223.3 496.9,1220.6 496,1218.5 494.1,1214.6 493,1212.6 491.8,1210.6 490,1207.8 488,1204.9 486.3,1202.6 484.7,1200.6 483,1198.6 481.2,1196.6 479.3,1194.6 477.3,1192.6 475,1190.6 472.6,1188.6 470,1186.6 468,1185.2 466,1183.8 464,1182.6 460.3,1180.6 458,1179.5 456,1178.6 452,1177 450,1176.3 446,1175 444,1174.4 440,1173.4 436.9,1172.6 434,1171.9 430,1171.1 427.6,1170.6 424,1169.9 420,1169.2 416.7,1168.6 414,1168.1 410,1167.5 406,1166.8 404,1166.4 400,1165.7 396,1164.9 394,1164.4 390,1163.3 387.6,1162.6 384,1161.4 382,1160.6 378,1158.9 376,1158 373.2,1156.6 370,1154.9 368,1153.8 366,1152.6 362.5,1150.6 360,1149.2 358,1148.1 355,1146.6 352,1145.3 349.6,1144.6 346,1143.8 342,1143.2 338,1142.9 334,1142.9 330,1143 326,1143.4 322,1143.9 318,1144.6M516,1200.8 514.3,1198.6 512.8,1196.6 511.1,1194.6 509.4,1192.6 507.6,1190.6 505.7,1188.6 503.7,1186.6 501.6,1184.6 499.4,1182.6 497.1,1180.6 494.7,1178.6 492.1,1176.6 490,1175 488,1173.7 486,1172.3 483.2,1170.6 480,1168.8 478,1167.7 475.8,1166.6 472,1164.8 470,1164 466.5,1162.6 464,1161.7 460.7,1160.6 458,1159.8 454,1158.7 452,1158.2 448,1157.4 444.1,1156.6 442,1156.2 438,1155.5 434,1154.9 431.9,1154.6 428,1154 424,1153.5 420,1152.9 417.8,1152.6 414,1152.1 410,1151.5 406,1150.9 404,1150.5 400,1149.7 396,1148.7 394,1148.1 390.4,1146.6 388,1145.4 386,1144.2 383.6,1142.6 380.8,1140.6 378.2,1138.6 376,1136.8 374,1135.2 372,1133.6 370,1132 368,1130.5 365.4,1128.6 362.5,1126.6 360,1124.9 358,1123.7 356,1122.6 352.1,1120.6 350,1119.6 347.5,1118.6 344,1117.3 341.8,1116.6 338,1115.5 334,1114.6 332,1114.3 328,1113.7 324,1113.3 320,1113 316,1112.9 312,1112.9 308,1113 304,1113.1 300,1113.4 296,1113.7 292,1114.1 288,1114.6 286,1114.8 282,1115.4 278,1116 274.7,1116.6 272,1117.1 268,1117.8 264.1,1118.6 262,1119 258,1119.8 254,1120.6 252,1121 248,1121.8 244,1122.6 242,1123 238,1124 236,1124.6 232,1125.9 230,1126.7 226.2,1128.6 224,1129.9 222,1131.2 220,1132.8 218,1134.6 216,1136.7 214,1139.1 212,1141.7 210,1144.4 208.4,1146.6 206.9,1148.6 205.3,1150.6 203.5,1152.6 201.5,1154.6 199.3,1156.6 196.6,1158.6 194,1160.2 192,1161.2 188.6,1162.6 186,1163.4 182,1164.4 180,1164.8 176,1165.3 172,1165.7 168,1166 164,1166.3 160.4,1166.6 158,1166.8 154,1167.4 150,1168 147.4,1168.6 144,1169.4 140.1,1170.6 138,1171.3 134.7,1172.6 132,1173.8 130,1174.7 126.5,1176.6 124,1178.1 122,1179.4 120,1180.8 117.5,1182.6 115,1184.6 112.6,1186.6 110.4,1188.6 108.4,1190.6 106.5,1192.6 104.7,1194.6 103,1196.6M102,1328.1 102.8,1330.6 104,1334.5 104.7,1336.6 106,1340.6 106.7,1342.6 108,1346.4 108.8,1348.6 110,1351.8 111.1,1354.6 112,1356.7 113.8,1360.6 114.7,1362.6 116,1365.2 117.8,1368.6 119,1370.6 120.2,1372.6 122,1375.4 124,1378.3 125.7,1380.6 127.3,1382.6 128.9,1384.6 130.7,1386.6 132.5,1388.6 134.4,1390.6 136.5,1392.6 138.7,1394.6 140.9,1396.6 143.4,1398.6 145.9,1400.6 148,1402.2 150,1403.6 152,1404.9 154.6,1406.6 157.8,1408.6 160,1409.9 162,1411 165.1,1412.6 168,1414 170,1414.9 173.9,1416.6 176,1417.4 179.1,1418.6 182,1419.6 185.2,1420.6 188,1421.4 192,1422.4 194,1422.8 198,1423.6 202,1424.2 204.9,1424.6 208,1424.9 212,1425.2 216,1425.4 220,1425.4 224,1425.4 228,1425.2 232,1425.1 236,1424.9 240,1424.8 244,1424.9 248,1425.3 252,1426.2 254,1426.8 258,1428.5 260,1429.4 262.2,1430.6 265.7,1432.6 268,1434 270,1435.3 272,1436.6 274.9,1438.6 277.8,1440.6 280,1442.1 282,1443.5 284,1444.8 286.8,1446.6 290,1448.6 292,1449.7M364.2,1450.6 368,1449.1 370,1448.3 374,1446.7 376,1445.8 379.1,1444.6 382,1443.4 384.2,1442.6 388,1441.2 390,1440.6 394,1439.3 396.9,1438.6 400,1437.9 404,1437.1 407.2,1436.6 410,1436.2 414,1435.7 418,1435.2 422,1434.6 424,1434.3 428,1433.6 432,1432.8 434,1432.3 438,1431.2 440,1430.6 444,1429.2 446,1428.5 450,1426.8 452,1425.9 454.7,1424.6 458,1422.8 460,1421.7 462,1420.5 465,1418.6 467.9,1416.6 470,1415.1 472,1413.6 474,1412 476,1410.4 478.1,1408.6 480.3,1406.6 482.5,1404.6 484.5,1402.6 486.5,1400.6 488.4,1398.6 490.2,1396.6 492,1394.5 494,1392.1 496,1389.7 498,1387.1 499.8,1384.6 501.3,1382.6 502.7,1380.6 504,1378.6 506,1375.6 507.8,1372.6 509.1,1370.6 510.2,1368.6 512,1365.5 513.6,1362.6 514.6,1360.6 516,1358M516,1166 514,1164.4 511.6,1162.6 508.7,1160.6 506,1158.8 504,1157.5 502,1156.2 499.2,1154.6 496,1152.8 494,1151.8 491.7,1150.6 488,1148.9 486,1148 482.6,1146.6 480,1145.6 477.2,1144.6 474,1143.5 471.2,1142.6 468,1141.6 464.3,1140.6 462,1140 458,1139 456,1138.6 452,1137.7 448,1137 445.6,1136.6 442,1136 438,1135.5 434,1134.8 432,1134.5 428,1133.7 424,1132.8 422,1132.4 418,1131.4 414.7,1130.6 412,1129.8 408.4,1128.6 406,1127.6 403.8,1126.6 400.3,1124.6 398,1123.1 396,1121.6 394,1119.9 392,1118.1 390,1116.2 388,1114.3 386,1112.2 384,1110.2 382,1108.1 380,1106 378,1103.9 376,1101.9 374,1099.9 372,1097.9 370,1096.1 368,1094.3 366,1092.5 363.7,1090.6 361.2,1088.6 358.6,1086.6 356,1084.7 354,1083.3 352,1081.9 350,1080.6 346.8,1078.6 344,1076.9 342,1075.8 339.7,1074.6 336,1072.7 334,1071.7 331.6,1070.6 328,1069 326,1068.1 322.1,1066.6 320,1065.8 316.4,1064.6 314,1063.8 310,1062.7 308,1062.2 304,1061.3 300.3,1060.6 298,1060.2 294,1059.7 290,1059.3 286,1059.1 282,1058.9 278,1058.9 274,1058.9 270,1059.1 266,1059.3 262,1059.8 258,1060.4 256,1061 252.4,1062.6 250.2,1064.6 248.9,1066.6 247.9,1068.6 246.3,1072.6 245.5,1074.6 244,1077.8 242.2,1080.6 240.3,1082.6 238,1084.2 236,1085.3 232.8,1086.6 230,1087.5 227.1,1088.6 224,1089.7 222,1090.6 218,1092.6 216,1093.7 214,1095 212,1096.6 209.7,1098.6 207.8,1100.6 206,1102.9 204,1105.9 202.5,1108.6 201.5,1110.6 200,1113.8 198.9,1116.6 198,1118.8 196.5,1122.6 195.8,1124.6 194.1,1128.6 193.2,1130.6 192,1132.9 190,1136.1 188,1138.5 186,1140.2 184,1141.4 180.8,1142.6 178,1143.2 174,1143.5 170,1143.5 166,1143.3 162,1142.9 159,1142.6 156,1142.3 152,1141.9 148,1141.6 144,1141.4 140,1141.4 136,1141.5 132,1141.7 128,1142.2 125.6,1142.6 122,1143.3 118,1144.2 116,1144.8 112,1146.1 110,1146.8 106,1148.4 104,1149.3M102,1423.8 104,1425.6 106,1427.3 108,1428.9 110.1,1430.6 112.7,1432.6 115.4,1434.6 118,1436.4 120,1437.8 122,1439.1 124.4,1440.6 127.7,1442.6 130,1443.9 132,1445.1 134.9,1446.6 138,1448.2 140,1449.2 143.1,1450.6M497.7,1450.6 500,1448.6 502,1446.8 504,1444.9 506,1443 508,1441.1 510,1439.1 512,1437 514,1434.8 516,1432.6M178.3,1036.6 176,1038.3 174,1039.9 172,1041.5 170,1043.1 168,1044.8 165.9,1046.6 163.7,1048.6 161.5,1050.6 159.5,1052.6 157.5,1054.6 155.6,1056.6 153.7,1058.6 151.9,1060.6 150,1062.7 148,1065.1 146,1067.4 144,1069.8 142,1072.3 140.1,1074.6 138.4,1076.6 136.6,1078.6 134.9,1080.6 133,1082.6 131,1084.6 128.9,1086.6 126.7,1088.6 124.3,1090.6 122,1092.4 120,1093.8 118,1095.2 115.9,1096.6 112.8,1098.6 110,1100.3 108,1101.5 106,1102.7 102.9,1104.6M516,1139.7 514,1138.5 510.8,1136.6 508,1135 506,1133.9 503.5,1132.6 500,1130.8 498,1129.9 495.3,1128.6 492,1127.1 490,1126.3 486,1124.6 484,1123.8 480.9,1122.6 478,1121.5 475.7,1120.6 472,1119.1 470,1118.3 466,1116.6 464,1115.8 461.1,1114.6 458,1113.3 456,1112.4 452,1110.8 450,1109.9 446.6,1108.6 444,1107.6 441.3,1106.6 438,1105.3 436,1104.5 432,1102.8 430,1101.9 427.3,1100.6 424,1098.8 422,1097.6 420,1096.3 417.5,1094.6 414.8,1092.6 412.3,1090.6 410,1088.6 408,1086.8 406,1084.9 404,1083 402,1081 400,1079 398,1076.9 396,1074.8 394,1072.8 392,1070.7 390,1068.6 388,1066.6 386,1064.6 384,1062.6 382,1060.6 380,1058.7 378,1056.8 376,1055 374,1053.3 372,1051.6 370,1049.9 368,1048.4 365.7,1046.6 363,1044.6 360.2,1042.6 358,1041.1 356,1039.7 354,1038.4 351.2,1036.6" fill="none" stroke="#222" stroke-width="1.6" stroke-opacity="0.9"/>
</g>
<circle cx="309.0" cy="1243.6" r="188.0" fill="none" stroke="#000" stroke-width="4.6"/>
<path d="M276,1056.1 L304.4,1026.6 M313.6,1026.6 L342,1056.1" fill="none" stroke="#000" stroke-width="4.6" stroke-linecap="round"/>
<polyline points="496,1204.6 499,1200.1 505,1197.6 511,1199.6 515,1205.6 515.5,1223.6 516.5,1243.6 517,1263.6 517,1278.6 514,1288.6 509,1294.6 502,1297.1 495,1292.6" fill="none" stroke="#000" stroke-width="4.4" stroke-linejoin="round"/>
<polyline points="122,1204.6 119,1200.1 113,1197.6 107,1199.6 103,1205.6 102.5,1223.6 101.5,1243.6 101,1263.6 101,1278.6 104,1288.6 109,1294.6 116,1297.1 123,1292.6" fill="none" stroke="#000" stroke-width="4.4" stroke-linejoin="round"/>
<path d="M309,1051.6h0M248.8,1058.3h0M369.2,1058.3h0M247.2,1096.8h0M370.8,1096.8h0M146.5,1126.2h0M184.1,1137.7h0M224.5,1143.4h0M266,1146.7h0M309,1147.5h0M352,1146.7h0M393.5,1143.4h0M433.9,1137.7h0M471.5,1126.2h0M116.2,1181.1h0M163.7,1189.3h0M212.2,1192.5h0M260.5,1195.3h0M309,1195.8h0M357.5,1195.3h0M405.8,1192.5h0M454.3,1189.3h0M501.8,1181.1h0M105.5,1243.6h0M157,1243.6h0M207,1243.6h0M258,1243.6h0M309,1243.6h0M360,1243.6h0M411,1243.6h0M461,1243.6h0M512.5,1243.6h0M116.7,1306.9h0M163.7,1298.2h0M211.6,1294.3h0M260.2,1292.7h0M309,1292.1h0M357.8,1292.7h0M406.4,1294.3h0M454.3,1298.2h0M501.3,1306.9h0M146.5,1362h0M184.1,1350.5h0M224.6,1344.5h0M266.5,1341.4h0M309,1340.6h0M351.5,1341.4h0M393.4,1344.5h0M433.9,1350.5h0M471.5,1362h0M192.7,1404.9h0M218.6,1396.6h0M247.6,1391.6h0M309,1388.1h0M370.4,1391.6h0M399.4,1396.6h0M425.3,1404.9h0M248.4,1429.2h0M309,1434.7h0M369.6,1429.2h0" stroke="#000" stroke-width="4.2" stroke-linecap="round"/>
<text x="271.5" y="976.5" class="tt" textLength="81.5" lengthAdjust="spacingAndGlyphs">Left</text>
<circle cx="815.3" cy="1243.6" r="215" fill="url(#ring)"/>
<g clip-path="url(#disk1)"><g filter="url(#jet)" transform="translate(815.3,1243.6)">
<path fill="#1a1a1a" d="M-88 0h16v8h-16z"/>
<path fill="#1b1b1b" d="M-96 0h8v8h-8zM-72 0h8v8h-8zM-88 8h16v8h-16z"/>
<path fill="#1c1c1c" d="M-88 -8h24v8h-24zM-64 0h8v8h-8zM-96 8h8v8h-8zM-72 8h8v8h-8z"/>
<path fill="#1d1d1d" d="M-96 -8h8v8h-8zM-64 -8h8v8h-8z"/>
<path fill="#1e1e1e" d="M-56 -8h8v8h-8zM-104 0h8v8h-8zM-56 0h8v8h-8zM-64 8h8v8h-8zM-88 16h16v8h-16z"/>
<path fill="#1f1f1f" d="M-48 -8h8v8h-8zM-48 0h8v8h-8zM-56 8h8v8h-8zM-72 16h8v8h-8z"/>
<path fill="#202020" d="M-88 -16h32v8h-32zM-104 -8h8v8h-8zM-104 8h8v8h-8zM-96 16h8v8h-8z"/>
<path fill="#212121" d="M-56 -16h8v8h-8zM-40 -8h8v8h-8zM-40 0h8v8h-8zM-64 16h8v8h-8z"/>
<path fill="#222222" d="M-96 -16h8v8h-8zM-48 -16h16v8h-16zM-32 -8h8v8h-8zM-48 8h8v8h-8z"/>
<path fill="#232323" d="M-32 -16h8v8h-8zM-24 -8h8v8h-8zM-32 0h8v8h-8zM-56 16h8v8h-8zM-88 24h16v8h-16z"/>
<path fill="#242424" d="M-24 -16h8v8h-8zM-16 -8h8v8h-8zM-24 0h8v8h-8zM-40 8h8v8h-8zM-104 16h8v8h-8zM-72 24h8v8h-8z"/>
<path fill="#252525" d="M-72 -24h24v8h-24zM-16 -16h8v8h-8zM-112 0h8v8h-8zM-96 24h8v8h-8z"/>
<path fill="#262626" d="M-80 -24h8v8h-8zM-48 -24h32v8h-32zM-104 -16h8v8h-8zM-8 -8h8v8h-8zM-16 0h8v8h-8zM-112 8h8v8h-8zM-32 8h8v8h-8zM-48 16h8v8h-8zM-64 24h8v8h-8z"/>
<path fill="#272727" d="M-88 -24h8v8h-8zM-16 -24h8v8h-8zM-8 -16h8v8h-8zM-112 -8h8v8h-8z"/>
<path fill="#282828" d="M-8 0h8v8h-8zM-24 8h8v8h-8zM-40 16h8v8h-8z"/>
<path fill="#292929" d="M-96 -24h8v8h-8zM-8 -24h8v8h-8zM-104 24h8v8h-8zM-56 24h8v8h-8zM-88 32h16v8h-16z"/>
<path fill="#2a2a2a" d="M0 -16h8v8h-8zM0 -8h8v8h-8zM-16 8h8v8h-8zM-112 16h8v8h-8z"/>
<path fill="#2b2b2b" d="M-56 -32h48v8h-48zM-32 16h8v8h-8zM-96 32h8v8h-8zM-72 32h8v8h-8z"/>
<path fill="#2c2c2c" d="M-72 -32h16v8h-16zM-112 -16h8v8h-8zM0 0h8v8h-8zM-48 24h8v8h-8z"/>
<path fill="#2d2d2d" d="M-80 -32h8v8h-8zM-8 -32h8v8h-8zM0 -24h8v8h-8zM-8 8h8v8h-8zM-24 16h8v8h-8zM-64 32h8v8h-8z"/>
<path fill="#2e2e2e" d="M-104 -24h8v8h-8zM-120 0h8v8h-8zM-40 24h8v8h-8z"/>
<path fill="#2f2f2f" d="M-88 -32h8v8h-8zM8 -16h8v8h-8zM8 -8h8v8h-8zM-120 8h8v8h-8zM-112 24h8v8h-8zM-104 32h8v8h-8z"/>
<path fill="#303030" d="M-24 -40h8v8h-8zM0 -32h8v8h-8zM-120 -8h8v8h-8zM0 8h8v8h-8zM-16 16h8v8h-8zM-56 32h8v8h-8zM-88 40h8v8h-8z"/>
<path fill="#313131" d="M-40 -40h16v8h-16zM-16 -40h8v8h-8zM8 -24h8v8h-8zM8 0h8v8h-8zM-32 24h8v8h-8zM-80 40h8v8h-8z"/>
<path fill="#323232" d="M-56 -40h16v8h-16zM-8 -40h8v8h-8zM-96 -32h8v8h-8zM-96 40h8v8h-8zM-72 40h8v8h-8z"/>
<path fill="#333333" d="M-72 -40h16v8h-16zM-112 -24h8v8h-8zM-120 16h8v8h-8zM-8 16h8v8h-8zM-48 32h8v8h-8z"/>
<path fill="#343434" d="M-120 -16h8v8h-8zM16 -16h8v8h-8zM16 -8h8v8h-8zM-24 24h8v8h-8zM-64 40h8v8h-8z"/>
<path fill="#353535" d="M-80 -40h8v8h-8zM0 -40h8v8h-8zM8 -32h8v8h-8zM8 8h8v8h-8zM-40 32h8v8h-8z"/>
<path fill="#363636" d="M-104 -32h8v8h-8zM16 0h8v8h-8zM-112 32h8v8h-8zM-104 40h8v8h-8z"/>
<path fill="#373737" d="M-32 -48h24v8h-24zM-88 -40h8v8h-8zM16 -24h8v8h-8zM0 16h8v8h-8zM-16 24h8v8h-8zM-56 40h8v8h-8z"/>
<path fill="#383838" d="M-40 -48h8v8h-8zM-8 -48h8v8h-8zM-128 0h8v8h-8zM-120 24h8v8h-8zM-32 32h8v8h-8z"/>
<path fill="#393939" d="M-48 -48h8v8h-8zM8 -40h8v8h-8zM-88 48h16v8h-16z"/>
<path fill="#3a3a3a" d="M-64 -48h16v8h-16zM0 -48h8v8h-8zM-96 -40h8v8h-8zM16 -32h8v8h-8zM24 -16h8v8h-8zM-128 -8h8v8h-8zM24 -8h8v8h-8zM-128 8h8v8h-8zM16 8h8v8h-8zM-8 24h8v8h-8zM-48 40h8v8h-8zM-96 48h8v8h-8zM-72 48h8v8h-8z"/>
<path fill="#3b3b3b" d="M-72 -48h8v8h-8zM-120 -24h8v8h-8zM24 0h8v8h-8zM8 16h8v8h-8z"/>
<path fill="#3c3c3c" d="M-80 -48h8v8h-8zM-112 -32h8v8h-8zM24 -24h8v8h-8zM-24 32h8v8h-8zM-64 48h8v8h-8z"/>
<path fill="#3d3d3d" d="M-16 -56h8v8h-8zM-128 16h8v8h-8zM-112 40h8v8h-8zM-40 40h8v8h-8z"/>
<path fill="#3e3e3e" d="M-32 -56h16v8h-16zM-8 -56h8v8h-8zM-128 -16h8v8h-8zM0 24h8v8h-8z"/>
<path fill="#3f3f3f" d="M-40 -56h8v8h-8zM-88 -48h8v8h-8zM8 -48h8v8h-8zM-104 -40h8v8h-8zM16 -40h8v8h-8zM32 -8h8v8h-8zM24 8h8v8h-8zM-120 32h8v8h-8zM-16 32h8v8h-8zM-104 48h8v8h-8zM-56 48h8v8h-8z"/>
<path fill="#404040" d="M-48 -56h8v8h-8zM24 -32h8v8h-8zM32 -16h8v8h-8zM32 0h8v8h-8zM16 16h8v8h-8zM-32 40h8v8h-8z"/>
<path fill="#414141" d="M-72 -56h24v8h-24zM0 -56h8v8h-8zM-88 56h16v8h-16z"/>
<path fill="#424242" d="M32 -24h8v8h-8zM-128 24h8v8h-8zM8 24h8v8h-8zM-8 32h8v8h-8zM-48 48h8v8h-8zM-72 56h8v8h-8z"/>
<path fill="#434343" d="M-80 -56h8v8h-8zM-96 -48h8v8h-8zM-120 -32h8v8h-8zM-136 0h8v8h-8z"/>
<path fill="#444444" d="M8 -56h8v8h-8zM16 -48h8v8h-8zM-128 -24h8v8h-8zM-136 -8h8v8h-8zM40 -8h8v8h-8zM32 8h8v8h-8zM24 16h8v8h-8zM-24 40h8v8h-8zM-96 56h8v8h-8zM-64 56h8v8h-8z"/>
<path fill="#454545" d="M-24 -64h16v8h-16zM-112 -40h8v8h-8zM24 -40h8v8h-8zM40 -16h8v8h-8zM40 0h8v8h-8zM-136 8h8v8h-8zM-40 48h8v8h-8z"/>
<path fill="#464646" d="M-40 -64h16v8h-16zM-8 -64h8v8h-8zM-88 -56h8v8h-8zM32 -32h8v8h-8zM16 24h8v8h-8zM0 32h8v8h-8zM-120 40h8v8h-8zM-112 48h8v8h-8z"/>
<path fill="#474747" d="M-72 -64h32v8h-32zM-16 40h8v8h-8zM-56 56h8v8h-8z"/>
<path fill="#484848" d="M0 -64h8v8h-8zM-104 -48h8v8h-8zM40 -24h8v8h-8zM-136 -16h8v8h-8zM-136 16h8v8h-8zM-128 32h8v8h-8zM-32 48h8v8h-8zM-104 56h8v8h-8z"/>
<path fill="#494949" d="M-80 -64h8v8h-8zM48 -16h8v8h-8zM48 -8h8v8h-8zM40 8h8v8h-8zM32 16h8v8h-8z"/>
<path fill="#4a4a4a" d="M-96 -56h8v8h-8zM16 -56h8v8h-8zM24 -48h8v8h-8zM48 0h8v8h-8zM8 32h8v8h-8zM-48 56h8v8h-8zM-88 64h24v8h-24z"/>
<path fill="#4b4b4b" d="M8 -64h8v8h-8zM-120 -40h8v8h-8zM32 -40h8v8h-8zM-128 -32h8v8h-8zM24 24h8v8h-8zM-8 40h8v8h-8zM-24 48h8v8h-8z"/>
<path fill="#4c4c4c" d="M-72 -72h16v8h-16zM-88 -64h8v8h-8zM40 -32h8v8h-8zM48 -24h8v8h-8zM-64 64h8v8h-8z"/>
<path fill="#4d4d4d" d="M-80 -72h8v8h-8zM-56 -72h56v8h-56zM-112 -48h8v8h-8zM-136 -24h8v8h-8zM56 -8h8v8h-8zM48 8h8v8h-8zM-136 24h8v8h-8zM-40 56h8v8h-8zM-96 64h8v8h-8z"/>
<path fill="#4e4e4e" d="M56 -16h8v8h-8zM-144 0h8v8h-8zM56 0h8v8h-8zM40 16h8v8h-8zM16 32h8v8h-8zM0 40h8v8h-8zM-120 48h8v8h-8z"/>
<path fill="#4f4f4f" d="M0 -72h8v8h-8zM16 -64h8v8h-8zM-104 -56h8v8h-8zM-144 -8h8v8h-8zM32 24h8v8h-8zM-16 48h8v8h-8zM-112 56h8v8h-8zM-56 64h8v8h-8z"/>
<path fill="#505050" d="M-72 -80h8v8h-8zM-88 -72h8v8h-8zM-96 -64h8v8h-8zM24 -56h8v8h-8zM56 -24h8v8h-8zM-144 8h8v8h-8zM-128 40h8v8h-8zM-32 56h8v8h-8z"/>
<path fill="#515151" d="M-80 -80h8v8h-8zM-64 -80h8v8h-8zM32 -48h8v8h-8zM40 -40h8v8h-8zM48 -32h8v8h-8zM-144 -16h8v8h-8zM64 -16h8v8h-8zM64 -8h8v8h-8zM56 8h8v8h-8zM8 40h8v8h-8zM-48 64h8v8h-8z"/>
<path fill="#525252" d="M-56 -80h8v8h-8zM8 -72h8v8h-8zM64 0h8v8h-8zM48 16h8v8h-8zM24 32h8v8h-8zM-8 48h8v8h-8zM-104 64h8v8h-8zM-80 72h16v8h-16z"/>
<path fill="#535353" d="M-88 -80h8v8h-8zM-128 -40h8v8h-8zM-136 -32h8v8h-8zM-144 16h8v8h-8zM-136 32h8v8h-8zM-24 56h8v8h-8zM-88 72h8v8h-8z"/>
<path fill="#545454" d="M-80 -88h8v8h-8zM-48 -80h24v8h-24zM-96 -72h8v8h-8zM-120 -48h8v8h-8zM56 -32h8v8h-8zM64 -24h8v8h-8zM72 -8h8v8h-8zM40 24h8v8h-8zM-40 64h8v8h-8zM-64 72h8v8h-8z"/>
<path fill="#555555" d="M-72 -88h8v8h-8zM-24 -80h24v8h-24zM16 -72h8v8h-8zM-104 -64h8v8h-8zM24 -64h8v8h-8zM-112 -56h8v8h-8zM72 -16h8v8h-8zM64 8h8v8h-8zM16 40h8v8h-8zM0 48h8v8h-8z"/>
<path fill="#565656" d="M-88 -88h8v8h-8zM-64 -88h8v8h-8zM0 -80h8v8h-8zM32 -56h8v8h-8zM48 -40h8v8h-8zM-144 -24h8v8h-8zM72 0h8v8h-8zM56 16h8v8h-8zM32 32h8v8h-8zM-16 56h8v8h-8zM-96 72h8v8h-8zM-56 72h8v8h-8z"/>
<path fill="#575757" d="M40 -48h8v8h-8zM72 -24h8v8h-8zM80 -8h8v8h-8zM-120 56h8v8h-8zM-32 64h8v8h-8z"/>
<path fill="#585858" d="M-80 -96h8v8h-8zM-96 -80h8v8h-8zM8 -80h8v8h-8zM64 -32h8v8h-8zM80 -16h8v8h-8zM-144 24h8v8h-8zM48 24h8v8h-8zM-128 48h8v8h-8zM8 48h8v8h-8zM-112 64h8v8h-8zM-48 72h8v8h-8z"/>
<path fill="#595959" d="M-88 -96h8v8h-8zM-72 -96h8v8h-8zM-56 -88h8v8h-8zM24 -72h8v8h-8zM80 -24h8v8h-8zM-152 -8h8v8h-8zM-152 0h8v8h-8zM80 0h8v8h-8zM72 8h8v8h-8zM24 40h8v8h-8zM-8 56h8v8h-8zM-72 80h8v8h-8z"/>
<path fill="#5a5a5a" d="M-48 -88h8v8h-8zM-104 -72h8v8h-8zM-136 -40h8v8h-8zM56 -40h8v8h-8zM72 -32h8v8h-8zM-152 8h8v8h-8zM64 16h8v8h-8zM40 32h8v8h-8zM-136 40h8v8h-8zM-24 64h8v8h-8zM-80 80h8v8h-8z"/>
<path fill="#5b5b5b" d="M-96 -88h8v8h-8zM-40 -88h8v8h-8zM16 -80h8v8h-8zM-112 -64h8v8h-8zM32 -64h8v8h-8zM-120 -56h8v8h-8zM-128 -48h8v8h-8zM-144 -32h8v8h-8zM-152 -16h8v8h-8zM88 -16h8v8h-8zM88 -8h8v8h-8zM16 48h8v8h-8zM-104 72h8v8h-8zM-40 72h8v8h-8zM-88 80h8v8h-8zM-64 80h8v8h-8z"/>
<path fill="#5c5c5c" d="M-64 -96h8v8h-8zM-32 -88h16v8h-16zM48 -48h8v8h-8zM80 -32h8v8h-8zM88 -24h8v8h-8zM88 0h8v8h-8zM80 8h8v8h-8zM56 24h8v8h-8zM0 56h8v8h-8zM-16 64h8v8h-8z"/>
<path fill="#5d5d5d" d="M-88 -104h16v8h-16zM-16 -88h16v8h-16zM40 -56h8v8h-8zM64 -40h8v8h-8zM72 16h8v8h-8zM32 40h8v8h-8zM-32 72h8v8h-8zM-56 80h8v8h-8z"/>
<path fill="#5e5e5e" d="M-96 -96h8v8h-8zM0 -88h8v8h-8zM-104 -80h8v8h-8zM24 -80h8v8h-8zM-152 -24h8v8h-8zM96 -16h8v8h-8zM96 -8h8v8h-8zM-152 16h8v8h-8zM-144 32h8v8h-8zM48 32h8v8h-8zM-96 80h8v8h-8z"/>
<path fill="#5f5f5f" d="M-72 -104h8v8h-8zM-56 -96h8v8h-8zM8 -88h8v8h-8zM32 -72h8v8h-8zM72 -40h8v8h-8zM88 -32h8v8h-8zM96 -24h8v8h-8zM64 24h8v8h-8zM24 48h8v8h-8zM8 56h8v8h-8zM-8 64h8v8h-8zM-48 80h8v8h-8z"/>
<path fill="#606060" d="M16 -88h8v8h-8zM56 -48h8v8h-8zM96 0h8v8h-8zM88 8h8v8h-8zM-128 56h8v8h-8zM-120 64h8v8h-8zM-24 72h8v8h-8zM-80 88h16v8h-16z"/>
<path fill="#616161" d="M-48 -96h8v8h-8zM-112 -72h8v8h-8zM40 -64h8v8h-8zM80 -40h8v8h-8zM80 16h8v8h-8zM40 40h8v8h-8zM16 56h8v8h-8zM-112 72h8v8h-8zM-40 80h8v8h-8zM-64 88h8v8h-8z"/>
<path fill="#626262" d="M-96 -104h8v8h-8zM-104 -88h8v8h-8zM-120 -64h8v8h-8zM-128 -56h8v8h-8zM48 -56h8v8h-8zM-136 -48h8v8h-8zM64 -48h8v8h-8zM-144 -40h8v8h-8zM96 -32h8v8h-8zM104 -16h8v8h-8zM-160 -8h8v8h-8zM104 -8h8v8h-8zM-152 24h8v8h-8zM56 32h8v8h-8zM-136 48h8v8h-8zM0 64h8v8h-8zM-16 72h8v8h-8zM-88 88h8v8h-8z"/>
<path fill="#636363" d="M-64 -104h8v8h-8zM-40 -96h16v8h-16zM24 -88h8v8h-8zM32 -80h8v8h-8zM88 -40h8v8h-8zM-152 -32h8v8h-8zM104 -24h8v8h-8zM-160 0h8v8h-8zM72 24h8v8h-8zM32 48h8v8h-8zM-104 80h8v8h-8zM-56 88h8v8h-8z"/>
<path fill="#646464" d="M-24 -96h24v8h-24zM-160 -16h8v8h-8zM104 0h8v8h-8zM96 8h8v8h-8zM8 64h8v8h-8zM-32 80h8v8h-8z"/>
<path fill="#656565" d="M-88 -112h16v8h-16zM0 -96h16v8h-16zM-112 -80h8v8h-8zM40 -72h8v8h-8zM72 -48h8v8h-8zM-160 8h8v8h-8zM88 16h8v8h-8zM64 32h8v8h-8zM-144 40h8v8h-8zM48 40h8v8h-8zM24 56h8v8h-8zM-8 72h8v8h-8zM-48 88h8v8h-8zM-72 96h8v8h-8z"/>
<path fill="#666666" d="M-56 -104h8v8h-8zM-104 -96h8v8h-8zM16 -96h8v8h-8zM48 -64h8v8h-8zM56 -56h8v8h-8zM96 -40h8v8h-8zM104 -32h8v8h-8zM-160 -24h8v8h-8zM112 -16h8v8h-8zM80 24h8v8h-8zM-24 80h8v8h-8zM-96 88h8v8h-8zM-80 96h8v8h-8zM-64 96h8v8h-8z"/>
<path fill="#676767" d="M-72 -112h8v8h-8zM32 -88h8v8h-8zM80 -48h8v8h-8zM112 -24h8v8h-8zM112 -8h8v8h-8zM40 48h8v8h-8zM16 64h8v8h-8zM0 72h8v8h-8zM-40 88h8v8h-8z"/>
<path fill="#686868" d="M-48 -104h8v8h-8zM24 -96h8v8h-8zM-120 -72h8v8h-8zM104 8h8v8h-8zM-160 16h8v8h-8zM96 16h8v8h-8zM-152 32h8v8h-8zM56 40h8v8h-8zM32 56h8v8h-8zM-128 64h8v8h-8zM-120 72h8v8h-8zM-16 80h8v8h-8zM-88 96h8v8h-8zM-56 96h8v8h-8z"/>
<path fill="#696969" d="M-96 -112h8v8h-8zM40 -80h8v8h-8zM-128 -64h8v8h-8zM-136 -56h8v8h-8zM64 -56h8v8h-8zM-144 -48h8v8h-8zM88 -48h8v8h-8zM-152 -40h8v8h-8zM112 0h8v8h-8zM72 32h8v8h-8zM8 72h8v8h-8zM-32 88h8v8h-8z"/>
<path fill="#6a6a6a" d="M-64 -112h8v8h-8zM-40 -104h16v8h-16zM-112 -88h8v8h-8zM104 -40h8v8h-8zM-160 -32h8v8h-8zM112 -32h8v8h-8zM88 24h8v8h-8zM48 48h8v8h-8zM-136 56h8v8h-8zM24 64h8v8h-8zM-112 80h8v8h-8zM-8 80h8v8h-8zM-48 96h8v8h-8zM-72 104h16v8h-16z"/>
<path fill="#6b6b6b" d="M-104 -104h8v8h-8zM-24 -104h40v8h-40zM32 -96h8v8h-8zM48 -72h8v8h-8zM56 -64h8v8h-8zM72 -56h8v8h-8zM120 -16h8v8h-8zM-168 -8h8v8h-8zM64 40h8v8h-8zM-104 88h8v8h-8zM-24 88h8v8h-8zM-80 104h8v8h-8zM-56 104h8v8h-8z"/>
<path fill="#6c6c6c" d="M16 -104h8v8h-8zM40 -88h8v8h-8zM96 -48h8v8h-8zM120 -24h8v8h-8zM-168 -16h8v8h-8zM120 -8h8v8h-8zM-168 0h8v8h-8zM112 8h8v8h-8zM104 16h8v8h-8zM-160 24h8v8h-8zM80 32h8v8h-8zM-144 48h8v8h-8zM40 56h8v8h-8zM16 72h8v8h-8zM0 80h8v8h-8zM-96 96h8v8h-8zM-40 96h8v8h-8z"/>
<path fill="#6d6d6d" d="M-56 -112h8v8h-8zM-120 -80h8v8h-8zM112 -40h8v8h-8zM32 64h8v8h-8zM-16 88h8v8h-8zM-48 104h8v8h-8zM-72 112h16v8h-16z"/>
<path fill="#6e6e6e" d="M-88 -120h16v8h-16zM24 -104h8v8h-8zM80 -56h8v8h-8zM120 -32h8v8h-8zM-168 -24h8v8h-8zM120 0h8v8h-8zM-168 8h8v8h-8zM96 24h8v8h-8zM56 48h8v8h-8zM24 72h8v8h-8zM8 80h8v8h-8zM-32 96h8v8h-8zM-88 104h8v8h-8zM-56 112h8v8h-8z"/>
<path fill="#6f6f6f" d="M-72 -120h8v8h-8zM-48 -112h8v8h-8zM-112 -96h8v8h-8zM48 -80h8v8h-8zM-128 -72h8v8h-8zM-136 -64h8v8h-8zM64 -64h8v8h-8zM-144 -56h8v8h-8zM-152 -48h8v8h-8zM104 -48h8v8h-8zM-160 -40h8v8h-8zM-152 40h8v8h-8zM72 40h8v8h-8zM48 56h8v8h-8zM-8 88h8v8h-8zM-40 104h8v8h-8zM-80 112h8v8h-8z"/>
<path fill="#707070" d="M-104 -112h8v8h-8zM-40 -112h8v8h-8zM88 -56h8v8h-8zM-168 -32h8v8h-8zM88 32h8v8h-8zM40 64h8v8h-8zM-128 72h8v8h-8zM16 80h8v8h-8zM-24 96h8v8h-8zM-48 112h8v8h-8zM-64 120h8v8h-8z"/>
<path fill="#717171" d="M-96 -120h8v8h-8zM-32 -112h48v8h-48zM32 -104h8v8h-8zM40 -96h8v8h-8zM56 -72h8v8h-8zM128 -24h8v8h-8zM128 -16h8v8h-8zM120 8h8v8h-8zM-168 16h8v8h-8zM112 16h8v8h-8zM64 48h8v8h-8zM-136 64h8v8h-8zM32 72h8v8h-8zM-120 80h8v8h-8zM-112 88h8v8h-8zM0 88h8v8h-8zM-72 120h8v8h-8zM-56 120h8v8h-8z"/>
<path fill="#727272" d="M-64 -120h8v8h-8zM16 -112h8v8h-8zM-120 -88h8v8h-8zM120 -40h8v8h-8zM128 -8h8v8h-8zM104 24h8v8h-8zM-160 32h8v8h-8zM80 40h8v8h-8zM24 80h8v8h-8zM8 88h8v8h-8zM-104 96h8v8h-8zM-16 96h8v8h-8zM-96 104h8v8h-8zM-32 104h8v8h-8zM-88 112h8v8h-8z"/>
<path fill="#737373" d="M72 -64h8v8h-8zM96 -56h8v8h-8zM112 -48h8v8h-8zM128 -32h8v8h-8zM-144 56h8v8h-8zM56 56h8v8h-8zM-40 112h8v8h-8zM-80 120h8v8h-8zM-48 120h8v8h-8z"/>
<path fill="#747474" d="M-56 -120h8v8h-8zM24 -112h8v8h-8zM-112 -104h8v8h-8zM48 -88h8v8h-8zM-128 -80h8v8h-8zM-160 -48h8v8h-8zM-168 -40h8v8h-8zM-176 -24h8v8h-8zM-176 -16h8v8h-8zM-176 -8h8v8h-8zM128 0h8v8h-8zM96 32h8v8h-8zM48 64h8v8h-8zM40 72h8v8h-8zM16 88h8v8h-8zM-8 96h8v8h-8zM-24 104h8v8h-8zM-64 128h16v8h-16z"/>
<path fill="#757575" d="M-136 -72h8v8h-8zM-144 -64h8v8h-8zM-152 -56h8v8h-8zM-176 0h8v8h-8zM72 48h8v8h-8zM32 80h8v8h-8zM0 96h8v8h-8zM-32 112h8v8h-8zM-72 128h8v8h-8z"/>
<path fill="#767676" d="M-48 -120h8v8h-8zM40 -104h8v8h-8zM56 -80h8v8h-8zM64 -72h8v8h-8zM80 -64h8v8h-8zM104 -56h8v8h-8zM128 -40h8v8h-8zM-176 -32h8v8h-8zM136 -16h8v8h-8zM120 16h8v8h-8zM-168 24h8v8h-8zM112 24h8v8h-8zM88 40h8v8h-8zM-152 48h8v8h-8zM64 56h8v8h-8zM24 88h8v8h-8zM-16 104h8v8h-8zM-40 120h8v8h-8z"/>
<path fill="#777777" d="M-88 -128h16v8h-16zM-104 -120h8v8h-8zM-40 -120h56v8h-56zM32 -112h8v8h-8zM-120 -96h8v8h-8zM-168 -48h8v8h-8zM120 -48h8v8h-8zM136 -24h8v8h-8zM136 -8h8v8h-8zM-176 8h8v8h-8zM128 8h8v8h-8zM56 64h8v8h-8zM8 96h8v8h-8zM-104 104h8v8h-8zM-96 112h8v8h-8zM-88 120h8v8h-8zM-48 128h8v8h-8z"/>
<path fill="#787878" d="M-72 -128h8v8h-8zM16 -120h8v8h-8zM-160 -56h8v8h-8zM-176 -40h8v8h-8zM136 -32h8v8h-8zM104 32h8v8h-8zM-160 40h8v8h-8zM80 48h8v8h-8zM-136 72h8v8h-8zM48 72h8v8h-8zM-128 80h8v8h-8zM40 80h8v8h-8zM-120 88h8v8h-8zM32 88h8v8h-8zM-112 96h8v8h-8zM-8 104h8v8h-8zM-24 112h8v8h-8zM-80 128h8v8h-8zM-64 136h8v8h-8z"/>
<path fill="#797979" d="M-96 -128h8v8h-8zM-112 -112h8v8h-8zM48 -96h8v8h-8zM-128 -88h8v8h-8zM88 -64h8v8h-8zM136 0h8v8h-8zM16 96h8v8h-8zM-32 120h8v8h-8zM-56 136h8v8h-8z"/>
<path fill="#7a7a7a" d="M-72 -200h16v8h-16zM-64 -128h8v8h-8zM24 -120h8v8h-8zM-136 -80h8v8h-8zM-144 -72h8v8h-8zM-152 -64h8v8h-8zM112 -56h8v8h-8zM-176 16h8v8h-8zM128 16h8v8h-8zM120 24h8v8h-8zM96 40h8v8h-8zM72 56h8v8h-8zM-144 64h8v8h-8zM24 96h8v8h-8zM0 104h8v8h-8zM-16 112h8v8h-8zM-40 128h8v8h-8zM-72 136h8v8h-8z"/>
<path fill="#7b7b7b" d="M-72 -208h16v8h-16zM-72 -192h16v8h-16zM-56 -128h8v8h-8zM72 -72h8v8h-8zM-168 -56h8v8h-8zM-176 -48h8v8h-8zM128 -48h8v8h-8zM136 -40h8v8h-8zM-184 -24h8v8h-8zM-184 -16h8v8h-8zM-184 -8h8v8h-8zM-168 32h8v8h-8zM112 32h8v8h-8zM64 64h8v8h-8zM56 72h8v8h-8zM48 80h8v8h-8zM40 88h8v8h-8zM8 104h8v8h-8zM-24 120h8v8h-8z"/>
<path fill="#7c7c7c" d="M-72 -216h8v8h-8zM-80 -208h8v8h-8zM-80 -200h8v8h-8zM-56 -200h8v8h-8zM-56 -192h8v8h-8zM-104 -128h8v8h-8zM-48 -128h56v8h-56zM-120 -104h8v8h-8zM56 -88h8v8h-8zM96 -64h8v8h-8zM-184 -32h8v8h-8zM144 -24h8v8h-8zM144 -16h8v8h-8zM136 8h8v8h-8zM88 48h8v8h-8zM-152 56h8v8h-8zM32 96h8v8h-8zM-104 112h8v8h-8zM-8 112h8v8h-8zM-96 120h8v8h-8zM-88 128h8v8h-8zM-48 136h8v8h-8z"/>
<path fill="#7d7d7d" d="M-64 -216h8v8h-8zM-88 -208h8v8h-8zM-56 -208h8v8h-8zM-88 -200h8v8h-8zM-80 -192h8v8h-8zM-64 -184h8v8h-8zM8 -128h8v8h-8zM-112 -120h8v8h-8zM40 -112h8v8h-8zM64 -80h8v8h-8zM-160 -64h8v8h-8zM-184 -40h8v8h-8zM144 -8h8v8h-8zM-184 0h8v8h-8zM104 40h8v8h-8zM16 104h8v8h-8zM-32 128h8v8h-8z"/>
<path fill="#7e7e7e" d="M-56 -216h8v8h-8zM-88 -192h8v8h-8zM-72 -184h8v8h-8zM-88 -136h16v8h-16zM16 -128h8v8h-8zM32 -120h8v8h-8zM-152 -72h8v8h-8zM-176 -56h8v8h-8zM120 -56h8v8h-8zM-184 -48h8v8h-8zM144 -32h8v8h-8zM-176 24h8v8h-8zM-160 48h8v8h-8zM80 56h8v8h-8zM-112 104h8v8h-8zM0 112h8v8h-8zM-16 120h8v8h-8zM-80 136h8v8h-8z"/>
<path fill="#7f7f7f" d="M-48 -208h8v8h-8zM-96 -200h8v8h-8zM-48 -200h8v8h-8zM-48 -192h8v8h-8zM-80 -184h8v8h-8zM-56 -184h8v8h-8zM-96 -136h8v8h-8zM48 -104h8v8h-8zM-128 -96h8v8h-8zM-136 -88h8v8h-8zM-144 -80h8v8h-8zM-168 -64h8v8h-8zM144 0h8v8h-8zM-184 8h8v8h-8zM136 16h8v8h-8zM128 24h8v8h-8zM120 32h8v8h-8zM96 48h8v8h-8zM72 64h8v8h-8zM64 72h8v8h-8zM-136 80h8v8h-8zM56 80h8v8h-8zM-128 88h8v8h-8zM48 88h8v8h-8zM-120 96h8v8h-8zM40 96h8v8h-8zM24 104h8v8h-8zM-24 128h8v8h-8zM-40 136h8v8h-8zM-64 144h8v8h-8z"/>
<path fill="#808080" d="M-96 -192h8v8h-8zM-88 -184h8v8h-8zM-72 -136h8v8h-8zM-24 -136h24v8h-24zM80 -72h8v8h-8zM104 -64h8v8h-8zM-184 -56h8v8h-8zM136 -48h8v8h-8zM-168 40h8v8h-8zM-144 72h8v8h-8zM8 112h8v8h-8zM-8 120h8v8h-8z"/>
<path fill="#818181" d="M-48 -216h8v8h-8zM-48 -184h8v8h-8zM-104 -136h8v8h-8zM-64 -136h8v8h-8zM-40 -136h16v8h-16zM0 -136h8v8h-8zM-112 -128h8v8h-8zM24 -128h8v8h-8zM-120 -112h8v8h-8zM-160 -72h8v8h-8zM-176 -64h8v8h-8zM-192 -40h8v8h-8zM144 -40h8v8h-8zM-192 -32h8v8h-8zM-192 -24h8v8h-8zM-192 -16h8v8h-8zM144 8h8v8h-8zM112 40h8v8h-8zM88 56h8v8h-8zM-152 64h8v8h-8zM32 104h8v8h-8zM-104 120h8v8h-8zM-96 128h8v8h-8zM-32 136h8v8h-8zM-56 144h8v8h-8z"/>
<path fill="#828282" d="M-104 -200h8v8h-8zM-40 -200h8v8h-8zM-40 -192h8v8h-8zM-96 -184h8v8h-8zM-80 -176h32v8h-32zM-56 -136h16v8h-16zM8 -136h8v8h-8zM56 -96h8v8h-8zM-184 -64h8v8h-8zM128 -56h8v8h-8zM-192 -48h8v8h-8zM152 -24h8v8h-8zM152 -16h8v8h-8zM-184 16h8v8h-8zM80 64h8v8h-8zM-112 112h8v8h-8zM16 112h8v8h-8zM0 120h8v8h-8zM-16 128h8v8h-8zM-88 136h8v8h-8zM-72 144h8v8h-8z"/>
<path fill="#838383" d="M-40 -208h8v8h-8zM-104 -192h8v8h-8zM-40 -184h8v8h-8zM-88 -176h8v8h-8zM-48 -176h8v8h-8zM-96 -144h16v8h-16zM16 -136h8v8h-8zM-152 -80h8v8h-8zM-168 -72h8v8h-8zM88 -72h8v8h-8zM112 -64h8v8h-8zM-192 -56h8v8h-8zM-192 -8h8v8h-8zM152 -8h8v8h-8zM136 24h8v8h-8zM-176 32h8v8h-8zM128 32h8v8h-8zM104 48h8v8h-8zM72 72h8v8h-8zM64 80h8v8h-8zM56 88h8v8h-8zM48 96h8v8h-8zM24 112h8v8h-8zM-48 144h8v8h-8z"/>
<path fill="#848484" d="M-40 -216h8v8h-8zM-104 -184h8v8h-8zM-96 -176h8v8h-8zM-80 -144h8v8h-8zM-32 -144h32v8h-32zM-120 -120h8v8h-8zM40 -120h8v8h-8zM-128 -104h8v8h-8zM-136 -96h8v8h-8zM-144 -88h8v8h-8zM72 -80h8v8h-8zM-176 -72h8v8h-8zM-192 -64h8v8h-8zM152 -32h8v8h-8zM152 0h8v8h-8zM144 16h8v8h-8zM120 40h8v8h-8zM-160 56h8v8h-8zM40 104h8v8h-8zM8 120h8v8h-8zM-24 136h8v8h-8z"/>
<path fill="#858585" d="M-32 -200h8v8h-8zM-112 -192h8v8h-8zM-32 -192h8v8h-8zM-104 -176h8v8h-8zM-40 -176h8v8h-8zM-88 -168h24v8h-24zM-104 -144h8v8h-8zM-40 -144h8v8h-8zM0 -144h8v8h-8zM-112 -136h8v8h-8zM32 -128h8v8h-8zM48 -112h8v8h-8zM64 -88h8v8h-8zM-160 -80h8v8h-8zM-184 -72h8v8h-8zM-200 -48h8v8h-8zM144 -48h8v8h-8zM-200 -40h8v8h-8zM-192 0h8v8h-8zM-168 48h8v8h-8zM96 56h8v8h-8zM-144 80h8v8h-8zM-136 88h8v8h-8zM-120 104h8v8h-8zM-104 128h8v8h-8zM-8 128h8v8h-8zM-40 144h8v8h-8z"/>
<path fill="#868686" d="M-40 -224h8v8h-8zM-32 -208h8v8h-8zM-112 -184h8v8h-8zM-32 -184h8v8h-8zM-96 -168h8v8h-8zM-64 -168h24v8h-24zM-96 -160h16v8h-16zM-96 -152h16v8h-16zM-32 -152h24v8h-24zM-72 -144h8v8h-8zM-48 -144h8v8h-8zM8 -144h8v8h-8zM24 -136h8v8h-8zM-168 -80h8v8h-8zM-192 -72h8v8h-8zM-200 -56h8v8h-8zM136 -56h8v8h-8zM152 -40h8v8h-8zM-200 -32h8v8h-8zM152 8h8v8h-8zM-184 24h8v8h-8zM112 48h8v8h-8zM88 64h8v8h-8zM-128 96h8v8h-8zM32 112h8v8h-8zM-112 120h8v8h-8zM16 120h8v8h-8zM-96 136h8v8h-8zM-80 144h8v8h-8z"/>
<path fill="#878787" d="M-120 -192h8v8h-8zM-112 -176h8v8h-8zM-32 -176h8v8h-8zM-104 -168h8v8h-8zM-40 -168h16v8h-16zM-104 -160h8v8h-8zM-80 -160h8v8h-8zM-40 -160h16v8h-16zM-104 -152h8v8h-8zM-80 -152h8v8h-8zM-40 -152h8v8h-8zM-8 -152h8v8h-8zM-112 -144h8v8h-8zM-64 -144h16v8h-16zM-120 -128h8v8h-8zM-152 -88h8v8h-8zM-176 -80h8v8h-8zM96 -72h8v8h-8zM-200 -64h8v8h-8zM120 -64h8v8h-8zM-200 -24h8v8h-8zM-192 8h8v8h-8zM144 24h8v8h-8zM136 32h8v8h-8zM-152 72h8v8h-8zM80 72h8v8h-8zM0 128h8v8h-8zM-16 136h8v8h-8zM-32 144h8v8h-8z"/>
<path fill="#888888" d="M-32 -216h8v8h-8zM-120 -184h8v8h-8zM-112 -168h8v8h-8zM-24 -168h8v8h-8zM-72 -160h8v8h-8zM-48 -160h8v8h-8zM-24 -160h16v8h-16zM-112 -152h8v8h-8zM-48 -152h8v8h-8zM0 -152h8v8h-8zM16 -144h8v8h-8zM-128 -112h8v8h-8zM-144 -96h8v8h-8zM-160 -88h8v8h-8zM-184 -80h8v8h-8zM-200 -72h8v8h-8zM160 -24h8v8h-8zM-200 -16h8v8h-8zM160 -16h8v8h-8zM-176 40h8v8h-8zM128 40h8v8h-8zM104 56h8v8h-8zM72 80h8v8h-8zM64 88h8v8h-8zM56 96h8v8h-8zM48 104h8v8h-8zM24 120h8v8h-8zM8 128h8v8h-8z"/>
<path fill="#898989" d="M-24 -200h8v8h-8zM-24 -192h8v8h-8zM-24 -184h8v8h-8zM-120 -176h8v8h-8zM-24 -176h8v8h-8zM-112 -160h8v8h-8zM-64 -160h16v8h-16zM-72 -152h8v8h-8zM-56 -152h8v8h-8zM-120 -136h8v8h-8zM-136 -104h8v8h-8zM56 -104h8v8h-8zM-168 -88h8v8h-8zM-192 -80h8v8h-8zM-200 -8h8v8h-8zM160 -8h8v8h-8zM152 16h8v8h-8zM120 48h8v8h-8zM-160 64h8v8h-8zM96 64h8v8h-8zM-120 112h8v8h-8zM40 112h8v8h-8zM-8 136h8v8h-8zM-24 144h8v8h-8z"/>
<path fill="#8a8a8a" d="M-32 -224h8v8h-8zM-24 -208h8v8h-8zM-128 -184h8v8h-8zM-120 -168h8v8h-8zM-16 -168h8v8h-8zM-8 -160h8v8h-8zM-64 -152h8v8h-8zM8 -152h8v8h-8zM-120 -144h8v8h-8zM32 -136h8v8h-8zM40 -128h8v8h-8zM-128 -120h8v8h-8zM-152 -96h8v8h-8zM-176 -88h8v8h-8zM80 -80h8v8h-8zM104 -72h8v8h-8zM-208 -64h8v8h-8zM-208 -56h8v8h-8zM-208 -48h8v8h-8zM152 -48h8v8h-8zM-208 -40h8v8h-8zM160 -32h8v8h-8zM160 0h8v8h-8zM-192 16h8v8h-8zM-184 32h8v8h-8zM-112 128h8v8h-8zM16 128h8v8h-8zM-88 144h8v8h-8z"/>
<path fill="#8b8b8b" d="M-128 -176h8v8h-8zM-16 -176h8v8h-8zM-120 -160h8v8h-8zM0 -160h8v8h-8zM-120 -152h8v8h-8zM24 -144h8v8h-8zM-184 -88h8v8h-8zM-200 -80h8v8h-8zM-208 -72h8v8h-8zM128 -64h8v8h-8zM144 -56h8v8h-8zM-208 -32h8v8h-8zM160 8h8v8h-8zM144 32h8v8h-8zM-168 56h8v8h-8zM112 56h8v8h-8zM88 72h8v8h-8zM80 80h8v8h-8zM-144 88h8v8h-8zM-136 96h8v8h-8zM-128 104h8v8h-8zM32 120h8v8h-8zM-104 136h8v8h-8zM0 136h8v8h-8zM-16 144h8v8h-8zM-64 152h16v8h-16z"/>
<path fill="#8c8c8c" d="M-24 -216h8v8h-8zM-16 -192h8v8h-8zM-16 -184h8v8h-8zM-128 -168h8v8h-8zM-8 -168h8v8h-8zM-128 -136h8v8h-8zM-128 -128h8v8h-8zM48 -120h8v8h-8zM-136 -112h8v8h-8zM-144 -104h8v8h-8zM-168 -96h16v8h-16zM64 -96h8v8h-8zM-192 -88h8v8h-8zM160 -40h8v8h-8zM-208 -24h8v8h-8zM-200 0h8v8h-8zM152 24h8v8h-8zM136 40h8v8h-8zM128 48h8v8h-8zM104 64h8v8h-8zM-152 80h8v8h-8zM72 88h8v8h-8zM64 96h8v8h-8zM56 104h8v8h-8zM-120 120h8v8h-8zM24 128h8v8h-8zM8 136h8v8h-8zM-48 152h8v8h-8z"/>
<path fill="#8d8d8d" d="M-16 -200h8v8h-8zM-136 -176h8v8h-8zM-8 -176h8v8h-8zM-128 -160h8v8h-8zM-128 -152h8v8h-8zM16 -152h8v8h-8zM-128 -144h8v8h-8zM-184 -96h16v8h-16zM-200 -88h8v8h-8zM72 -88h8v8h-8zM-208 -80h8v8h-8zM-176 48h8v8h-8zM-160 72h8v8h-8zM48 112h8v8h-8zM-8 144h8v8h-8zM-72 152h8v8h-8zM-40 152h8v8h-8z"/>
<path fill="#8e8e8e" d="M-24 -224h8v8h-8zM-16 -208h8v8h-8zM-136 -168h8v8h-8zM0 -168h8v8h-8zM8 -160h8v8h-8zM-136 -120h8v8h-8zM-160 -104h16v8h-16zM-192 -96h8v8h-8zM88 -80h8v8h-8zM112 -72h8v8h-8zM-216 -64h8v8h-8zM-216 -56h8v8h-8zM-216 -48h8v8h-8zM-208 -16h8v8h-8zM168 -16h8v8h-8zM-200 8h8v8h-8zM160 16h8v8h-8zM-192 24h8v8h-8zM120 56h8v8h-8zM96 72h8v8h-8zM40 120h8v8h-8zM16 136h8v8h-8zM-96 144h8v8h-8zM-32 152h8v8h-8z"/>
<path fill="#8f8f8f" d="M-8 -184h8v8h-8zM-144 -176h8v8h-8zM-136 -160h8v8h-8zM-136 -152h8v8h-8zM-136 -144h8v8h-8zM-136 -136h8v8h-8zM-136 -128h8v8h-8zM-144 -112h8v8h-8zM56 -112h8v8h-8zM-176 -104h16v8h-16zM-200 -96h8v8h-8zM-208 -88h8v8h-8zM-216 -72h8v8h-8zM136 -64h8v8h-8zM-216 -40h8v8h-8zM168 -24h8v8h-8zM168 -8h8v8h-8zM152 32h8v8h-8zM-184 40h8v8h-8zM144 40h8v8h-8zM-168 64h8v8h-8zM112 64h8v8h-8zM88 80h8v8h-8zM-128 112h8v8h-8zM-120 128h8v8h-8zM32 128h8v8h-8zM-112 136h8v8h-8zM0 144h8v8h-8zM-24 152h8v8h-8z"/>
<path fill="#909090" d="M-16 -216h8v8h-8zM-8 -192h8v8h-8zM0 -176h8v8h-8zM-144 -168h8v8h-8zM16 -160h8v8h-8zM24 -152h8v8h-8zM32 -144h8v8h-8zM40 -136h8v8h-8zM-144 -120h8v8h-8zM-152 -112h8v8h-8zM-184 -104h8v8h-8zM152 -56h8v8h-8zM160 -48h8v8h-8zM-216 -32h8v8h-8zM168 -32h8v8h-8zM-208 -8h8v8h-8zM168 0h8v8h-8zM160 24h8v8h-8zM136 48h8v8h-8zM128 56h8v8h-8zM-152 88h8v8h-8zM80 88h8v8h-8zM-144 96h8v8h-8zM72 96h8v8h-8zM-136 104h8v8h-8zM64 104h8v8h-8zM24 136h8v8h-8zM8 144h8v8h-8zM-80 152h8v8h-8zM-16 152h8v8h-8z"/>
<path fill="#919191" d="M-8 -200h8v8h-8zM8 -168h8v8h-8zM-144 -160h8v8h-8zM-144 -152h8v8h-8zM-144 -144h8v8h-8zM-144 -136h8v8h-8zM-144 -128h8v8h-8zM48 -128h8v8h-8zM-176 -112h24v8h-24zM-192 -104h8v8h-8zM120 -72h8v8h-8zM168 8h8v8h-8zM-200 16h8v8h-8zM-192 32h8v8h-8zM-176 56h8v8h-8zM104 72h8v8h-8zM-160 80h8v8h-8zM56 112h8v8h-8zM-128 120h8v8h-8zM48 120h8v8h-8zM-104 144h8v8h-8zM16 144h8v8h-8zM-8 152h8v8h-8z"/>
<path fill="#929292" d="M-16 -224h8v8h-8zM0 -184h8v8h-8zM-152 -168h8v8h-8zM-152 -160h8v8h-8zM-152 -128h8v8h-8zM-168 -120h24v8h-24zM-184 -112h8v8h-8zM-200 -104h8v8h-8zM96 -80h8v8h-8zM168 -40h8v8h-8zM-216 -24h8v8h-8zM-208 0h8v8h-8zM168 16h8v8h-8zM160 32h8v8h-8zM152 40h8v8h-8zM144 48h8v8h-8zM120 64h8v8h-8zM96 80h8v8h-8zM40 128h8v8h-8zM0 152h8v8h-8z"/>
<path fill="#939393" d="M-8 -208h8v8h-8zM8 -176h8v8h-8zM-152 -152h8v8h-8zM-152 -144h8v8h-8zM-152 -136h8v8h-8zM-160 -128h8v8h-8zM-176 -120h8v8h-8zM-192 -112h8v8h-8zM64 -104h8v8h-8zM144 -64h8v8h-8zM-216 -16h8v8h-8zM-184 48h8v8h-8zM136 56h8v8h-8zM-168 72h8v8h-8zM112 72h8v8h-8zM88 88h8v8h-8zM-136 112h8v8h-8zM-120 136h8v8h-8zM32 136h8v8h-8zM24 144h8v8h-8zM8 152h8v8h-8z"/>
<path fill="#949494" d="M-8 -216h8v8h-8zM0 -192h8v8h-8zM16 -168h8v8h-8zM-160 -160h8v8h-8zM24 -160h8v8h-8zM-160 -152h8v8h-8zM32 -152h8v8h-8zM-160 -144h8v8h-8zM-168 -136h16v8h-16zM-176 -128h16v8h-16zM-192 -120h16v8h-16zM80 -88h8v8h-8zM-224 -40h8v8h-8zM-200 24h8v8h-8zM168 24h8v8h-8zM128 64h8v8h-8zM-152 96h8v8h-8zM80 96h8v8h-8zM-144 104h8v8h-8zM-128 128h8v8h-8zM-88 152h8v8h-8zM16 152h8v8h-8z"/>
<path fill="#959595" d="M0 -200h8v8h-8zM8 -184h8v8h-8zM-168 -152h8v8h-8zM-168 -144h8v8h-8zM40 -144h8v8h-8zM-176 -136h8v8h-8zM-184 -128h8v8h-8zM56 -120h8v8h-8zM128 -72h8v8h-8zM-224 -32h8v8h-8zM176 -24h8v8h-8zM176 -16h8v8h-8zM176 -8h8v8h-8zM176 0h8v8h-8zM-208 8h8v8h-8zM160 40h8v8h-8zM152 48h8v8h-8zM144 56h8v8h-8zM-176 64h8v8h-8zM120 72h8v8h-8zM104 80h8v8h-8zM-160 88h8v8h-8zM72 104h8v8h-8zM64 112h8v8h-8zM56 120h8v8h-8zM-112 144h8v8h-8zM-16 160h24v8h-24z"/>
<path fill="#969696" d="M-176 -144h8v8h-8zM72 -96h8v8h-8zM104 -80h8v8h-8zM160 -56h8v8h-8zM168 -48h8v8h-8zM176 -32h8v8h-8zM-216 -8h8v8h-8zM176 8h8v8h-8zM168 32h8v8h-8zM-192 40h8v8h-8zM136 64h8v8h-8zM96 88h8v8h-8zM-136 120h8v8h-8zM48 128h8v8h-8zM40 136h8v8h-8zM32 144h8v8h-8zM24 152h8v8h-8zM-32 160h16v8h-16zM8 160h8v8h-8z"/>
<path fill="#979797" d="M-8 -224h8v8h-8zM0 -208h8v8h-8zM16 -176h8v8h-8zM48 -136h8v8h-8zM-224 -24h8v8h-8zM176 16h8v8h-8zM160 48h8v8h-8zM152 56h8v8h-8zM128 72h8v8h-8zM-168 80h8v8h-8zM112 80h8v8h-8zM-144 112h8v8h-8zM-96 152h8v8h-8zM-40 160h8v8h-8zM16 160h8v8h-8z"/>
<path fill="#989898" d="M8 -192h8v8h-8zM24 -168h8v8h-8zM32 -160h8v8h-8zM152 -64h8v8h-8zM-216 0h8v8h-8zM-208 16h8v8h-8zM-200 32h8v8h-8zM168 40h8v8h-8zM-184 56h8v8h-8zM144 64h8v8h-8zM88 96h8v8h-8zM-152 104h8v8h-8zM80 104h8v8h-8zM-128 136h8v8h-8zM-120 144h8v8h-8zM-48 160h8v8h-8zM0 168h8v8h-8z"/>
<path fill="#999999" d="M0 -216h8v8h-8zM16 -184h8v8h-8zM40 -152h8v8h-8zM88 -88h8v8h-8zM112 -80h8v8h-8zM136 -72h8v8h-8zM176 -40h8v8h-8zM-224 -16h8v8h-8zM176 24h8v8h-8zM168 48h8v8h-8zM160 56h8v8h-8zM152 64h8v8h-8zM-176 72h8v8h-8zM136 72h8v8h-8zM120 80h8v8h-8zM104 88h8v8h-8zM-160 96h8v8h-8zM72 112h8v8h-8zM64 120h8v8h-8zM-136 128h8v8h-8zM40 144h8v8h-8zM-104 152h8v8h-8zM32 152h8v8h-8zM-56 160h8v8h-8zM24 160h8v8h-8zM-8 168h8v8h-8zM8 168h8v8h-8z"/>
<path fill="#9a9a9a" d="M8 -200h8v8h-8zM56 -128h8v8h-8zM64 -112h8v8h-8zM176 32h8v8h-8zM-192 48h8v8h-8zM144 72h8v8h-8zM128 80h8v8h-8zM-168 88h8v8h-8zM96 96h8v8h-8zM-144 120h8v8h-8zM56 128h8v8h-8zM48 136h8v8h-8zM-64 160h8v8h-8zM-16 168h8v8h-8zM16 168h8v8h-8z"/>
<path fill="#9b9b9b" d="M0 -224h8v8h-8zM24 -176h8v8h-8zM48 -144h8v8h-8zM168 -56h8v8h-8zM184 -16h8v8h-8zM-224 -8h8v8h-8zM184 -8h8v8h-8zM-216 8h8v8h-8zM-208 24h8v8h-8zM176 40h8v8h-8zM168 56h8v8h-8zM160 64h8v8h-8zM152 72h8v8h-8zM136 80h8v8h-8zM112 88h8v8h-8zM-152 112h8v8h-8zM-112 152h8v8h-8zM-72 160h8v8h-8zM32 160h8v8h-8zM24 168h8v8h-8z"/>
<path fill="#9c9c9c" d="M8 -208h8v8h-8zM16 -192h8v8h-8zM32 -168h8v8h-8zM176 -48h8v8h-8zM184 -24h8v8h-8zM184 0h8v8h-8zM184 8h8v8h-8zM-200 40h8v8h-8zM176 48h8v8h-8zM-184 64h8v8h-8zM168 64h8v8h-8zM160 72h8v8h-8zM-176 80h8v8h-8zM144 80h16v8h-16zM120 88h8v8h-8zM-160 104h8v8h-8zM88 104h8v8h-8zM-136 136h8v8h-8zM-128 144h8v8h-8zM40 152h8v8h-8zM-24 168h8v8h-8zM0 176h16v8h-16z"/>
<path fill="#9d9d9d" d="M120 -80h8v8h-8zM144 -72h8v8h-8zM160 -64h8v8h-8zM184 -32h8v8h-8zM184 16h8v8h-8zM184 24h8v8h-8zM176 56h8v8h-8zM160 80h8v8h-8zM128 88h16v8h-16zM-168 96h8v8h-8zM104 96h8v8h-8zM80 112h8v8h-8zM72 120h8v8h-8zM-144 128h8v8h-8zM48 144h8v8h-8zM-80 160h8v8h-8zM32 168h8v8h-8zM16 176h8v8h-8z"/>
<path fill="#9e9e9e" d="M8 -216h8v8h-8zM16 -200h8v8h-8zM24 -184h8v8h-8zM40 -160h8v8h-8zM72 -104h8v8h-8zM80 -96h8v8h-8zM96 -88h8v8h-8zM-224 0h8v8h-8zM-216 16h8v8h-8zM-208 32h8v8h-8zM184 32h8v8h-8zM-192 56h8v8h-8zM168 72h8v8h-8zM144 88h16v8h-16zM96 104h8v8h-8zM-160 112h8v8h-8zM-152 120h8v8h-8zM64 128h8v8h-8zM56 136h8v8h-8zM-120 152h8v8h-8zM40 160h8v8h-8zM-8 176h8v8h-8zM24 176h8v8h-8z"/>
<path fill="#9f9f9f" d="M32 -176h8v8h-8zM56 -136h8v8h-8zM64 -120h8v8h-8zM184 -40h8v8h-8zM184 40h8v8h-8zM176 64h8v8h-8zM-184 72h8v8h-8zM168 80h8v8h-8zM-176 88h8v8h-8zM160 88h8v8h-8zM112 96h8v8h-8zM144 96h16v8h-16zM48 152h8v8h-8zM-88 160h8v8h-8zM-32 168h8v8h-8z"/>
<path fill="#a0a0a0" d="M8 -224h8v8h-8zM48 -152h8v8h-8zM128 -80h8v8h-8zM-224 8h8v8h-8zM-200 48h8v8h-8zM184 48h8v8h-8zM184 56h8v8h-8zM176 72h8v8h-8zM168 88h8v8h-8zM120 96h24v8h-24zM160 96h8v8h-8zM-168 104h8v8h-8zM88 112h8v8h-8zM-136 144h8v8h-8zM40 168h8v8h-8zM-16 176h8v8h-8zM32 176h8v8h-8zM8 184h8v8h-8z"/>
<path fill="#a1a1a1" d="M16 -208h8v8h-8zM24 -192h8v8h-8zM40 -168h8v8h-8zM104 -88h8v8h-8zM152 -72h8v8h-8zM176 -56h8v8h-8zM-216 24h8v8h-8zM-192 64h8v8h-8zM184 64h8v8h-8zM176 80h8v8h-8zM168 96h8v8h-8zM104 104h8v8h-8zM144 104h24v8h-24zM80 120h8v8h-8zM-152 128h8v8h-8zM-144 136h8v8h-8zM56 144h8v8h-8zM-128 152h8v8h-8zM-96 160h8v8h-8zM48 160h8v8h-8zM-40 168h8v8h-8zM0 184h8v8h-8zM16 184h8v8h-8z"/>
<path fill="#a2a2a2" d="M168 -64h8v8h-8zM184 -48h8v8h-8zM192 -16h8v8h-8zM192 -8h8v8h-8zM192 0h8v8h-8zM192 8h8v8h-8zM192 16h8v8h-8zM192 24h8v8h-8zM-208 40h8v8h-8zM184 72h8v8h-8zM-184 80h8v8h-8zM176 88h8v8h-8zM-176 96h8v8h-8zM112 104h8v8h-8zM136 104h8v8h-8zM96 112h8v8h-8zM-160 120h8v8h-8zM72 128h8v8h-8zM64 136h8v8h-8zM-104 160h8v8h-8zM40 176h8v8h-8zM24 184h8v8h-8z"/>
<path fill="#a3a3a3" d="M16 -216h8v8h-8zM24 -200h8v8h-8zM32 -184h8v8h-8zM56 -144h8v8h-8zM64 -128h8v8h-8zM192 -24h8v8h-8zM-224 16h8v8h-8zM192 32h8v8h-8zM192 40h8v8h-8zM192 48h8v8h-8zM184 80h8v8h-8zM176 96h8v8h-8zM120 104h16v8h-16zM168 104h8v8h-8zM-168 112h8v8h-8zM152 112h16v8h-16zM56 152h8v8h-8zM-112 160h8v8h-8zM48 168h8v8h-8zM-8 184h8v8h-8z"/>
<path fill="#a4a4a4" d="M48 -160h8v8h-8zM72 -112h8v8h-8zM88 -96h8v8h-8zM136 -80h8v8h-8zM192 -32h8v8h-8zM-216 32h8v8h-8zM-200 56h8v8h-8zM192 56h8v8h-8zM104 112h8v8h-8zM144 112h8v8h-8zM88 120h8v8h-8zM-48 168h8v8h-8zM-24 176h8v8h-8zM32 184h8v8h-8z"/>
<path fill="#a5a5a5" d="M40 -176h8v8h-8zM112 -88h8v8h-8zM192 64h8v8h-8zM-192 72h8v8h-8zM-184 88h8v8h-8zM184 88h8v8h-8zM-176 104h8v8h-8zM176 104h8v8h-8zM112 112h8v8h-8zM128 112h16v8h-16zM168 112h8v8h-8zM-160 128h8v8h-8zM80 128h8v8h-8zM-152 136h8v8h-8zM72 136h8v8h-8zM-144 144h8v8h-8zM64 144h8v8h-8zM-120 160h8v8h-8zM56 160h8v8h-8zM48 176h8v8h-8z"/>
<path fill="#a6a6a6" d="M16 -224h8v8h-8zM24 -208h8v8h-8zM32 -192h8v8h-8zM160 -72h8v8h-8zM192 -40h8v8h-8zM-224 24h8v8h-8zM-208 48h8v8h-8zM192 72h8v8h-8zM184 96h8v8h-8zM120 112h8v8h-8zM-168 120h8v8h-8zM96 120h8v8h-8zM144 120h24v8h-24zM-136 152h8v8h-8zM56 168h8v8h-8zM-16 184h8v8h-8zM40 184h8v8h-8zM8 192h16v8h-16z"/>
<path fill="#a7a7a7" d="M48 -168h8v8h-8zM56 -152h8v8h-8zM80 -104h8v8h-8zM176 -64h8v8h-8zM184 -56h8v8h-8zM200 16h8v8h-8zM200 24h8v8h-8zM200 32h8v8h-8zM-200 64h8v8h-8zM-192 80h8v8h-8zM192 80h8v8h-8zM-184 96h8v8h-8zM-176 112h8v8h-8zM176 112h8v8h-8zM136 120h8v8h-8zM64 152h8v8h-8zM-56 168h8v8h-8zM-32 176h8v8h-8zM0 192h8v8h-8zM24 192h8v8h-8z"/>
<path fill="#a8a8a8" d="M24 -216h8v8h-8zM32 -200h8v8h-8zM40 -184h8v8h-8zM64 -136h8v8h-8zM120 -88h8v8h-8zM144 -80h8v8h-8zM200 -8h8v8h-8zM200 0h8v8h-8zM200 8h8v8h-8zM-216 40h8v8h-8zM200 40h8v8h-8zM200 48h8v8h-8zM200 56h8v8h-8zM192 88h8v8h-8zM184 104h8v8h-8zM104 120h8v8h-8zM128 120h8v8h-8zM168 120h8v8h-8zM88 128h8v8h-8zM-128 160h8v8h-8zM56 176h8v8h-8zM48 184h8v8h-8zM32 192h8v8h-8z"/>
<path fill="#a9a9a9" d="M72 -120h8v8h-8zM96 -96h8v8h-8zM192 -48h8v8h-8zM200 -24h8v8h-8zM200 -16h8v8h-8zM-208 56h8v8h-8zM200 64h8v8h-8zM112 120h16v8h-16zM152 128h8v8h-8zM-160 136h8v8h-8zM80 136h8v8h-8zM-152 144h8v8h-8zM72 144h8v8h-8zM64 160h8v8h-8zM-64 168h8v8h-8zM-8 192h8v8h-8z"/>
<path fill="#aaaaaa" d="M-224 32h8v8h-8zM-200 72h8v8h-8zM200 72h8v8h-8zM-192 88h8v8h-8zM192 96h8v8h-8zM-184 104h8v8h-8zM184 112h8v8h-8zM176 120h8v8h-8zM-168 128h8v8h-8zM96 128h8v8h-8zM136 128h16v8h-16zM160 128h8v8h-8zM-144 152h8v8h-8zM-72 168h8v8h-8zM64 168h8v8h-8zM40 192h8v8h-8z"/>
<path fill="#ababab" d="M24 -224h8v8h-8zM32 -208h8v8h-8zM40 -192h8v8h-8zM48 -176h8v8h-8zM56 -160h8v8h-8zM64 -144h8v8h-8zM168 -72h8v8h-8zM200 -32h8v8h-8zM-216 48h8v8h-8zM200 80h8v8h-8zM-176 120h8v8h-8zM104 128h8v8h-8zM128 128h8v8h-8zM168 128h8v8h-8zM72 152h8v8h-8zM-80 168h8v8h-8zM-24 184h8v8h-8zM56 184h8v8h-8z"/>
<path fill="#acacac" d="M104 -96h8v8h-8zM128 -88h8v8h-8zM152 -80h8v8h-8zM-208 64h8v8h-8zM112 128h16v8h-16zM88 136h8v8h-8zM80 144h8v8h-8zM-136 160h8v8h-8zM-104 168h24v8h-24zM-40 176h8v8h-8zM64 176h8v8h-8zM48 192h8v8h-8zM8 200h24v8h-24z"/>
<path fill="#adadad" d="M72 -128h8v8h-8zM80 -112h8v8h-8zM88 -104h8v8h-8zM184 -64h8v8h-8zM192 -56h8v8h-8zM200 -40h8v8h-8zM208 16h8v8h-8zM208 24h8v8h-8zM208 32h8v8h-8zM208 40h8v8h-8zM208 48h8v8h-8zM208 56h8v8h-8zM-200 80h8v8h-8zM-192 96h8v8h-8zM-184 112h8v8h-8zM144 136h16v8h-16zM72 160h8v8h-8zM-112 168h8v8h-8zM-16 192h8v8h-8zM32 200h8v8h-8z"/>
<path fill="#aeaeae" d="M32 -216h8v8h-8zM40 -200h8v8h-8zM48 -184h8v8h-8zM56 -168h8v8h-8zM208 0h8v8h-8zM208 8h8v8h-8zM-216 56h8v8h-8zM208 64h8v8h-8zM-168 136h8v8h-8zM96 136h8v8h-8zM128 136h16v8h-16zM160 136h8v8h-8zM-160 144h8v8h-8zM-120 168h8v8h-8zM72 168h8v8h-8zM64 184h8v8h-8zM56 192h8v8h-8zM0 200h8v8h-8z"/>
<path fill="#afafaf" d="M64 -152h8v8h-8zM136 -88h8v8h-8zM208 -16h8v8h-8zM208 -8h8v8h-8zM-208 72h8v8h-8zM-192 104h8v8h-8zM-176 128h8v8h-8zM104 136h24v8h-24zM168 136h8v8h-8zM88 144h8v8h-8zM-152 152h8v8h-8zM80 152h8v8h-8zM40 200h8v8h-8z"/>
<path fill="#b0b0b0" d="M112 -96h8v8h-8zM160 -80h8v8h-8zM176 -72h8v8h-8zM200 -48h8v8h-8zM208 -24h8v8h-8zM-200 88h8v8h-8zM-184 120h8v8h-8zM-144 160h8v8h-8zM80 160h8v8h-8zM-48 176h8v8h-8zM72 176h8v8h-8zM-32 184h8v8h-8z"/>
<path fill="#b1b1b1" d="M32 -224h8v8h-8zM40 -208h8v8h-8zM48 -192h8v8h-8zM56 -176h8v8h-8zM72 -136h8v8h-8zM96 144h8v8h-8zM136 144h24v8h-24zM-128 168h8v8h-8zM64 192h8v8h-8zM-8 200h8v8h-8zM48 200h8v8h-8z"/>
<path fill="#b2b2b2" d="M64 -160h8v8h-8zM80 -120h8v8h-8zM96 -104h8v8h-8zM208 -32h8v8h-8zM216 24h8v8h-8zM216 32h8v8h-8zM-216 64h8v8h-8zM-208 80h8v8h-8zM-200 96h8v8h-8zM-192 112h8v8h-8zM104 144h32v8h-32zM160 144h8v8h-8zM88 152h8v8h-8zM80 168h8v8h-8zM72 184h8v8h-8z"/>
<path fill="#b3b3b3" d="M120 -96h8v8h-8zM144 -88h8v8h-8zM192 -64h8v8h-8zM216 16h8v8h-8zM-176 136h8v8h-8zM-168 144h8v8h-8zM-160 152h8v8h-8zM96 152h8v8h-8zM88 160h8v8h-8zM80 176h8v8h-8zM-24 192h8v8h-8zM56 200h8v8h-8zM16 208h24v8h-24z"/>
<path fill="#b4b4b4" d="M40 -216h8v8h-8zM48 -200h8v8h-8zM72 -144h8v8h-8zM88 -112h8v8h-8zM200 -56h8v8h-8zM208 -40h8v8h-8zM216 0h8v8h-8zM216 8h8v8h-8zM104 152h8v8h-8zM-136 168h8v8h-8zM8 208h8v8h-8zM40 208h8v8h-8z"/>
<path fill="#b5b5b5" d="M56 -184h8v8h-8zM64 -168h8v8h-8zM168 -80h8v8h-8zM184 -72h8v8h-8zM216 -8h8v8h-8zM112 152h40v8h-40zM-152 160h8v8h-8zM96 160h8v8h-8zM88 168h8v8h-8zM-56 176h8v8h-8zM-40 184h8v8h-8zM80 184h8v8h-8zM72 192h8v8h-8zM-16 200h8v8h-8z"/>
<path fill="#b6b6b6" d="M80 -128h8v8h-8zM104 -104h8v8h-8zM216 -16h8v8h-8zM152 152h8v8h-8zM88 176h8v8h-8zM64 200h8v8h-8zM0 208h8v8h-8zM48 208h8v8h-8z"/>
<path fill="#b7b7b7" d="M48 -208h8v8h-8zM72 -152h8v8h-8zM128 -96h8v8h-8zM152 -88h8v8h-8zM208 -48h8v8h-8zM216 -24h8v8h-8zM104 160h8v8h-8zM96 168h8v8h-8zM-112 176h24v8h-24z"/>
<path fill="#b8b8b8" d="M56 -192h8v8h-8zM112 160h24v8h-24zM-144 168h8v8h-8zM-120 176h8v8h-8zM-88 176h8v8h-8zM-64 176h8v8h-8zM-32 192h8v8h-8zM80 192h8v8h-8zM56 208h8v8h-8z"/>
<path fill="#b9b9b9" d="M64 -176h8v8h-8zM80 -136h8v8h-8zM176 -80h8v8h-8zM216 -32h8v8h-8zM136 160h16v8h-16zM104 168h8v8h-8zM-80 176h16v8h-16zM96 176h8v8h-8zM88 184h8v8h-8zM72 200h8v8h-8zM-8 208h8v8h-8z"/>
<path fill="#bababa" d="M48 -216h8v8h-8zM72 -160h8v8h-8zM88 -120h8v8h-8zM96 -112h8v8h-8zM112 -104h8v8h-8zM192 -72h8v8h-8zM200 -64h8v8h-8zM112 168h8v8h-8zM-128 176h8v8h-8zM-24 200h8v8h-8zM16 216h24v8h-24z"/>
<path fill="#bbbbbb" d="M56 -200h8v8h-8zM136 -96h8v8h-8zM120 168h8v8h-8zM104 176h8v8h-8zM-48 184h8v8h-8zM96 184h8v8h-8zM88 192h8v8h-8zM64 208h8v8h-8z"/>
<path fill="#bcbcbc" d="M64 -184h8v8h-8zM160 -88h8v8h-8zM208 -56h8v8h-8zM216 -40h8v8h-8zM128 168h8v8h-8zM80 200h8v8h-8zM8 216h8v8h-8z"/>
<path fill="#bdbdbd" d="M72 -168h8v8h-8zM80 -144h8v8h-8zM136 168h8v8h-8zM112 176h8v8h-8zM-16 208h8v8h-8z"/>
<path fill="#bebebe" d="M56 -208h8v8h-8zM88 -128h8v8h-8zM120 -104h8v8h-8zM184 -80h8v8h-8zM120 176h8v8h-8zM104 184h8v8h-8zM-40 192h8v8h-8zM96 192h8v8h-8zM0 216h8v8h-8z"/>
<path fill="#bfbfbf" d="M64 -192h8v8h-8zM104 -112h8v8h-8zM144 -96h8v8h-8z"/>
<path fill="#c0c0c0" d="M56 -216h8v8h-8zM72 -176h8v8h-8zM80 -152h8v8h-8zM96 -120h8v8h-8zM168 -88h8v8h-8zM-56 184h8v8h-8zM112 184h8v8h-8zM-32 200h8v8h-8z"/>
<path fill="#c1c1c1" d="M64 -200h8v8h-8zM200 -72h8v8h-8zM208 -64h8v8h-8zM-8 216h8v8h-8z"/>
<path fill="#c2c2c2" d="M88 -136h8v8h-8zM128 -104h8v8h-8zM-120 184h24v8h-24zM-24 208h8v8h-8z"/>
<path fill="#c3c3c3" d="M72 -184h8v8h-8zM80 -160h8v8h-8zM112 -112h8v8h-8zM152 -96h8v8h-8zM192 -80h8v8h-8zM-96 184h8v8h-8z"/>
<path fill="#c4c4c4" d="M64 -208h8v8h-8zM176 -88h8v8h-8zM-88 184h8v8h-8zM-64 184h8v8h-8zM-48 192h8v8h-8z"/>
<path fill="#c5c5c5" d="M80 -168h8v8h-8zM88 -144h8v8h-8zM96 -128h8v8h-8zM-80 184h16v8h-16zM-16 216h8v8h-8z"/>
<path fill="#c6c6c6" d="M72 -192h8v8h-8zM104 -120h8v8h-8zM136 -104h8v8h-8zM-40 200h8v8h-8z"/>
<path fill="#c7c7c7" d="M64 -216h8v8h-8zM160 -96h8v8h-8zM208 -72h8v8h-8z"/>
<path fill="#c8c8c8" d="M80 -176h8v8h-8zM88 -152h8v8h-8zM120 -112h8v8h-8zM184 -88h8v8h-8zM-32 208h8v8h-8z"/>
<path fill="#c9c9c9" d="M72 -200h8v8h-8zM96 -136h8v8h-8zM200 -80h8v8h-8zM-56 192h8v8h-8z"/>
<path fill="#cacaca" d="M-24 216h8v8h-8z"/>
<path fill="#cbcbcb" d="M72 -208h8v8h-8zM80 -184h8v8h-8zM88 -160h8v8h-8zM104 -128h8v8h-8zM112 -120h8v8h-8zM144 -104h8v8h-8zM168 -96h8v8h-8z"/>
<path fill="#cccccc" d="M128 -112h8v8h-8zM-104 192h8v8h-8zM-48 200h8v8h-8z"/>
<path fill="#cdcdcd" d="M80 -192h8v8h-8zM88 -168h8v8h-8zM96 -144h8v8h-8zM192 -88h8v8h-8zM-96 192h8v8h-8zM-64 192h8v8h-8z"/>
<path fill="#cecece" d="M-88 192h8v8h-8zM-40 208h8v8h-8z"/>
<path fill="#cfcfcf" d="M152 -104h8v8h-8zM176 -96h8v8h-8zM-80 192h16v8h-16zM-32 216h8v8h-8z"/>
<path fill="#d0d0d0" d="M80 -200h8v8h-8zM88 -176h8v8h-8zM96 -152h8v8h-8zM104 -136h8v8h-8zM120 -120h8v8h-8z"/>
<path fill="#d1d1d1" d="M112 -128h8v8h-8zM136 -112h8v8h-8zM-56 200h8v8h-8z"/>
<path fill="#d2d2d2" d="M184 -96h8v8h-8zM200 -88h8v8h-8z"/>
<path fill="#d3d3d3" d="M80 -208h8v8h-8zM88 -184h8v8h-8zM96 -160h8v8h-8zM160 -104h8v8h-8zM-48 208h8v8h-8z"/>
<path fill="#d4d4d4" d="M104 -144h8v8h-8z"/>
<path fill="#d5d5d5" d="M88 -192h8v8h-8zM96 -168h8v8h-8zM128 -120h8v8h-8zM144 -112h8v8h-8zM-64 200h8v8h-8zM-40 216h8v8h-8z"/>
<path fill="#d6d6d6" d="M112 -136h8v8h-8zM168 -104h8v8h-8zM192 -96h8v8h-8z"/>
<path fill="#d7d7d7" d="M104 -152h8v8h-8zM120 -128h8v8h-8zM-88 200h24v8h-24z"/>
<path fill="#d8d8d8" d="M88 -200h8v8h-8zM96 -176h8v8h-8zM-56 208h8v8h-8z"/>
<path fill="#d9d9d9" d="M176 -104h8v8h-8z"/>
<path fill="#dadada" d="M96 -184h8v8h-8zM104 -160h8v8h-8zM136 -120h8v8h-8zM152 -112h8v8h-8z"/>
<path fill="#dbdbdb" d="M112 -144h8v8h-8z"/>
<path fill="#dcdcdc" d="M120 -136h8v8h-8zM128 -128h8v8h-8zM-64 208h8v8h-8z"/>
<path fill="#dddddd" d="M96 -192h8v8h-8zM104 -168h8v8h-8zM184 -104h8v8h-8z"/>
<path fill="#dedede" d="M112 -152h8v8h-8zM160 -112h8v8h-8zM-72 208h8v8h-8z"/>
<path fill="#dfdfdf" d="M96 -200h8v8h-8zM104 -176h8v8h-8zM144 -120h8v8h-8z"/>
<path fill="#e0e0e0" d="M192 -104h8v8h-8z"/>
<path fill="#e1e1e1" d="M112 -160h8v8h-8zM120 -144h8v8h-8zM136 -128h8v8h-8zM168 -112h8v8h-8z"/>
<path fill="#e2e2e2" d="M104 -184h8v8h-8zM128 -136h8v8h-8z"/>
<path fill="#e4e4e4" d="M104 -192h8v8h-8zM112 -168h8v8h-8zM152 -120h8v8h-8zM176 -112h8v8h-8z"/>
<path fill="#e5e5e5" d="M120 -152h8v8h-8z"/>
<path fill="#e7e7e7" d="M112 -176h8v8h-8zM128 -144h8v8h-8zM144 -128h8v8h-8zM184 -112h8v8h-8z"/>
<path fill="#e8e8e8" d="M120 -160h8v8h-8zM136 -136h8v8h-8zM160 -120h8v8h-8z"/>
<path fill="#e9e9e9" d="M112 -184h8v8h-8z"/>
<path fill="#ebebeb" d="M120 -168h8v8h-8zM128 -152h8v8h-8zM168 -120h8v8h-8z"/>
<path fill="#ececec" d="M112 -192h8v8h-8zM152 -128h8v8h-8z"/>
<path fill="#ededed" d="M136 -144h8v8h-8zM144 -136h8v8h-8zM176 -120h8v8h-8z"/>
<path fill="#eeeeee" d="M120 -176h8v8h-8z"/>
<path fill="#efefef" d="M128 -160h8v8h-8z"/>
<path fill="#f0f0f0" d="M120 -184h8v8h-8zM160 -128h8v8h-8zM184 -120h8v8h-8z"/>
<path fill="#f1f1f1" d="M136 -152h8v8h-8z"/>
<path fill="#f2f2f2" d="M128 -168h8v8h-8zM144 -144h8v8h-8zM152 -136h8v8h-8z"/>
<path fill="#f3f3f3" d="M168 -128h8v8h-8z"/>
<path fill="#f5f5f5" d="M128 -176h8v8h-8zM136 -160h8v8h-8z"/>
<path fill="#f6f6f6" d="M160 -136h8v8h-8zM176 -128h8v8h-8z"/>
<path fill="#f7f7f7" d="M144 -152h8v8h-8zM152 -144h8v8h-8z"/>
<path fill="#f8f8f8" d="M136 -168h8v8h-8z"/>
<path fill="#fafafa" d="M168 -136h8v8h-8z"/>
<path fill="#fbfbfb" d="M136 -176h8v8h-8zM144 -160h8v8h-8z"/>
<path fill="#fcfcfc" d="M152 -152h8v8h-8zM160 -144h8v8h-8z"/>
<path fill="#fefefe" d="M144 -168h8v8h-8z"/>
<path fill="#ffffff" d="M152 -160h8v8h-8zM160 -152h8v8h-8zM168 -144h8v8h-8z"/>
</g>
<path d="M788.3,1194.6 786.3,1194.8 782.3,1195.4 778.3,1196.1 775.1,1196.6 772.3,1197 768.3,1197.5 764.3,1197.8 760.3,1197.9 756.3,1197.9 752.3,1198.1 748.3,1198.5 746.3,1198.8 742.3,1199.5 738.3,1200.6 736.3,1201.2 732.6,1202.6 730.3,1203.5 727.7,1204.6 724.3,1206.1 722.3,1207.1 719.3,1208.6 716.3,1210.2 714.3,1211.4 712.3,1212.6 709.2,1214.6 706.5,1216.6 704.3,1218.3 702.3,1220.1 700.3,1222.1 698.3,1224.2 696.4,1226.6 695,1228.6 693.7,1230.6 692.3,1233.4 691,1236.6 690.3,1238.7 689.4,1242.6 689.1,1246.6 689.2,1250.6 689.7,1254.6 690.3,1257.3 691.3,1260.6 692.3,1263.4 693.7,1266.6 694.7,1268.6 696.3,1271.4 698.3,1274.6 699.7,1276.6 701.2,1278.6 702.8,1280.6 704.4,1282.6 706.3,1284.7 708.3,1286.7 710.3,1288.6 712.6,1290.6 715.2,1292.6 718.3,1294.5 720.3,1295.4 723.4,1296.6 726.3,1297.4 730.3,1298.1 734.3,1298.5 738.3,1298.4 742.3,1298 746.3,1297.3 749.4,1296.6 752.3,1295.8 755.9,1294.6 758.3,1293.7 761.3,1292.6 764.3,1291.4 766.4,1290.6 770.3,1289.2 772.3,1288.4 776.3,1287 778.3,1286.2 782.3,1284.7 784.3,1283.9 787.7,1282.6 790.3,1281.6 792.6,1280.6 796.3,1279.1 798.3,1278.3 802.2,1276.6 804.3,1275.7 806.9,1274.6 810.3,1273.1 812.3,1272.2 815.8,1270.6 818.3,1269.4 820.3,1268.4 823.5,1266.6 826.3,1264.9 828.3,1263.6 830.3,1262.1 832.3,1260.6 834.7,1258.6 836.8,1256.6 838.6,1254.6 840.3,1252.6 842.3,1249.7 844,1246.6 844.8,1244.6 845.8,1240.6 846,1236.6 845.5,1232.6 844.3,1228.7 843.5,1226.6 842.3,1224.1 840.4,1220.6 839.1,1218.6 837.8,1216.6 836.3,1214.5 834.3,1211.9 832.3,1209.4 830.3,1207.1 828.3,1205 826.3,1203.1 824.3,1201.4 822.3,1199.8 820.3,1198.4 817.1,1196.6 814.3,1195.5 811,1194.6 808.3,1194.1 804.3,1193.8 800.3,1193.7 796.3,1193.8 792.3,1194.1 788.3,1194.6M730.3,1143.8 728.3,1145.4 726.3,1147.8 724.5,1150.6 723.5,1152.6 722.3,1154.9 720.5,1158.6 719.6,1160.6 718.3,1163.3 716.6,1166.6 715.5,1168.6 714.3,1170.6 712.3,1173.8 710.4,1176.6 708.9,1178.6 707.2,1180.6 705.5,1182.6 703.7,1184.6 701.7,1186.6 699.7,1188.6 697.7,1190.6 695.5,1192.6 693.4,1194.6 691.3,1196.6 689.2,1198.6 687.1,1200.6 685,1202.6 682.9,1204.6 681,1206.6 679,1208.6 677.2,1210.6 675.5,1212.6 673.8,1214.6 672.3,1216.7 670.3,1219.7 668.6,1222.6 667.6,1224.6 666.3,1227.5 665.2,1230.6 664.3,1234.2 663.8,1236.6 663.4,1240.6 663.3,1244.6 663.6,1248.6 664.2,1252.6 664.6,1254.6 665.6,1258.6 666.3,1260.7 667.7,1264.6 668.6,1266.6 670.3,1270.3 671.5,1272.6 672.6,1274.6 674.3,1277.5 676.2,1280.6 677.5,1282.6 678.9,1284.6 680.3,1286.7 682.3,1289.5 684.3,1292.3 686.1,1294.6 687.6,1296.6 689.2,1298.6 690.8,1300.6 692.5,1302.6 694.3,1304.6 696.3,1306.7 698.3,1308.7 700.3,1310.6 702.5,1312.6 704.9,1314.6 707.5,1316.6 710.2,1318.6 712.3,1320.1 714.3,1321.4 716.3,1322.7 719.5,1324.6 722.3,1326.1 724.3,1327.1 727.5,1328.6 730.3,1329.8 732.8,1330.6 736.3,1331.6 740.3,1332.3 743.3,1332.6 746.3,1332.6 748.3,1332.5 752.3,1331.9 756.3,1331 758.3,1330.4 762.3,1329.1 764.3,1328.3 768.3,1326.8 770.3,1326.1 774.2,1324.6 776.3,1323.8 779.6,1322.6 782.3,1321.6 784.9,1320.6 788.3,1319.3 790.3,1318.5 794.3,1316.9 796.3,1316.1 799.9,1314.6 802.3,1313.6 804.5,1312.6 808.3,1310.9 810.3,1310 813.3,1308.6 816.3,1307.2 818.3,1306.3 822,1304.6 824.3,1303.5 826.3,1302.6 830.3,1300.7 832.3,1299.7 834.5,1298.6 838.3,1296.6 840.3,1295.5 842.3,1294.3 845.2,1292.6 848.3,1290.7 850.3,1289.4 852.3,1288.1 854.6,1286.6 857.8,1284.6 860.3,1283 862.3,1281.8 864.4,1280.6 867.8,1278.6 870.3,1277.1 872.3,1275.9 874.5,1274.6 877.8,1272.6 880.3,1271 882.3,1269.8 884.3,1268.5 887.1,1266.6 890,1264.6 892.3,1263 894.3,1261.5 896.3,1260 898.3,1258.5 900.6,1256.6 903,1254.6 905.2,1252.6 907.2,1250.6 909.1,1248.6 910.7,1246.6 912.3,1244.2 914,1240.6 914.5,1238.6 914.8,1234.6 914.3,1230.6 913.7,1228.6 912.3,1225.6 910.4,1222.6 908.7,1220.6 906.6,1218.6 904.3,1216.7 902.3,1215.3 900.3,1214.1 897.6,1212.6 894.3,1211 892.3,1210.1 888.8,1208.6 886.3,1207.5 884.1,1206.6 880.3,1205 878.3,1204 875.3,1202.6 872.3,1201.1 870.3,1199.9 868.2,1198.6 865.4,1196.6 863.1,1194.6 861.4,1192.6 859.9,1190.6 858.3,1188.4 856.3,1185.5 854.4,1182.6 853,1180.6 851.6,1178.6 850.2,1176.6 848.3,1174.2 846.3,1171.8 844.3,1169.8 842.3,1168 840.3,1166.4 837.3,1164.6 834.3,1163.2 832.3,1162.4 828.3,1161.2 825.3,1160.6 822.3,1160.1 818.3,1159.6 814.3,1159.3 810.3,1159 806.3,1158.8 802.3,1158.6 800.3,1158.5 796.3,1158.4 792.3,1158.3 788.3,1158.1 784.3,1157.9 780.3,1157.5 776.3,1157 774.1,1156.6 770.3,1155.7 766.5,1154.6 764.3,1153.8 761.4,1152.6 758.3,1151.2 756.3,1150.3 752.9,1148.6 750.3,1147.4 748.3,1146.4 744.3,1144.7 742.3,1144 738.3,1142.9 734.3,1142.6 730.3,1143.8M722.9,1036.6 722.4,1040.6 722.6,1044.6 723.5,1048.6 724.3,1050.7 726.3,1054.6 727.7,1056.6 729.4,1058.6 731.5,1060.6 734.1,1062.6 736.3,1063.9 738.3,1064.9 742.3,1066.4 744.3,1067 748.3,1067.7 752.3,1068 756.3,1067.7 760.3,1066.9 762.3,1066.1 765.2,1064.6 767.9,1062.6 769.7,1060.6 771.1,1058.6 772.3,1056.1 773.3,1052.6 773.6,1048.6 773.2,1044.6 772.3,1041 771.4,1038.6M724.3,1110.3 722.3,1110.9 718.6,1112.6 716.3,1114 714.3,1115.6 712.3,1117.4 710.3,1119.6 708.3,1122.2 706.7,1124.6 705.4,1126.6 704.3,1128.6 702.3,1132.4 701.2,1134.6 700.2,1136.6 698.3,1140.3 696.9,1142.6 695.7,1144.6 694.3,1146.6 692.3,1149.3 690.3,1151.7 688.3,1154 686.3,1156.2 684.3,1158.3 682.3,1160.3 680.3,1162.2 678.3,1164.1 676.3,1165.9 674.3,1167.7 672.3,1169.4 670.3,1171 668.3,1172.6 665.6,1174.6 662.6,1176.6 660.3,1178 658.3,1179.2 655.6,1180.6 652.3,1182.3 650.3,1183.2 647.6,1184.6 644.3,1186.4 642.3,1187.7 640.3,1189.1 638.3,1190.8 636.3,1193 634.3,1195.8 632.8,1198.6 632,1200.6 630.8,1204.6 630.3,1206.7 629.7,1210.6 629.2,1214.6 629.1,1218.6 629.1,1222.6 629.3,1226.6 629.6,1230.6 630.1,1234.6 630.4,1236.6 631.1,1240.6 632,1244.6 632.4,1246.6 633.5,1250.6 634.3,1253.2 635.4,1256.6 636.3,1259 637.7,1262.6 638.6,1264.6 640.3,1268.3 641.4,1270.6 642.5,1272.6 644.3,1275.9 645.9,1278.6 647.1,1280.6 648.4,1282.6 650.3,1285.5 652.3,1288.4 653.9,1290.6 655.4,1292.6 656.9,1294.6 658.4,1296.6 660.3,1299.2 662.3,1301.8 664.3,1304.6 665.8,1306.6 667.2,1308.6 668.6,1310.6 670.3,1312.9 672.3,1315.6 674.3,1318.2 676.3,1320.6 678,1322.6 679.8,1324.6 681.6,1326.6 683.6,1328.6 685.6,1330.6 687.7,1332.6 689.8,1334.6 691.9,1336.6 694,1338.6 696,1340.6 697.9,1342.6 699.7,1344.6 701.4,1346.6 703.1,1348.6 704.6,1350.6 706.3,1352.9 708.3,1355.7 710.3,1358.5 711.8,1360.6 713.3,1362.6 714.8,1364.6 716.4,1366.6 718.3,1368.8 720.3,1371 722.3,1373.1 724.3,1375 726.3,1376.7 728.6,1378.6 731.3,1380.6 734.2,1382.6 736.3,1384 738.3,1385.2 740.8,1386.6 744.3,1388.4 746.3,1389.3 749.7,1390.6 752.3,1391.3 756.3,1391.6 760.3,1391.2 763.2,1390.6 766.3,1389.8 770.2,1388.6 772.3,1387.8 775.5,1386.6 778.3,1385.3 780.3,1384.4 783.8,1382.6 786.3,1381.2 788.3,1380 790.7,1378.6 793.8,1376.6 796.3,1375 798.3,1373.7 800.3,1372.5 803.3,1370.6 806.3,1368.9 808.3,1367.8 810.5,1366.6 814.3,1364.7 816.3,1363.8 819,1362.6 822.3,1361.2 824.3,1360.4 828.3,1358.8 830.3,1358 833.9,1356.6 836.3,1355.6 838.9,1354.6 842.3,1353.2 844.3,1352.3 848,1350.6 850.3,1349.5 852.3,1348.4 855.5,1346.6 858.3,1344.8 860.3,1343.3 862.3,1341.5 864.3,1339.6 866.3,1337.6 868.3,1335.5 870.3,1333.3 872.3,1331.2 874.3,1329 876.3,1326.9 878.3,1324.8 880.3,1322.8 882.3,1320.8 884.3,1319 886.3,1317.1 888.3,1315.4 890.3,1313.7 892.3,1312.1 894.3,1310.5 896.8,1308.6 899.5,1306.6 902.3,1304.6 904.3,1303.2 906.3,1301.8 908.3,1300.4 911,1298.6 914,1296.6 916.3,1295.2 918.3,1293.9 920.5,1292.6 923.7,1290.6 926.3,1289 928.3,1287.7 930.3,1286.4 932.9,1284.6 935.7,1282.6 938.3,1280.6 940.3,1279.1 942.3,1277.4 944.3,1275.7 946.3,1273.9 948.3,1272 950.3,1270 952.3,1267.9 954.3,1265.5 956.3,1263 958,1260.6 959.2,1258.6 960.4,1256.6 962.3,1253 963.4,1250.6 964.3,1248.2 965.5,1244.6 966.3,1241.7 967,1238.6 967.6,1234.6 967.9,1230.6 967.9,1226.6 967.5,1222.6 966.6,1218.6 966.1,1216.6 964.5,1212.6 963.6,1210.6 962.3,1208.4 960.3,1205.5 958.3,1203 956.3,1201 954.3,1199.2 952.3,1197.6 950.3,1196.3 947.6,1194.6 944.3,1192.8 942.3,1191.8 939.9,1190.6 936.3,1189 934.3,1188.1 930.7,1186.6 928.3,1185.7 925.5,1184.6 922.3,1183.4 919.9,1182.6 916.3,1181.4 913.9,1180.6 910.3,1179.5 907.6,1178.6 904.3,1177.5 901.8,1176.6 898.3,1175.2 896.3,1174.3 893,1172.6 890.3,1171 888.3,1169.6 886.3,1168.1 884.3,1166.3 882.3,1164.4 880.3,1162.1 878.3,1159.6 876.3,1156.8 874.8,1154.6 873.6,1152.6 872.3,1150.5 870.3,1147.1 868.7,1144.6 867.4,1142.6 866.1,1140.6 864.3,1138.3 862.3,1135.9 860.3,1133.7 858.3,1131.8 856.3,1130 854.3,1128.3 852.1,1126.6 849.2,1124.6 846.3,1122.8 844.3,1121.7 842.2,1120.6 838.3,1118.8 836.3,1118 832.5,1116.6 830.3,1115.9 826.3,1114.9 824.3,1114.4 820.3,1113.7 816.3,1113.2 812.3,1112.9 808.3,1112.7 804.3,1112.7 800.3,1112.9 796.3,1113.1 792.3,1113.5 788.3,1113.9 784.3,1114.2 780.3,1114.5 778.3,1114.7 774.3,1114.8 770.3,1114.8 766.3,1114.7 764.2,1114.6 760.3,1114.2 756.3,1113.7 752.3,1113 750,1112.6 746.3,1111.8 742.3,1110.9 740.3,1110.5 736.3,1109.8 732.3,1109.4 728.3,1109.5 724.3,1110.3M613.6,1036.6 612.3,1039.6 611,1042.6 610.2,1044.6 608.6,1048.6M608.3,1284.2 609.8,1286.6 611.1,1288.6 612.4,1290.6 614.3,1293.6 616.3,1296.6 617.6,1298.6 618.9,1300.6 620.3,1302.7 622.3,1305.8 624,1308.6 625.2,1310.6 626.4,1312.6 628.3,1316.1 629.7,1318.6 630.8,1320.6 632.3,1323.4 634,1326.6 635,1328.6 636.3,1331.1 638.1,1334.6 639.1,1336.6 640.3,1338.9 642.2,1342.6 643.2,1344.6 644.3,1346.8 646.3,1350.6 647.3,1352.6 648.4,1354.6 650.3,1358 651.9,1360.6 653.2,1362.6 654.8,1364.6 656.4,1366.6 658.3,1368.8 660.3,1371.1 662.3,1373.3 664.3,1375.5 666.3,1377.8 668.3,1380 670.3,1382.2 672.3,1384.3 674.3,1386.5 676.3,1388.5 678.3,1390.5 680.3,1392.4 682.3,1394.2 684.3,1395.9 686.3,1397.5 688.3,1399 690.6,1400.6 694,1402.6 696.3,1403.8 698.3,1404.6 702.3,1405.8 705.9,1406.6 708.3,1407 712.3,1407.6 716.3,1408.1 720.3,1408.6 722.3,1408.8 726.3,1409.3 730.3,1409.7 734.3,1410.2 738.2,1410.6 740.3,1410.8 744.3,1411.2 748.3,1411.6 752.3,1411.9 756.3,1412.3 758.6,1412.6 762.3,1413.1 766.3,1413.7 770.3,1414.4 772.3,1414.8 776.3,1415.7 779.7,1416.6 782.3,1417.4 785.9,1418.6 788.3,1419.5 791,1420.6 794.3,1422.1 796.3,1423.1 799.3,1424.6 802.3,1426.3 804.3,1427.4 806.4,1428.6 809.9,1430.6 812.3,1431.9 814.3,1432.8 818.3,1434.1 820.9,1434.6 824.3,1435 828.3,1435 832.3,1434.8 834.3,1434.6 838.3,1433.9 842.3,1432.9 844.3,1432.3 848.3,1430.8 850.3,1429.8 852.7,1428.6 856,1426.6 858.3,1424.9 860.3,1423.1 862.3,1421.1 864.3,1418.7 865.7,1416.6 867,1414.6 868.3,1412.2 870.1,1408.6 871,1406.6 872.3,1403.8 873.8,1400.6 874.8,1398.6 876.3,1395.7 878.2,1392.6 879.5,1390.6 881,1388.6 882.6,1386.6 884.3,1384.6 886.3,1382.4 888.3,1380.3 890.3,1378.4 892.3,1376.5 894.5,1374.6 896.8,1372.6 899.3,1370.6 902,1368.6 904.3,1366.9 906.3,1365.5 908.3,1364.2 910.9,1362.6 914.2,1360.6 916.3,1359.4 918.3,1358.3 921.7,1356.6 924.3,1355.4 926.3,1354.5 930.3,1353 932.3,1352.3 936.3,1351.2 939.5,1350.6 942.3,1350.5 944.6,1350.6 948.3,1351.2 952.3,1352.2 954.3,1352.8 958.3,1354.3 960.3,1355 964.3,1356.5 966.3,1357.2 970.3,1358.3 972.3,1358.7 976.3,1358.7 978.3,1358.1 981.3,1356.6 984,1354.6 986.2,1352.6 988,1350.6 989.6,1348.6 991,1346.6 992.3,1344.6 994.3,1341.3 995.8,1338.6 996.8,1336.6 998.3,1333.4 999.6,1330.6 1000.4,1328.6 1002,1324.6 1002.8,1322.6 1004.2,1318.6 1004.8,1316.6 1006.1,1312.6 1006.6,1310.6 1007.7,1306.6 1008.3,1303.5 1008.8,1300.6 1009.4,1296.6 1010,1292.6 1010.3,1290.1 1010.7,1286.6 1011.1,1282.6 1011.4,1278.6 1011.7,1274.6 1011.9,1270.6 1012.1,1266.6 1012.2,1262.6 1012.3,1258.6 1012.3,1254.6 1012.3,1250.6 1012.2,1246.6 1012.2,1242.6 1012.1,1238.6 1012.1,1234.6 1011.9,1230.6 1011.6,1226.6 1011.1,1222.6 1010.4,1218.6 1010,1216.6 1009,1212.6 1008.3,1210.4 1006.9,1206.6 1006.1,1204.6 1004.3,1201.1 1002.9,1198.6 1001.5,1196.6 1000.1,1194.6 998.3,1192.5 996.3,1190.4 994.3,1188.5 992,1186.6 989.3,1184.6 986.3,1182.6 984.3,1181.3 982.3,1180.2 979.5,1178.6 976.3,1177 974.3,1176 971.3,1174.6 968.3,1173.3 966.3,1172.5 962.3,1171 960.3,1170.2 956.3,1168.8 954.3,1168.1 950.3,1166.8 948.3,1166.2 944.3,1165 942.3,1164.4 938.3,1163.2 936.3,1162.6 932.3,1161.4 929.6,1160.6 926.3,1159.6 923,1158.6 920.3,1157.7 916.8,1156.6 914.3,1155.7 911.4,1154.6 908.3,1153.3 906.3,1152.3 903.2,1150.6 900.3,1148.7 898.3,1147 896.3,1145 894.4,1142.6 893,1140.6 891.8,1138.6 890.3,1135.9 888.6,1132.6 887.7,1130.6 886.3,1127.7 884.9,1124.6 883.9,1122.6 882.3,1119 881.2,1116.6 880.3,1114.6 878.4,1110.6 877.4,1108.6 876.3,1106.2 874.5,1102.6 873.5,1100.6 872.3,1098.4 870.3,1094.9 869,1092.6 867.8,1090.6 866.3,1088.2 864.3,1084.9 862.9,1082.6 861.6,1080.6 860.3,1078.5 858.3,1075.3 856.6,1072.6 855.4,1070.6 854.2,1068.6 852.3,1065.5 850.6,1062.6 849.4,1060.6 848.3,1058.6 846.3,1055 845,1052.6 843.9,1050.6 842.3,1047.4 840.9,1044.6 839.9,1042.6 838.3,1039.4 837,1036.6M1022.3,1173 1020.3,1171.3 1018.3,1169.8 1016.3,1168.4 1013.4,1166.6 1010.3,1164.8 1008.3,1163.7 1006,1162.6 1002.3,1160.9 1000.3,1160.1 996.6,1158.6 994.3,1157.7 991.1,1156.6 988.3,1155.6 985.3,1154.6 982.3,1153.6 979.2,1152.6 976.3,1151.6 973.2,1150.6 970.3,1149.6 967.4,1148.6 964.3,1147.5 961.8,1146.6 958.3,1145.3 956.3,1144.5 952.3,1142.9 950.3,1142.1 946.7,1140.6 944.3,1139.6 942.1,1138.6 938.3,1136.8 936.3,1135.8 934,1134.6 930.5,1132.6 928.3,1131.2 926.3,1129.8 924.3,1128.3 922.3,1126.6 920.2,1124.6 918.3,1122.5 916.3,1119.8 914.3,1116.8 913.1,1114.6 912,1112.6 910.3,1108.9 909.3,1106.6 908.3,1104.2 906.9,1100.6 906.2,1098.6 904.8,1094.6 904.1,1092.6 902.7,1088.6 902,1086.6 900.6,1082.6 899.9,1080.6 898.5,1076.6 897.8,1074.6 896.4,1070.6 895.7,1068.6 894.3,1064.7 893.6,1062.6 892.3,1059.2 891.3,1056.6 890.3,1053.8 889.1,1050.6 888.3,1048.6 886.7,1044.6 885.9,1042.6 884.3,1038.6 883.5,1036.6M608.3,1372.1 610,1374.6 611.3,1376.6 612.8,1378.6 614.3,1380.7 616.3,1383.4 618.3,1385.9 620.3,1388.4 622.2,1390.6 623.9,1392.6 625.7,1394.6 627.6,1396.6 629.6,1398.6 631.6,1400.6 633.7,1402.6 635.9,1404.6 638.2,1406.6 640.3,1408.4 642.3,1410 644.3,1411.5 646.3,1413 648.5,1414.6 651.4,1416.6 654.3,1418.5 656.3,1419.7 658.3,1420.9 661.4,1422.6 664.3,1424.1 666.3,1425.1 669.6,1426.6 672.3,1427.7 674.6,1428.6 678.3,1429.9 680.5,1430.6 684.3,1431.6 688.3,1432.6 690.3,1432.9 694.3,1433.6 698.3,1434 702.3,1434.3 706.3,1434.5 710.3,1434.5 714.3,1434.4 718.3,1434.2 722.3,1433.9 726.3,1433.6 730.3,1433.2 734.3,1432.8 736.3,1432.6 740.3,1432.2 744.3,1432 748.3,1431.8 752.3,1432 755.4,1432.6 758.3,1433.6 760.6,1434.6 764.3,1436.6 766.3,1437.8 768.3,1439 770.6,1440.6 773.4,1442.6 776.1,1444.6 778.3,1446.3 780.3,1447.8 782.3,1449.4M921.8,1450.6 924.3,1449 926.3,1447.8 928.3,1446.6 931.6,1444.6 934.3,1443.1 936.3,1442 938.9,1440.6 942.3,1438.9 944.3,1438 947.4,1436.6 950.3,1435.4 952.3,1434.6 956.3,1433 958.3,1432.2 962.3,1430.8 964.3,1430 968.2,1428.6 970.3,1427.8 973.5,1426.6 976.3,1425.5 978.5,1424.6 982.3,1423 984.3,1422.2 987.7,1420.6 990.3,1419.4 992.3,1418.3 995.6,1416.6 998.3,1415.1 1000.3,1413.9 1002.4,1412.6 1005.5,1410.6 1008.3,1408.7 1010.3,1407.2 1012.3,1405.7 1014.3,1404.1 1016.3,1402.5 1018.4,1400.6 1020.6,1398.6M1022.3,1144 1019.2,1142.6 1016.3,1141.3 1014.3,1140.5 1010.3,1139 1008.3,1138.3 1004.3,1137 1002.3,1136.3 998.3,1135.1 996.3,1134.6 992.3,1133.4 989.3,1132.6 986.3,1131.7 982.5,1130.6 980.3,1129.9 976.9,1128.6 974.3,1127.4 972.3,1126.4 969.1,1124.6 966.3,1122.9 964.3,1121.6 962.3,1120.2 960.2,1118.6 957.6,1116.6 955.3,1114.6 953.1,1112.6 951.1,1110.6 949.2,1108.6 947.5,1106.6 945.9,1104.6 944.3,1102.5 942.3,1099.5 940.5,1096.6 939.4,1094.6 938.3,1092.5 936.4,1088.6 935.5,1086.6 934.3,1083.6 933.1,1080.6 932.3,1078.5 930.9,1074.6 930.2,1072.6 928.8,1068.6 928.2,1066.6 926.9,1062.6 926.2,1060.6 924.9,1056.6 924.3,1054.6 923,1050.6 922.3,1048.4 921.1,1044.6 920.3,1042.2 919.1,1038.6M608.3,1420.8 610.4,1422.6 612.8,1424.6 615.2,1426.6 617.8,1428.6 620.3,1430.5 622.3,1431.9 624.3,1433.3 626.3,1434.7 629.2,1436.6 632.3,1438.6 634.3,1439.8 636.3,1441 639.2,1442.6 642.3,1444.2 644.3,1445.3 647,1446.6 650.3,1448.1 652.3,1449 656.2,1450.6M1011.1,1450.6 1014,1448.6 1016.3,1447 1018.3,1445.6 1020.3,1444.1 1022.3,1442.6" fill="none" stroke="#222" stroke-width="1.6" stroke-opacity="0.9"/>
</g>
<circle cx="815.3" cy="1243.6" r="188.0" fill="none" stroke="#000" stroke-width="4.6"/>
<path d="M782.3,1056.1 L810.7,1026.6 M819.9,1026.6 L848.3,1056.1" fill="none" stroke="#000" stroke-width="4.6" stroke-linecap="round"/>
<polyline points="1002.3,1204.6 1005.3,1200.1 1011.3,1197.6 1017.3,1199.6 1021.3,1205.6 1021.8,1223.6 1022.8,1243.6 1023.3,1263.6 1023.3,1278.6 1020.3,1288.6 1015.3,1294.6 1008.3,1297.1 1001.3,1292.6" fill="none" stroke="#000" stroke-width="4.4" stroke-linejoin="round"/>
<polyline points="628.3,1204.6 625.3,1200.1 619.3,1197.6 613.3,1199.6 609.3,1205.6 608.8,1223.6 607.8,1243.6 607.3,1263.6 607.3,1278.6 610.3,1288.6 615.3,1294.6 622.3,1297.1 629.3,1292.6" fill="none" stroke="#000" stroke-width="4.4" stroke-linejoin="round"/>
<path d="M815.3,1051.6h0M755.1,1058.3h0M875.5,1058.3h0M753.5,1096.8h0M877.1,1096.8h0M652.8,1126.2h0M690.4,1137.7h0M730.8,1143.4h0M772.3,1146.7h0M815.3,1147.5h0M858.3,1146.7h0M899.8,1143.4h0M940.2,1137.7h0M977.8,1126.2h0M622.5,1181.1h0M670,1189.3h0M718.5,1192.5h0M766.8,1195.3h0M815.3,1195.8h0M863.8,1195.3h0M912.1,1192.5h0M960.6,1189.3h0M1008.1,1181.1h0M611.8,1243.6h0M663.3,1243.6h0M713.3,1243.6h0M764.3,1243.6h0M815.3,1243.6h0M866.3,1243.6h0M917.3,1243.6h0M967.3,1243.6h0M1018.8,1243.6h0M623,1306.9h0M670,1298.2h0M717.9,1294.3h0M766.5,1292.7h0M815.3,1292.1h0M864.1,1292.7h0M912.7,1294.3h0M960.6,1298.2h0M1007.6,1306.9h0M652.8,1362h0M690.4,1350.5h0M730.9,1344.5h0M772.8,1341.4h0M815.3,1340.6h0M857.8,1341.4h0M899.7,1344.5h0M940.2,1350.5h0M977.8,1362h0M699,1404.9h0M724.9,1396.6h0M753.9,1391.6h0M815.3,1388.1h0M876.7,1391.6h0M905.7,1396.6h0M931.6,1404.9h0M754.7,1429.2h0M815.3,1434.7h0M875.9,1429.2h0" stroke="#000" stroke-width="4.2" stroke-linecap="round"/>
<text x="755.5" y="976.5" class="tt" textLength="110.5" lengthAdjust="spacingAndGlyphs">Right</text>
<circle cx="1449.7" cy="1243.6" r="215" fill="url(#ring)"/>
<g clip-path="url(#disk2)"><g filter="url(#jet)" transform="translate(1449.7,1243.6)">
<path fill="#454545" d="M96 -8h24v8h-24zM88 0h24v8h-24zM80 8h32v8h-32zM88 16h16v8h-16z"/>
<path fill="#464646" d="M96 -16h32v8h-32zM88 -8h8v8h-8zM120 -8h8v8h-8zM80 0h8v8h-8zM112 0h16v8h-16zM112 8h8v8h-8zM80 16h8v8h-8zM104 16h8v8h-8zM80 24h24v8h-24z"/>
<path fill="#474747" d="M104 -24h32v8h-32zM88 -16h8v8h-8zM128 -16h8v8h-8zM80 -8h8v8h-8zM128 -8h8v8h-8zM72 0h8v8h-8zM72 8h8v8h-8zM120 8h8v8h-8zM72 16h8v8h-8zM112 16h8v8h-8zM72 24h8v8h-8zM104 24h8v8h-8zM80 32h24v8h-24z"/>
<path fill="#484848" d="M112 -32h24v8h-24zM96 -24h8v8h-8zM136 -24h8v8h-8zM136 -16h8v8h-8zM72 -8h8v8h-8zM136 -8h8v8h-8zM128 0h8v8h-8zM64 8h8v8h-8zM64 16h8v8h-8zM120 16h8v8h-8zM112 24h8v8h-8zM72 32h8v8h-8zM104 32h8v8h-8zM88 40h16v8h-16z"/>
<path fill="#494949" d="M104 -32h8v8h-8zM136 -32h8v8h-8zM88 -24h8v8h-8zM80 -16h8v8h-8zM64 0h8v8h-8zM136 0h8v8h-8zM128 8h8v8h-8zM64 24h8v8h-8zM112 32h8v8h-8zM80 40h8v8h-8zM104 40h8v8h-8z"/>
<path fill="#4a4a4a" d="M112 -40h32v8h-32zM96 -32h8v8h-8zM144 -32h8v8h-8zM144 -24h8v8h-8zM144 -16h8v8h-8zM64 -8h8v8h-8zM144 -8h8v8h-8zM136 8h8v8h-8zM128 16h8v8h-8zM120 24h8v8h-8zM64 32h8v8h-8zM72 40h8v8h-8zM80 48h24v8h-24z"/>
<path fill="#4b4b4b" d="M104 -40h8v8h-8zM144 -40h8v8h-8zM80 -24h8v8h-8zM72 -16h8v8h-8zM56 0h8v8h-8zM144 0h8v8h-8zM56 8h8v8h-8zM56 16h8v8h-8zM120 32h8v8h-8zM112 40h8v8h-8zM104 48h8v8h-8z"/>
<path fill="#4c4c4c" d="M120 -48h32v8h-32zM96 -40h8v8h-8zM88 -32h8v8h-8zM152 -32h8v8h-8zM152 -24h8v8h-8zM152 -16h8v8h-8zM152 -8h8v8h-8zM144 8h8v8h-8zM136 16h8v8h-8zM56 24h8v8h-8zM128 24h8v8h-8zM64 40h8v8h-8zM72 48h8v8h-8zM112 48h8v8h-8zM88 56h24v8h-24z"/>
<path fill="#4d4d4d" d="M112 -48h8v8h-8zM152 -40h8v8h-8zM72 -24h8v8h-8zM64 -16h8v8h-8zM56 -8h8v8h-8zM152 0h8v8h-8zM56 32h8v8h-8zM120 40h8v8h-8zM80 56h8v8h-8z"/>
<path fill="#4e4e4e" d="M128 -56h24v8h-24zM104 -48h8v8h-8zM152 -48h8v8h-8zM80 -32h8v8h-8zM160 -32h8v8h-8zM160 -24h8v8h-8zM160 -16h8v8h-8zM48 8h8v8h-8zM144 16h8v8h-8zM136 24h8v8h-8zM128 32h8v8h-8zM64 48h8v8h-8zM120 48h8v8h-8zM72 56h8v8h-8zM112 56h8v8h-8zM88 64h24v8h-24z"/>
<path fill="#4f4f4f" d="M120 -56h8v8h-8zM152 -56h8v8h-8zM160 -48h8v8h-8zM88 -40h8v8h-8zM160 -40h8v8h-8zM160 -8h8v8h-8zM48 0h8v8h-8zM152 8h8v8h-8zM48 16h8v8h-8zM56 40h8v8h-8zM128 40h8v8h-8zM80 64h8v8h-8zM112 64h8v8h-8z"/>
<path fill="#505050" d="M144 -64h8v8h-8zM112 -56h8v8h-8zM96 -48h8v8h-8zM64 -24h8v8h-8zM56 -16h8v8h-8zM48 -8h8v8h-8zM160 0h8v8h-8zM48 24h8v8h-8zM144 24h8v8h-8zM136 32h8v8h-8zM64 56h8v8h-8zM120 56h8v8h-8zM96 72h24v8h-24z"/>
<path fill="#515151" d="M136 -64h8v8h-8zM152 -64h8v8h-8zM160 -56h8v8h-8zM80 -40h8v8h-8zM168 -40h8v8h-8zM72 -32h8v8h-8zM168 -32h8v8h-8zM168 -24h8v8h-8zM168 -16h8v8h-8zM160 8h8v8h-8zM152 16h8v8h-8zM48 32h8v8h-8zM56 48h8v8h-8zM128 48h8v8h-8zM72 64h8v8h-8zM120 64h8v8h-8zM88 72h8v8h-8zM104 80h16v8h-16z"/>
<path fill="#525252" d="M128 -64h8v8h-8zM160 -64h8v8h-8zM104 -56h8v8h-8zM168 -56h8v8h-8zM88 -48h8v8h-8zM168 -48h8v8h-8zM168 -8h8v8h-8zM144 32h8v8h-8zM48 40h8v8h-8zM136 40h8v8h-8zM128 56h8v8h-8zM80 72h8v8h-8zM120 72h8v8h-8zM96 80h8v8h-8zM120 80h8v8h-8z"/>
<path fill="#535353" d="M144 -72h24v8h-24zM120 -64h8v8h-8zM168 -64h8v8h-8zM96 -56h8v8h-8zM176 -40h8v8h-8zM176 -32h8v8h-8zM56 -24h8v8h-8zM176 -24h8v8h-8zM48 -16h8v8h-8zM40 0h8v8h-8zM168 0h8v8h-8zM40 8h8v8h-8zM40 16h8v8h-8zM160 16h8v8h-8zM152 24h8v8h-8zM56 56h8v8h-8zM64 64h8v8h-8zM128 64h8v8h-8zM72 72h8v8h-8zM88 80h8v8h-8zM104 88h24v8h-24z"/>
<path fill="#545454" d="M168 -120h8v8h-8zM136 -72h8v8h-8zM168 -72h8v8h-8zM112 -64h8v8h-8zM176 -56h8v8h-8zM176 -48h8v8h-8zM64 -32h8v8h-8zM176 -16h8v8h-8zM176 -8h8v8h-8zM168 8h8v8h-8zM40 24h8v8h-8zM48 48h8v8h-8zM136 48h8v8h-8zM128 72h8v8h-8zM128 80h8v8h-8zM96 88h8v8h-8zM128 88h8v8h-8zM112 96h16v8h-16z"/>
<path fill="#555555" d="M160 -120h8v8h-8zM176 -120h8v8h-8zM160 -112h24v8h-24zM152 -80h24v8h-24zM128 -72h8v8h-8zM176 -64h8v8h-8zM80 -48h8v8h-8zM72 -40h8v8h-8zM40 -8h8v8h-8zM176 0h8v8h-8zM160 24h8v8h-8zM40 32h8v8h-8zM152 32h8v8h-8zM144 40h8v8h-8zM136 56h8v8h-8zM56 64h8v8h-8zM64 72h8v8h-8zM80 80h8v8h-8zM104 96h8v8h-8zM128 96h8v8h-8zM120 104h8v8h-8z"/>
<path fill="#565656" d="M168 -128h8v8h-8zM160 -104h24v8h-24zM160 -96h16v8h-16zM152 -88h24v8h-24zM144 -80h8v8h-8zM176 -80h8v8h-8zM176 -72h8v8h-8zM104 -64h8v8h-8zM88 -56h8v8h-8zM184 -56h8v8h-8zM184 -48h8v8h-8zM184 -40h8v8h-8zM184 -32h8v8h-8zM184 -24h8v8h-8zM184 -16h8v8h-8zM168 16h8v8h-8zM144 48h8v8h-8zM48 56h8v8h-8zM136 64h8v8h-8zM136 72h8v8h-8zM72 80h8v8h-8zM136 80h8v8h-8zM88 88h8v8h-8zM112 104h8v8h-8z"/>
<path fill="#575757" d="M160 -128h8v8h-8zM176 -128h8v8h-8zM184 -120h8v8h-8zM152 -112h8v8h-8zM184 -112h8v8h-8zM184 -104h8v8h-8zM152 -96h8v8h-8zM176 -96h16v8h-16zM176 -88h8v8h-8zM136 -80h8v8h-8zM184 -80h8v8h-8zM120 -72h8v8h-8zM184 -72h8v8h-8zM184 -64h8v8h-8zM48 -24h8v8h-8zM40 -16h8v8h-8zM184 -8h8v8h-8zM176 8h8v8h-8zM168 24h8v8h-8zM160 32h8v8h-8zM40 40h8v8h-8zM152 40h8v8h-8zM136 88h8v8h-8zM96 96h8v8h-8zM104 104h8v8h-8zM128 104h8v8h-8z"/>
<path fill="#585858" d="M152 -120h8v8h-8zM152 -104h8v8h-8zM192 -104h8v8h-8zM192 -96h8v8h-8zM144 -88h8v8h-8zM184 -88h8v8h-8zM192 -56h8v8h-8zM192 -48h8v8h-8zM192 -40h8v8h-8zM56 -32h8v8h-8zM192 -32h8v8h-8zM192 -24h8v8h-8zM32 0h8v8h-8zM184 0h8v8h-8zM32 8h8v8h-8zM176 16h8v8h-8zM40 48h8v8h-8zM152 48h8v8h-8zM144 56h8v8h-8zM48 64h8v8h-8zM144 64h8v8h-8zM56 72h8v8h-8zM144 72h8v8h-8zM64 80h8v8h-8zM80 88h8v8h-8zM136 96h8v8h-8zM112 112h16v8h-16z"/>
<path fill="#595959" d="M168 -136h8v8h-8zM192 -88h8v8h-8zM192 -80h8v8h-8zM112 -72h8v8h-8zM192 -72h8v8h-8zM96 -64h8v8h-8zM192 -64h8v8h-8zM72 -48h8v8h-8zM64 -40h8v8h-8zM192 -16h8v8h-8zM184 8h8v8h-8zM32 16h8v8h-8zM32 24h8v8h-8zM176 24h8v8h-8zM168 32h8v8h-8zM160 40h8v8h-8zM144 80h8v8h-8zM144 88h8v8h-8zM88 96h8v8h-8zM96 104h8v8h-8zM136 104h8v8h-8zM128 112h8v8h-8z"/>
<path fill="#5a5a5a" d="M152 -128h8v8h-8zM144 -96h8v8h-8zM200 -88h8v8h-8zM128 -80h8v8h-8zM200 -80h8v8h-8zM200 -72h8v8h-8zM200 -64h8v8h-8zM80 -56h8v8h-8zM200 -56h8v8h-8zM200 -48h8v8h-8zM200 -40h8v8h-8zM200 -32h8v8h-8zM32 -8h8v8h-8zM192 -8h8v8h-8zM184 16h8v8h-8zM160 48h8v8h-8zM40 56h8v8h-8zM152 56h8v8h-8zM152 64h8v8h-8zM48 72h8v8h-8zM56 80h8v8h-8zM72 88h8v8h-8zM144 96h8v8h-8zM104 112h8v8h-8z"/>
<path fill="#5b5b5b" d="M160 -136h8v8h-8zM144 -104h8v8h-8zM136 -88h8v8h-8zM88 -64h8v8h-8zM40 -24h8v8h-8zM200 -24h8v8h-8zM200 -16h8v8h-8zM192 0h8v8h-8zM32 32h8v8h-8zM176 32h8v8h-8zM168 40h8v8h-8zM152 72h8v8h-8zM152 80h8v8h-8zM64 88h8v8h-8zM80 96h8v8h-8zM136 112h8v8h-8zM112 120h24v8h-24z"/>
<path fill="#5c5c5c" d="M144 -112h8v8h-8zM120 -80h8v8h-8zM104 -72h8v8h-8zM208 -72h8v8h-8zM208 -64h8v8h-8zM208 -56h8v8h-8zM208 -48h8v8h-8zM208 -40h8v8h-8zM48 -32h8v8h-8zM208 -32h8v8h-8zM32 -16h8v8h-8zM200 -8h8v8h-8zM192 8h8v8h-8zM184 24h8v8h-8zM32 40h8v8h-8zM176 40h8v8h-8zM168 48h8v8h-8zM160 56h8v8h-8zM40 64h8v8h-8zM160 64h8v8h-8zM152 88h8v8h-8zM88 104h8v8h-8zM144 104h8v8h-8zM96 112h8v8h-8zM-40 216h80v8h-80z"/>
<path fill="#5d5d5d" d="M144 -120h8v8h-8zM64 -48h8v8h-8zM56 -40h8v8h-8zM208 -24h8v8h-8zM208 -16h8v8h-8zM200 0h8v8h-8zM192 16h8v8h-8zM184 32h8v8h-8zM32 48h8v8h-8zM168 56h8v8h-8zM160 72h8v8h-8zM48 80h8v8h-8zM56 88h8v8h-8zM72 96h8v8h-8zM152 96h8v8h-8zM144 112h8v8h-8zM104 120h8v8h-8zM136 120h8v8h-8zM120 128h8v8h-8z"/>
<path fill="#5e5e5e" d="M168 -144h8v8h-8zM152 -136h8v8h-8zM136 -96h8v8h-8zM128 -88h8v8h-8zM96 -72h8v8h-8zM72 -56h8v8h-8zM216 -40h8v8h-8zM216 -32h8v8h-8zM208 -8h8v8h-8zM24 0h8v8h-8zM24 8h8v8h-8zM200 8h8v8h-8zM192 24h8v8h-8zM184 40h8v8h-8zM176 48h8v8h-8zM168 64h8v8h-8zM40 72h8v8h-8zM160 80h8v8h-8zM80 104h8v8h-8zM152 104h8v8h-8zM112 128h8v8h-8zM128 128h8v8h-8zM-72 208h16v8h-16z"/>
<path fill="#5f5f5f" d="M144 -128h8v8h-8zM112 -80h8v8h-8zM80 -64h8v8h-8zM216 -24h8v8h-8zM216 -16h8v8h-8zM208 0h8v8h-8zM24 16h8v8h-8zM200 16h8v8h-8zM192 32h8v8h-8zM184 48h8v8h-8zM32 56h8v8h-8zM176 56h8v8h-8zM168 72h8v8h-8zM48 88h8v8h-8zM160 88h8v8h-8zM64 96h8v8h-8zM88 112h8v8h-8zM96 120h8v8h-8zM144 120h8v8h-8zM104 128h8v8h-8zM136 128h8v8h-8zM-56 208h128v8h-128z"/>
<path fill="#606060" d="M160 -144h8v8h-8zM136 -104h8v8h-8zM40 -32h8v8h-8zM32 -24h8v8h-8zM24 -8h8v8h-8zM216 -8h8v8h-8zM208 8h8v8h-8zM208 16h8v8h-8zM24 24h8v8h-8zM200 24h8v8h-8zM192 40h8v8h-8zM32 64h8v8h-8zM176 64h8v8h-8zM40 80h8v8h-8zM168 80h8v8h-8zM56 96h8v8h-8zM160 96h8v8h-8zM72 104h8v8h-8zM152 112h8v8h-8zM144 128h8v8h-8zM112 136h32v8h-32zM-88 200h16v8h-16zM80 200h8v8h-8z"/>
<path fill="#616161" d="M120 -88h8v8h-8zM104 -80h8v8h-8zM88 -72h8v8h-8zM48 -40h8v8h-8zM216 0h8v8h-8zM216 8h8v8h-8zM208 24h8v8h-8zM24 32h8v8h-8zM200 32h8v8h-8zM192 48h8v8h-8zM184 56h8v8h-8zM176 72h8v8h-8zM168 88h8v8h-8zM160 104h8v8h-8zM80 112h8v8h-8zM88 120h8v8h-8zM152 120h8v8h-8zM96 128h8v8h-8zM144 136h8v8h-8zM120 144h24v8h-24zM-104 192h8v8h-8zM-72 200h16v8h-16zM48 200h32v8h-32z"/>
<path fill="#626262" d="M136 -112h8v8h-8zM128 -96h8v8h-8zM64 -56h8v8h-8zM56 -48h8v8h-8zM24 -16h8v8h-8zM216 16h8v8h-8zM208 32h8v8h-8zM24 40h8v8h-8zM200 40h8v8h-8zM200 48h8v8h-8zM192 56h8v8h-8zM184 64h8v8h-8zM32 72h8v8h-8zM184 72h8v8h-8zM176 80h8v8h-8zM40 88h8v8h-8zM176 88h8v8h-8zM48 96h8v8h-8zM168 96h8v8h-8zM64 104h8v8h-8zM160 112h8v8h-8zM152 128h8v8h-8zM104 136h8v8h-8zM152 136h8v8h-8zM112 144h8v8h-8zM144 144h8v8h-8zM128 152h24v8h-24zM136 160h8v8h-8zM136 168h8v8h-8zM-120 184h8v8h-8zM112 184h8v8h-8zM-96 192h16v8h-16zM88 192h16v8h-16zM-56 200h104v8h-104z"/>
<path fill="#636363" d="M152 -144h8v8h-8zM144 -136h8v8h-8zM72 -64h8v8h-8zM216 24h8v8h-8zM216 32h8v8h-8zM208 40h8v8h-8zM24 48h8v8h-8zM200 56h8v8h-8zM192 64h8v8h-8zM32 80h8v8h-8zM184 80h8v8h-8zM176 96h8v8h-8zM168 104h8v8h-8zM72 112h8v8h-8zM168 112h8v8h-8zM160 120h8v8h-8zM160 128h8v8h-8zM160 136h8v8h-8zM104 144h8v8h-8zM152 144h16v8h-16zM112 152h16v8h-16zM152 152h8v8h-8zM120 160h16v8h-16zM144 160h8v8h-8zM120 168h16v8h-16zM112 176h16v8h-16zM-112 184h8v8h-8zM96 184h16v8h-16zM-80 192h8v8h-8zM64 192h24v8h-24z"/>
<path fill="#646464" d="M136 -120h8v8h-8zM112 -88h8v8h-8zM96 -80h8v8h-8zM40 -40h8v8h-8zM32 -32h8v8h-8zM24 -24h8v8h-8zM208 48h8v8h-8zM24 56h8v8h-8zM208 56h8v8h-8zM200 64h8v8h-8zM192 72h8v8h-8zM192 80h8v8h-8zM184 88h8v8h-8zM40 96h8v8h-8zM184 96h8v8h-8zM56 104h8v8h-8zM176 104h8v8h-8zM80 120h8v8h-8zM168 120h8v8h-8zM88 128h8v8h-8zM168 128h8v8h-8zM96 136h8v8h-8zM168 136h8v8h-8zM112 160h8v8h-8zM112 168h8v8h-8zM-128 176h8v8h-8zM104 176h8v8h-8zM-104 184h16v8h-16zM88 184h8v8h-8zM-72 192h16v8h-16zM-8 192h24v8h-24zM40 192h24v8h-24z"/>
<path fill="#656565" d="M160 -152h8v8h-8zM128 -104h8v8h-8zM80 -72h8v8h-8zM16 0h8v8h-8zM16 8h8v8h-8zM16 16h8v8h-8zM24 64h8v8h-8zM208 64h8v8h-8zM200 72h8v8h-8zM200 80h8v8h-8zM32 88h8v8h-8zM192 88h8v8h-8zM48 104h8v8h-8zM184 104h8v8h-8zM64 112h8v8h-8zM176 112h16v8h-16zM176 120h8v8h-8zM96 144h8v8h-8zM104 152h8v8h-8zM104 160h8v8h-8zM-144 168h8v8h-8zM104 168h8v8h-8zM-120 176h16v8h-16zM96 176h8v8h-8zM-88 184h8v8h-8zM72 184h16v8h-16zM-56 192h48v8h-48zM16 192h24v8h-24z"/>
<path fill="#666666" d="M136 -128h8v8h-8zM120 -96h8v8h-8zM48 -48h8v8h-8zM16 -8h8v8h-8zM16 24h8v8h-8zM24 72h8v8h-8zM192 96h8v8h-8zM72 120h8v8h-8zM88 136h8v8h-8zM96 152h8v8h-8zM96 160h8v8h-8zM-136 168h8v8h-8zM96 168h8v8h-8zM-104 176h8v8h-8zM88 176h8v8h-8zM-80 184h8v8h-8zM56 184h16v8h-16z"/>
<path fill="#676767" d="M144 -144h8v8h-8zM104 -88h8v8h-8zM88 -80h8v8h-8zM64 -64h8v8h-8zM56 -56h8v8h-8zM16 -16h8v8h-8zM16 32h8v8h-8zM24 80h8v8h-8zM32 96h8v8h-8zM40 104h8v8h-8zM56 112h8v8h-8zM80 128h8v8h-8zM88 144h8v8h-8zM-152 160h8v8h-8zM-128 168h16v8h-16zM88 168h8v8h-8zM-96 176h8v8h-8zM80 176h8v8h-8zM-72 184h16v8h-16zM-16 184h72v8h-72z"/>
<path fill="#686868" d="M152 -152h8v8h-8zM128 -112h8v8h-8zM72 -72h8v8h-8zM32 -40h8v8h-8zM24 -32h8v8h-8zM16 40h8v8h-8zM24 88h8v8h-8zM88 152h8v8h-8zM-144 160h16v8h-16zM88 160h8v8h-8zM-112 168h16v8h-16zM80 168h8v8h-8zM-88 176h8v8h-8zM64 176h16v8h-16zM-56 184h40v8h-40z"/>
<path fill="#696969" d="M136 -136h8v8h-8zM112 -96h8v8h-8zM16 48h8v8h-8zM32 104h8v8h-8zM48 112h8v8h-8zM64 120h8v8h-8zM72 128h8v8h-8zM80 136h8v8h-8zM-160 152h16v8h-16zM-128 160h8v8h-8zM-96 168h8v8h-8zM-80 176h16v8h-16zM56 176h8v8h-8z"/>
<path fill="#6a6a6a" d="M128 -120h8v8h-8zM120 -104h8v8h-8zM96 -88h8v8h-8zM80 -80h8v8h-8zM40 -48h8v8h-8zM16 -24h8v8h-8zM16 56h8v8h-8zM16 64h8v8h-8zM24 96h8v8h-8zM40 112h8v8h-8zM56 120h8v8h-8zM-168 144h8v8h-8zM80 144h8v8h-8zM-144 152h16v8h-16zM80 152h8v8h-8zM-120 160h16v8h-16zM80 160h8v8h-8zM-88 168h8v8h-8zM72 168h8v8h-8zM-64 176h8v8h-8zM-24 176h80v8h-80z"/>
<path fill="#6b6b6b" d="M56 -64h8v8h-8zM48 -56h8v8h-8zM8 0h8v8h-8zM8 8h8v8h-8zM16 72h8v8h-8zM16 80h8v8h-8zM64 128h8v8h-8zM72 136h8v8h-8zM-160 144h16v8h-16zM-128 152h8v8h-8zM-104 160h16v8h-16zM72 160h8v8h-8zM-80 168h8v8h-8zM64 168h8v8h-8zM-56 176h32v8h-32z"/>
<path fill="#6c6c6c" d="M144 -152h8v8h-8zM136 -144h8v8h-8zM128 -128h8v8h-8zM104 -96h8v8h-8zM88 -88h8v8h-8zM64 -72h8v8h-8zM24 -40h8v8h-8zM8 -8h8v8h-8zM8 16h8v8h-8zM16 88h8v8h-8zM24 104h8v8h-8zM32 112h8v8h-8zM48 120h8v8h-8zM-176 136h8v8h-8zM-144 144h8v8h-8zM72 144h8v8h-8zM-120 152h16v8h-16zM72 152h8v8h-8zM-88 160h8v8h-8zM-72 168h8v8h-8zM0 168h24v8h-24zM48 168h16v8h-16z"/>
<path fill="#6d6d6d" d="M32 -48h8v8h-8zM16 -32h8v8h-8zM8 -16h8v8h-8zM8 24h8v8h-8zM16 96h8v8h-8zM24 112h8v8h-8zM40 120h8v8h-8zM56 128h8v8h-8zM-168 136h16v8h-16zM-136 144h16v8h-16zM-104 152h16v8h-16zM64 160h8v8h-8zM-64 168h16v8h-16zM-32 168h32v8h-32zM24 168h24v8h-24z"/>
<path fill="#6e6e6e" d="M152 -160h8v8h-8zM120 -112h8v8h-8zM112 -104h8v8h-8zM72 -80h8v8h-8zM40 -56h8v8h-8zM8 32h8v8h-8zM16 104h8v8h-8zM32 120h8v8h-8zM-176 128h8v8h-8zM48 128h8v8h-8zM-152 136h16v8h-16zM64 136h8v8h-8zM-120 144h16v8h-16zM-80 160h8v8h-8zM56 160h8v8h-8zM-48 168h16v8h-16z"/>
<path fill="#6f6f6f" d="M128 -136h8v8h-8zM96 -96h8v8h-8zM48 -64h8v8h-8zM8 -24h8v8h-8zM8 40h8v8h-8zM16 112h8v8h-8zM24 120h8v8h-8zM-168 128h16v8h-16zM40 128h8v8h-8zM-136 136h16v8h-16zM-104 144h8v8h-8zM64 144h8v8h-8zM-88 152h8v8h-8zM64 152h8v8h-8zM-72 160h8v8h-8zM-16 160h72v8h-72z"/>
<path fill="#707070" d="M120 -120h8v8h-8zM80 -88h8v8h-8zM56 -72h8v8h-8zM24 -48h8v8h-8zM16 -40h8v8h-8zM8 48h8v8h-8zM8 56h8v8h-8zM8 64h8v8h-8zM8 72h8v8h-8zM8 80h8v8h-8zM8 88h8v8h-8zM8 96h8v8h-8zM-184 120h16v8h-16zM-152 128h16v8h-16zM24 128h16v8h-16zM-120 136h16v8h-16zM48 136h16v8h-16zM-96 144h8v8h-8zM-80 152h8v8h-8zM8 152h32v8h-32zM56 152h8v8h-8zM-64 160h48v8h-48z"/>
<path fill="#717171" d="M144 -160h8v8h-8zM136 -152h8v8h-8zM104 -104h8v8h-8zM64 -80h8v8h-8zM32 -56h8v8h-8zM8 104h8v8h-8zM-192 112h8v8h-8zM8 112h8v8h-8zM-168 120h8v8h-8zM16 120h8v8h-8zM-136 128h16v8h-16zM16 128h8v8h-8zM-104 136h8v8h-8zM24 136h24v8h-24zM-88 144h8v8h-8zM16 144h48v8h-48zM-16 152h24v8h-24zM40 152h16v8h-16z"/>
<path fill="#727272" d="M128 -144h8v8h-8zM120 -128h8v8h-8zM112 -112h8v8h-8zM88 -96h8v8h-8zM8 -32h8v8h-8zM0 0h8v8h-8zM0 8h8v8h-8zM-184 112h16v8h-16zM-160 120h16v8h-16zM8 120h8v8h-8zM-120 128h8v8h-8zM8 128h8v8h-8zM-96 136h8v8h-8zM8 136h16v8h-16zM0 144h16v8h-16zM-72 152h16v8h-16zM-32 152h16v8h-16z"/>
<path fill="#737373" d="M72 -88h8v8h-8zM40 -64h8v8h-8zM16 -48h8v8h-8zM0 -8h8v8h-8zM0 16h8v8h-8zM0 88h8v8h-8zM0 96h8v8h-8zM-192 104h8v8h-8zM0 104h8v8h-8zM-168 112h8v8h-8zM0 112h8v8h-8zM-144 120h16v8h-16zM-112 128h8v8h-8zM0 128h8v8h-8zM-88 136h8v8h-8zM0 136h8v8h-8zM-80 144h8v8h-8zM-16 144h16v8h-16zM-56 152h24v8h-24z"/>
<path fill="#747474" d="M120 -136h8v8h-8zM112 -120h8v8h-8zM96 -104h8v8h-8zM48 -72h8v8h-8zM24 -56h8v8h-8zM8 -40h8v8h-8zM0 -16h8v8h-8zM0 24h8v8h-8zM0 72h8v8h-8zM0 80h8v8h-8zM-200 96h8v8h-8zM-184 104h16v8h-16zM-160 112h16v8h-16zM-128 120h16v8h-16zM0 120h8v8h-8zM-104 128h8v8h-8zM-8 136h8v8h-8zM-72 144h8v8h-8zM-32 144h16v8h-16z"/>
<path fill="#757575" d="M104 -112h8v8h-8zM80 -96h8v8h-8zM56 -80h8v8h-8zM32 -64h8v8h-8zM0 -24h8v8h-8zM0 32h8v8h-8zM0 64h8v8h-8zM-192 96h16v8h-16zM-168 104h8v8h-8zM-144 112h16v8h-16zM-112 120h8v8h-8zM-8 120h8v8h-8zM-96 128h8v8h-8zM-8 128h8v8h-8zM-80 136h8v8h-8zM-24 136h16v8h-16zM-64 144h32v8h-32z"/>
<path fill="#767676" d="M136 -160h8v8h-8zM128 -152h8v8h-8zM88 -104h8v8h-8zM64 -88h8v8h-8zM0 40h8v8h-8zM0 48h8v8h-8zM0 56h8v8h-8zM-200 88h8v8h-8zM-176 96h8v8h-8zM-8 96h8v8h-8zM-160 104h8v8h-8zM-8 104h8v8h-8zM-128 112h8v8h-8zM-8 112h8v8h-8zM-104 120h8v8h-8zM-88 128h8v8h-8zM-16 128h8v8h-8zM-72 136h8v8h-8zM-32 136h8v8h-8z"/>
<path fill="#777777" d="M144 -168h8v8h-8zM120 -144h8v8h-8zM112 -128h8v8h-8zM40 -72h8v8h-8zM16 -56h8v8h-8zM8 -48h8v8h-8zM0 -32h8v8h-8zM-192 88h16v8h-16zM-8 88h8v8h-8zM-168 96h8v8h-8zM-152 104h16v8h-16zM-120 112h8v8h-8zM-16 112h8v8h-8zM-96 120h8v8h-8zM-16 120h8v8h-8zM-80 128h8v8h-8zM-24 128h8v8h-8zM-64 136h32v8h-32z"/>
<path fill="#787878" d="M104 -120h8v8h-8zM96 -112h8v8h-8zM72 -96h8v8h-8zM48 -80h8v8h-8zM24 -64h8v8h-8zM-208 80h24v8h-24zM-8 80h8v8h-8zM-176 88h8v8h-8zM-160 96h8v8h-8zM-136 104h8v8h-8zM-16 104h8v8h-8zM-112 112h8v8h-8zM-88 120h8v8h-8zM-24 120h8v8h-8zM-72 128h8v8h-8zM-32 128h8v8h-8z"/>
<path fill="#797979" d="M112 -136h8v8h-8zM80 -104h8v8h-8zM56 -88h8v8h-8zM0 -40h8v8h-8zM-8 72h8v8h-8zM-184 80h8v8h-8zM-168 88h8v8h-8zM-152 96h8v8h-8zM-16 96h8v8h-8zM-128 104h8v8h-8zM-104 112h8v8h-8zM-24 112h8v8h-8zM-80 120h8v8h-8zM-32 120h8v8h-8zM-64 128h32v8h-32z"/>
<path fill="#7a7a7a" d="M88 -112h8v8h-8zM32 -72h8v8h-8zM-8 -8h8v8h-8zM-8 0h8v8h-8zM-8 8h8v8h-8zM-8 16h8v8h-8zM-8 64h8v8h-8zM-208 72h24v8h-24zM-176 80h8v8h-8zM-16 88h8v8h-8zM-144 96h8v8h-8zM-120 104h8v8h-8zM-24 104h8v8h-8zM-96 112h8v8h-8zM-72 120h8v8h-8zM-40 120h8v8h-8z"/>
<path fill="#7b7b7b" d="M136 -168h8v8h-8zM128 -160h8v8h-8zM120 -152h8v8h-8zM104 -128h8v8h-8zM96 -120h8v8h-8zM64 -96h8v8h-8zM40 -80h8v8h-8zM16 -64h8v8h-8zM8 -56h8v8h-8zM-8 -16h8v8h-8zM-8 24h8v8h-8zM-8 56h8v8h-8zM-184 72h8v8h-8zM-16 80h8v8h-8zM-160 88h8v8h-8zM-136 96h8v8h-8zM-112 104h8v8h-8zM-88 112h8v8h-8zM-32 112h8v8h-8zM-64 120h24v8h-24z"/>
<path fill="#7c7c7c" d="M72 -104h8v8h-8zM48 -88h8v8h-8zM24 -72h8v8h-8zM0 -48h8v8h-8zM-8 -24h8v8h-8zM-8 32h8v8h-8zM-8 40h8v8h-8zM-8 48h8v8h-8zM-216 64h32v8h-32zM-176 72h8v8h-8zM-168 80h8v8h-8zM-152 88h8v8h-8zM-128 96h8v8h-8zM-24 96h8v8h-8zM-104 104h8v8h-8zM-32 104h8v8h-8zM-80 112h8v8h-8zM-40 112h8v8h-8z"/>
<path fill="#7d7d7d" d="M112 -144h8v8h-8zM80 -112h8v8h-8zM-184 64h8v8h-8zM-16 72h8v8h-8zM-160 80h8v8h-8zM-144 88h8v8h-8zM-24 88h8v8h-8zM-120 96h8v8h-8zM-96 104h8v8h-8zM-72 112h32v8h-32z"/>
<path fill="#7e7e7e" d="M104 -136h8v8h-8zM96 -128h8v8h-8zM88 -120h8v8h-8zM56 -96h8v8h-8zM32 -80h8v8h-8zM8 -64h8v8h-8zM-8 -32h8v8h-8zM-216 56h24v8h-24zM-16 64h8v8h-8zM-168 72h8v8h-8zM-136 88h8v8h-8zM-112 96h8v8h-8zM-32 96h8v8h-8zM-88 104h8v8h-8zM-40 104h8v8h-8z"/>
<path fill="#7f7f7f" d="M64 -104h8v8h-8zM40 -88h8v8h-8zM16 -72h8v8h-8zM0 -56h8v8h-8zM-8 -40h8v8h-8zM-192 56h8v8h-8zM-176 64h8v8h-8zM-152 80h8v8h-8zM-24 80h8v8h-8zM-104 96h8v8h-8zM-80 104h16v8h-16zM-48 104h8v8h-8z"/>
<path fill="#808080" d="M128 -168h8v8h-8zM120 -160h8v8h-8zM112 -152h8v8h-8zM72 -112h8v8h-8zM24 -80h8v8h-8zM-184 56h8v8h-8zM-16 56h8v8h-8zM-168 64h8v8h-8zM-160 72h8v8h-8zM-144 80h8v8h-8zM-128 88h8v8h-8zM-32 88h8v8h-8zM-96 96h8v8h-8zM-40 96h8v8h-8zM-64 104h16v8h-16z"/>
<path fill="#818181" d="M136 -176h8v8h-8zM104 -144h8v8h-8zM96 -136h8v8h-8zM88 -128h8v8h-8zM80 -120h8v8h-8zM48 -96h8v8h-8zM-8 -48h8v8h-8zM-216 48h32v8h-32zM-16 48h8v8h-8zM-176 56h8v8h-8zM-152 72h8v8h-8zM-24 72h8v8h-8zM-120 88h8v8h-8zM-88 96h8v8h-8zM-48 96h8v8h-8z"/>
<path fill="#828282" d="M64 -112h8v8h-8zM56 -104h8v8h-8zM32 -88h8v8h-8zM8 -72h8v8h-8zM0 -64h8v8h-8zM-16 -8h8v8h-8zM-16 0h8v8h-8zM-16 8h8v8h-8zM-16 16h8v8h-8zM-16 24h8v8h-8zM-16 32h8v8h-8zM-16 40h8v8h-8zM-184 48h8v8h-8zM-160 64h8v8h-8zM-24 64h8v8h-8zM-136 80h8v8h-8zM-32 80h8v8h-8zM-40 88h8v8h-8zM-80 96h32v8h-32z"/>
<path fill="#838383" d="M72 -120h8v8h-8zM40 -96h8v8h-8zM16 -80h8v8h-8zM-16 -16h8v8h-8zM-168 56h8v8h-8zM-144 72h8v8h-8zM-112 88h8v8h-8z"/>
<path fill="#848484" d="M80 -128h8v8h-8zM48 -104h8v8h-8zM24 -88h8v8h-8zM-8 -56h8v8h-8zM-16 -24h8v8h-8zM-216 40h32v8h-32zM-176 48h8v8h-8zM-24 56h8v8h-8zM-152 64h8v8h-8zM-32 72h8v8h-8zM-128 80h8v8h-8zM-40 80h8v8h-8zM-104 88h16v8h-16zM-48 88h8v8h-8z"/>
<path fill="#858585" d="M120 -168h8v8h-8zM112 -160h8v8h-8zM104 -152h8v8h-8zM96 -144h8v8h-8zM88 -136h8v8h-8zM56 -112h8v8h-8zM8 -80h8v8h-8zM0 -72h8v8h-8zM-16 -32h8v8h-8zM-184 40h8v8h-8zM-168 48h8v8h-8zM-160 56h8v8h-8zM-120 80h8v8h-8zM-88 88h8v8h-8zM-56 88h8v8h-8z"/>
<path fill="#868686" d="M128 -176h8v8h-8zM72 -128h8v8h-8zM64 -120h8v8h-8zM32 -96h8v8h-8zM16 -88h8v8h-8zM-8 -64h8v8h-8zM-16 -40h8v8h-8zM-208 32h16v8h-16zM-176 40h8v8h-8zM-24 48h8v8h-8zM-32 64h8v8h-8zM-136 72h8v8h-8zM-48 80h8v8h-8zM-80 88h24v8h-24z"/>
<path fill="#878787" d="M80 -136h8v8h-8zM40 -104h8v8h-8zM-16 -48h8v8h-8zM-224 32h16v8h-16zM-192 32h16v8h-16zM-24 40h8v8h-8zM-152 56h8v8h-8zM-144 64h8v8h-8zM-40 72h8v8h-8zM-112 80h8v8h-8z"/>
<path fill="#888888" d="M88 -144h8v8h-8zM56 -120h8v8h-8zM48 -112h8v8h-8zM24 -96h8v8h-8zM0 -80h8v8h-8zM-176 32h8v8h-8zM-24 32h8v8h-8zM-168 40h8v8h-8zM-160 48h8v8h-8zM-32 56h8v8h-8zM-128 72h8v8h-8zM-104 80h8v8h-8zM-56 80h8v8h-8z"/>
<path fill="#898989" d="M104 -160h8v8h-8zM96 -152h8v8h-8zM64 -128h8v8h-8zM32 -104h8v8h-8zM8 -88h8v8h-8zM-8 -72h8v8h-8zM-16 -56h8v8h-8zM-24 8h8v8h-8zM-24 16h8v8h-8zM-216 24h40v8h-40zM-24 24h8v8h-8zM-136 64h8v8h-8zM-40 64h8v8h-8zM-48 72h8v8h-8zM-96 80h8v8h-8zM-64 80h8v8h-8z"/>
<path fill="#8a8a8a" d="M120 -176h8v8h-8zM112 -168h8v8h-8zM72 -136h8v8h-8zM40 -112h8v8h-8zM16 -96h8v8h-8zM-24 -8h8v8h-8zM-24 0h8v8h-8zM-224 24h8v8h-8zM-176 24h8v8h-8zM-168 32h8v8h-8zM-160 40h8v8h-8zM-152 48h8v8h-8zM-32 48h8v8h-8zM-144 56h8v8h-8zM-120 72h8v8h-8zM-88 80h24v8h-24z"/>
<path fill="#8b8b8b" d="M80 -144h8v8h-8zM56 -128h8v8h-8zM48 -120h8v8h-8zM24 -104h8v8h-8zM-24 -24h8v8h-8zM-24 -16h8v8h-8zM-200 16h16v8h-16zM-56 72h8v8h-8z"/>
<path fill="#8c8c8c" d="M88 -152h8v8h-8zM64 -136h8v8h-8zM32 -112h8v8h-8zM8 -96h8v8h-8zM0 -88h8v8h-8zM-8 -80h8v8h-8zM-16 -64h8v8h-8zM-24 -32h8v8h-8zM-216 16h16v8h-16zM-184 16h16v8h-16zM-168 24h8v8h-8zM-160 32h8v8h-8zM-32 40h8v8h-8zM-40 56h8v8h-8zM-128 64h8v8h-8zM-48 64h8v8h-8zM-112 72h8v8h-8z"/>
<path fill="#8d8d8d" d="M96 -160h8v8h-8zM72 -144h8v8h-8zM48 -128h8v8h-8zM40 -120h8v8h-8zM16 -104h8v8h-8zM-24 -40h8v8h-8zM-192 8h16v8h-16zM-224 16h8v8h-8zM-32 32h8v8h-8zM-152 40h8v8h-8zM-144 48h8v8h-8zM-136 56h8v8h-8zM-104 72h8v8h-8zM-64 72h8v8h-8z"/>
<path fill="#8e8e8e" d="M104 -168h8v8h-8zM56 -136h8v8h-8zM24 -112h8v8h-8zM-16 -72h8v8h-8zM-24 -48h8v8h-8zM-208 8h16v8h-16zM-176 8h8v8h-8zM-168 16h8v8h-8zM-160 24h8v8h-8zM-40 48h8v8h-8zM-120 64h8v8h-8zM-56 64h8v8h-8zM-96 72h32v8h-32z"/>
<path fill="#8f8f8f" d="M112 -176h8v8h-8zM80 -152h8v8h-8zM32 -120h8v8h-8zM8 -104h8v8h-8zM0 -96h8v8h-8zM-8 -88h8v8h-8zM-192 0h24v8h-24zM-224 8h16v8h-16zM-168 8h8v8h-8zM-32 24h8v8h-8zM-152 32h8v8h-8zM-48 56h8v8h-8z"/>
<path fill="#909090" d="M120 -184h8v8h-8zM64 -144h8v8h-8zM40 -128h8v8h-8zM16 -112h8v8h-8zM-24 -56h8v8h-8zM-184 -8h16v8h-16zM-200 0h8v8h-8zM-168 0h8v8h-8zM-160 16h8v8h-8zM-32 16h8v8h-8zM-144 40h8v8h-8zM-40 40h8v8h-8zM-136 48h8v8h-8zM-128 56h8v8h-8zM-64 64h8v8h-8z"/>
<path fill="#919191" d="M88 -160h8v8h-8zM48 -136h8v8h-8zM24 -120h8v8h-8zM-16 -80h8v8h-8zM-24 -64h8v8h-8zM-184 -16h16v8h-16zM-200 -8h16v8h-16zM-168 -8h8v8h-8zM-216 0h16v8h-16zM-160 8h8v8h-8zM-32 8h8v8h-8zM-152 24h8v8h-8zM-112 64h8v8h-8z"/>
<path fill="#929292" d="M96 -168h8v8h-8zM72 -152h8v8h-8zM56 -144h8v8h-8zM32 -128h8v8h-8zM8 -112h8v8h-8zM0 -104h8v8h-8zM-8 -96h8v8h-8zM-184 -24h16v8h-16zM-192 -16h8v8h-8zM-168 -16h8v8h-8zM-208 -8h8v8h-8zM-32 -8h8v8h-8zM-224 0h8v8h-8zM-160 0h8v8h-8zM-32 0h8v8h-8zM-48 48h8v8h-8zM-56 56h8v8h-8zM-104 64h8v8h-8zM-72 64h8v8h-8z"/>
<path fill="#939393" d="M104 -176h8v8h-8zM40 -136h8v8h-8zM16 -120h8v8h-8zM-16 -88h8v8h-8zM-184 -32h16v8h-16zM-32 -32h8v8h-8zM-192 -24h8v8h-8zM-168 -24h8v8h-8zM-32 -24h8v8h-8zM-200 -16h8v8h-8zM-32 -16h8v8h-8zM-216 -8h8v8h-8zM-160 -8h8v8h-8zM-152 16h8v8h-8zM-144 32h8v8h-8zM-40 32h8v8h-8zM-120 56h8v8h-8zM-96 64h24v8h-24z"/>
<path fill="#949494" d="M112 -184h8v8h-8zM80 -160h8v8h-8zM64 -152h8v8h-8zM48 -144h8v8h-8zM24 -128h8v8h-8zM-24 -72h8v8h-8zM-184 -40h16v8h-16zM-32 -40h8v8h-8zM-192 -32h8v8h-8zM-168 -32h8v8h-8zM-200 -24h8v8h-8zM-216 -16h16v8h-16zM-160 -16h8v8h-8zM-224 -8h8v8h-8zM-152 8h8v8h-8zM-136 40h8v8h-8zM-128 48h8v8h-8zM-64 56h8v8h-8z"/>
<path fill="#959595" d="M32 -136h8v8h-8zM8 -120h8v8h-8zM0 -112h8v8h-8zM-8 -104h8v8h-8zM-32 -48h8v8h-8zM-192 -40h8v8h-8zM-168 -40h8v8h-8zM-200 -32h8v8h-8zM-160 -32h8v8h-8zM-208 -24h8v8h-8zM-160 -24h8v8h-8zM-224 -16h8v8h-8zM-152 0h8v8h-8zM-144 24h8v8h-8zM-40 24h8v8h-8zM-48 40h8v8h-8zM-56 48h8v8h-8zM-112 56h8v8h-8z"/>
<path fill="#969696" d="M88 -168h8v8h-8zM56 -152h8v8h-8zM16 -128h8v8h-8zM-16 -96h8v8h-8zM-24 -80h8v8h-8zM-32 -56h8v8h-8zM-184 -48h24v8h-24zM-200 -40h8v8h-8zM-160 -40h8v8h-8zM-208 -32h8v8h-8zM-216 -24h8v8h-8zM-152 -8h8v8h-8zM-40 16h8v8h-8zM-72 56h8v8h-8z"/>
<path fill="#979797" d="M72 -160h8v8h-8zM40 -144h8v8h-8zM24 -136h8v8h-8zM-32 -64h8v8h-8zM-192 -48h8v8h-8zM-160 -48h8v8h-8zM-208 -40h8v8h-8zM-216 -32h8v8h-8zM-224 -24h8v8h-8zM-152 -24h8v8h-8zM-152 -16h8v8h-8zM-144 16h8v8h-8zM-136 32h8v8h-8zM-48 32h8v8h-8zM-128 40h8v8h-8zM-120 48h8v8h-8zM-104 56h8v8h-8zM-80 56h8v8h-8z"/>
<path fill="#989898" d="M96 -176h8v8h-8zM48 -152h8v8h-8zM8 -128h8v8h-8zM0 -120h8v8h-8zM-8 -112h8v8h-8zM-16 -104h8v8h-8zM-24 -88h8v8h-8zM-184 -56h24v8h-24zM-200 -48h8v8h-8zM-152 -40h8v8h-8zM-152 -32h8v8h-8zM-144 8h8v8h-8zM-40 8h8v8h-8zM-56 40h8v8h-8zM-64 48h8v8h-8zM-96 56h16v8h-16z"/>
<path fill="#999999" d="M104 -184h8v8h-8zM64 -160h8v8h-8zM32 -144h8v8h-8zM16 -136h8v8h-8zM-32 -72h8v8h-8zM-192 -56h8v8h-8zM-160 -56h8v8h-8zM-208 -48h8v8h-8zM-152 -48h8v8h-8zM-216 -40h8v8h-8zM-224 -32h8v8h-8zM-144 0h8v8h-8zM-40 0h8v8h-8zM-136 24h8v8h-8z"/>
<path fill="#9a9a9a" d="M112 -192h8v8h-8zM80 -168h8v8h-8zM-8 -120h8v8h-8zM-24 -96h8v8h-8zM-200 -56h8v8h-8zM-224 -40h8v8h-8zM-40 -40h8v8h-8zM-40 -32h8v8h-8zM-40 -24h8v8h-8zM-40 -16h8v8h-8zM-144 -8h8v8h-8zM-40 -8h8v8h-8zM-48 24h8v8h-8zM-112 48h8v8h-8zM-72 48h8v8h-8z"/>
<path fill="#9b9b9b" d="M40 -152h8v8h-8zM24 -144h8v8h-8zM8 -136h8v8h-8zM0 -128h8v8h-8zM-16 -112h8v8h-8zM-32 -80h8v8h-8zM-184 -64h24v8h-24zM-208 -56h8v8h-8zM-152 -56h8v8h-8zM-216 -48h8v8h-8zM-40 -48h8v8h-8zM-144 -32h8v8h-8zM-144 -24h8v8h-8zM-144 -16h8v8h-8zM-136 16h8v8h-8zM-128 32h8v8h-8zM-120 40h8v8h-8z"/>
<path fill="#9c9c9c" d="M88 -176h8v8h-8zM56 -160h8v8h-8zM-192 -64h8v8h-8zM-160 -64h8v8h-8zM-40 -56h8v8h-8zM-144 -48h8v8h-8zM-144 -40h8v8h-8zM-48 16h8v8h-8zM-56 32h8v8h-8zM-64 40h8v8h-8zM-104 48h8v8h-8zM-80 48h8v8h-8z"/>
<path fill="#9d9d9d" d="M96 -184h8v8h-8zM72 -168h8v8h-8zM32 -152h8v8h-8zM16 -144h8v8h-8zM-8 -128h8v8h-8zM-24 -104h8v8h-8zM-32 -88h8v8h-8zM-200 -64h8v8h-8zM-40 -64h8v8h-8zM-216 -56h8v8h-8zM-136 8h8v8h-8zM-96 48h16v8h-16z"/>
<path fill="#9e9e9e" d="M104 -192h8v8h-8zM48 -160h8v8h-8zM0 -136h8v8h-8zM-16 -120h8v8h-8zM-40 -72h8v8h-8zM-208 -64h8v8h-8zM-152 -64h8v8h-8zM-144 -56h8v8h-8zM-136 0h8v8h-8zM-48 8h8v8h-8zM-128 24h8v8h-8zM-120 32h8v8h-8zM-112 40h8v8h-8zM-72 40h8v8h-8z"/>
<path fill="#9f9f9f" d="M80 -176h8v8h-8zM64 -168h8v8h-8zM24 -152h8v8h-8zM8 -144h8v8h-8zM-24 -112h8v8h-8zM-32 -96h8v8h-8zM-184 -72h16v8h-16zM-136 -40h8v8h-8zM-136 -32h8v8h-8zM-136 -24h8v8h-8zM-136 -16h8v8h-8zM-136 -8h8v8h-8zM-56 24h8v8h-8zM-64 32h8v8h-8z"/>
<path fill="#a0a0a0" d="M40 -160h8v8h-8zM16 -152h8v8h-8zM-8 -136h8v8h-8zM-16 -128h8v8h-8zM-40 -80h8v8h-8zM-200 -72h16v8h-16zM-168 -72h16v8h-16zM-216 -64h8v8h-8zM-144 -64h8v8h-8zM-136 -48h8v8h-8zM-48 -40h8v8h-8zM-48 0h8v8h-8zM-128 16h8v8h-8zM-104 40h8v8h-8zM-80 40h8v8h-8z"/>
<path fill="#a1a1a1" d="M88 -184h8v8h-8zM32 -160h8v8h-8zM0 -144h8v8h-8zM-24 -120h8v8h-8zM-32 -104h8v8h-8zM-40 -88h8v8h-8zM-136 -56h8v8h-8zM-48 -56h8v8h-8zM-48 -48h8v8h-8zM-48 -32h8v8h-8zM-48 -24h8v8h-8zM-48 -16h8v8h-8zM-48 -8h8v8h-8zM-56 16h8v8h-8zM-96 40h16v8h-16z"/>
<path fill="#a2a2a2" d="M56 -168h8v8h-8zM8 -152h8v8h-8zM-208 -72h8v8h-8zM-152 -72h8v8h-8zM-48 -64h8v8h-8zM-128 8h8v8h-8zM-120 24h8v8h-8zM-112 32h8v8h-8zM-72 32h8v8h-8z"/>
<path fill="#a3a3a3" d="M96 -192h8v8h-8zM72 -176h8v8h-8zM24 -160h8v8h-8zM-8 -144h8v8h-8zM-16 -136h8v8h-8zM-24 -128h8v8h-8zM-32 -112h8v8h-8zM-40 -96h8v8h-8zM-48 -72h8v8h-8zM-136 -64h8v8h-8zM-128 0h8v8h-8zM-64 24h8v8h-8z"/>
<path fill="#a4a4a4" d="M48 -168h8v8h-8zM16 -160h8v8h-8zM0 -152h8v8h-8zM-192 -80h32v8h-32zM-48 -80h8v8h-8zM-216 -72h8v8h-8zM-144 -72h8v8h-8zM-128 -48h8v8h-8zM-128 -40h8v8h-8zM-128 -32h8v8h-8zM-128 -24h8v8h-8zM-128 -16h8v8h-8zM-128 -8h8v8h-8zM-56 8h8v8h-8zM-120 16h8v8h-8zM-104 32h8v8h-8zM-80 32h8v8h-8z"/>
<path fill="#a5a5a5" d="M80 -184h8v8h-8zM40 -168h8v8h-8zM-16 -144h8v8h-8zM-32 -120h8v8h-8zM-40 -104h8v8h-8zM-200 -80h8v8h-8zM-160 -80h8v8h-8zM-128 -56h8v8h-8zM-112 24h8v8h-8zM-96 32h16v8h-16z"/>
<path fill="#a6a6a6" d="M64 -176h8v8h-8zM32 -168h8v8h-8zM8 -160h8v8h-8zM-8 -152h8v8h-8zM-24 -136h8v8h-8zM-48 -88h8v8h-8zM-208 -80h8v8h-8zM-152 -80h8v8h-8zM-136 -72h8v8h-8zM-56 -64h8v8h-8zM-56 -56h8v8h-8zM-56 -48h8v8h-8zM-56 -40h8v8h-8zM-56 -32h8v8h-8zM-56 -24h8v8h-8zM-56 0h8v8h-8zM-120 8h8v8h-8zM-64 16h8v8h-8zM-72 24h8v8h-8z"/>
<path fill="#a7a7a7" d="M88 -192h8v8h-8zM24 -168h8v8h-8zM0 -160h8v8h-8zM-32 -128h8v8h-8zM-40 -112h8v8h-8zM-48 -96h8v8h-8zM-56 -72h8v8h-8zM-128 -64h8v8h-8zM-56 -16h8v8h-8zM-56 -8h8v8h-8zM-104 24h8v8h-8z"/>
<path fill="#a8a8a8" d="M96 -200h8v8h-8zM56 -176h8v8h-8zM16 -168h8v8h-8zM-16 -152h8v8h-8zM-24 -144h8v8h-8zM-40 -120h8v8h-8zM-144 -80h8v8h-8zM-56 -80h8v8h-8zM-120 -56h8v8h-8zM-120 -48h8v8h-8zM-120 -40h8v8h-8zM-120 -32h8v8h-8zM-120 -24h8v8h-8zM-120 0h8v8h-8zM-64 8h8v8h-8zM-112 16h8v8h-8zM-80 24h8v8h-8z"/>
<path fill="#a9a9a9" d="M72 -184h8v8h-8zM8 -168h8v8h-8zM-8 -160h8v8h-8zM-32 -136h8v8h-8zM-48 -104h8v8h-8zM-184 -88h16v8h-16zM-56 -88h8v8h-8zM-128 -72h8v8h-8zM-120 -16h8v8h-8zM-120 -8h8v8h-8zM-72 16h8v8h-8zM-96 24h16v8h-16z"/>
<path fill="#aaaaaa" d="M48 -176h8v8h-8zM-40 -128h8v8h-8zM-48 -112h8v8h-8zM-200 -88h16v8h-16zM-168 -88h16v8h-16zM-136 -80h8v8h-8zM-64 -72h8v8h-8zM-120 -64h8v8h-8zM-64 -64h8v8h-8zM-64 -56h8v8h-8zM-64 -48h8v8h-8zM-64 -40h8v8h-8zM-64 -32h8v8h-8zM-64 0h8v8h-8zM-112 8h8v8h-8z"/>
<path fill="#ababab" d="M80 -192h8v8h-8zM32 -176h16v8h-16zM0 -168h8v8h-8zM-16 -160h8v8h-8zM-24 -152h8v8h-8zM-32 -144h8v8h-8zM-56 -96h8v8h-8zM-208 -88h8v8h-8zM-64 -80h8v8h-8zM-112 -56h8v8h-8zM-112 -48h8v8h-8zM-112 -40h8v8h-8zM-64 -24h8v8h-8zM-64 -16h8v8h-8zM-64 -8h8v8h-8zM-72 8h8v8h-8zM-104 16h8v8h-8zM-80 16h8v8h-8z"/>
<path fill="#acacac" d="M88 -200h8v8h-8zM64 -184h8v8h-8zM24 -176h8v8h-8zM-8 -168h8v8h-8zM-40 -136h8v8h-8zM-48 -120h8v8h-8zM-56 -104h8v8h-8zM-152 -88h8v8h-8zM-64 -88h8v8h-8zM-128 -80h8v8h-8zM-120 -72h8v8h-8zM-112 -64h8v8h-8zM-72 -64h8v8h-8zM-72 -56h8v8h-8zM-112 -32h8v8h-8zM-112 -24h8v8h-8zM-112 0h8v8h-8zM-96 16h16v8h-16z"/>
<path fill="#adadad" d="M8 -176h16v8h-16zM-32 -152h8v8h-8zM-48 -128h8v8h-8zM-56 -112h8v8h-8zM-64 -96h8v8h-8zM-144 -88h8v8h-8zM-72 -72h8v8h-8zM-72 -48h8v8h-8zM-72 -40h8v8h-8zM-112 -16h8v8h-8zM-112 -8h8v8h-8zM-72 0h8v8h-8zM-104 8h8v8h-8zM-80 8h8v8h-8z"/>
<path fill="#aeaeae" d="M0 -176h8v8h-8zM-16 -168h8v8h-8zM-24 -160h8v8h-8zM-40 -144h8v8h-8zM-136 -88h8v8h-8zM-120 -80h8v8h-8zM-72 -80h8v8h-8zM-112 -72h8v8h-8zM-104 -64h8v8h-8zM-80 -64h8v8h-8zM-104 -56h8v8h-8zM-80 -56h8v8h-8zM-104 -48h8v8h-8zM-80 -48h8v8h-8zM-104 -40h8v8h-8zM-104 -32h8v8h-8zM-72 -32h8v8h-8zM-72 -24h8v8h-8zM-72 -16h8v8h-8zM-72 -8h8v8h-8z"/>
<path fill="#afafaf" d="M72 -192h8v8h-8zM56 -184h8v8h-8zM-48 -136h8v8h-8zM-56 -120h8v8h-8zM-64 -104h8v8h-8zM-192 -96h32v8h-32zM-72 -88h8v8h-8zM-80 -80h8v8h-8zM-104 -72h8v8h-8zM-80 -72h8v8h-8zM-96 -64h16v8h-16zM-96 -56h16v8h-16zM-96 -48h16v8h-16zM-96 -40h8v8h-8zM-80 -40h8v8h-8zM-104 -24h8v8h-8zM-104 0h8v8h-8zM-80 0h8v8h-8zM-96 8h16v8h-16z"/>
<path fill="#b0b0b0" d="M80 -200h8v8h-8zM40 -184h16v8h-16zM-8 -176h8v8h-8zM-32 -160h8v8h-8zM-40 -152h8v8h-8zM-56 -128h8v8h-8zM-64 -112h8v8h-8zM-200 -96h8v8h-8zM-160 -96h8v8h-8zM-72 -96h8v8h-8zM-128 -88h8v8h-8zM-80 -88h8v8h-8zM-112 -80h8v8h-8zM-88 -80h8v8h-8zM-96 -72h16v8h-16zM-88 -40h8v8h-8zM-96 -32h24v8h-24zM-80 -24h8v8h-8zM-104 -16h8v8h-8zM-104 -8h8v8h-8zM-80 -8h8v8h-8zM-88 0h8v8h-8z"/>
<path fill="#b1b1b1" d="M8 -184h32v8h-32zM-24 -168h8v8h-8zM-48 -144h8v8h-8zM-64 -120h8v8h-8zM-72 -104h8v8h-8zM-152 -96h8v8h-8zM-120 -88h8v8h-8zM-104 -80h16v8h-16zM-96 -24h16v8h-16zM-96 -16h8v8h-8zM-80 -16h8v8h-8zM-96 -8h16v8h-16zM-96 0h8v8h-8z"/>
<path fill="#b2b2b2" d="M64 -192h8v8h-8zM0 -184h8v8h-8zM-16 -176h8v8h-8zM-56 -136h8v8h-8zM-72 -112h8v8h-8zM-144 -96h8v8h-8zM-80 -96h8v8h-8zM-112 -88h32v8h-32zM-88 -16h8v8h-8z"/>
<path fill="#b3b3b3" d="M-8 -184h8v8h-8zM-32 -168h8v8h-8zM-40 -160h8v8h-8zM-48 -152h8v8h-8zM-64 -128h8v8h-8zM-80 -104h8v8h-8zM-136 -96h8v8h-8zM-88 -96h8v8h-8z"/>
<path fill="#b4b4b4" d="M72 -200h8v8h-8zM56 -192h8v8h-8zM-24 -176h8v8h-8zM-56 -144h8v8h-8zM-72 -120h8v8h-8zM-80 -112h8v8h-8zM-88 -104h8v8h-8zM-128 -96h8v8h-8zM-96 -96h8v8h-8z"/>
<path fill="#b5b5b5" d="M80 -208h8v8h-8zM48 -192h8v8h-8zM-16 -184h8v8h-8zM-64 -136h8v8h-8zM-72 -128h8v8h-8zM-200 -104h40v8h-40zM-120 -96h24v8h-24z"/>
<path fill="#b6b6b6" d="M0 -192h48v8h-48zM-32 -176h8v8h-8zM-40 -168h8v8h-8zM-48 -160h8v8h-8zM-56 -152h8v8h-8zM-64 -144h8v8h-8zM-80 -120h8v8h-8zM-88 -112h8v8h-8zM-160 -104h16v8h-16zM-96 -104h8v8h-8z"/>
<path fill="#b7b7b7" d="M64 -200h8v8h-8zM-8 -192h8v8h-8zM-24 -184h8v8h-8zM-72 -136h8v8h-8zM-144 -104h8v8h-8zM-104 -104h8v8h-8z"/>
<path fill="#b8b8b8" d="M-48 -168h8v8h-8zM-56 -160h8v8h-8zM-80 -128h8v8h-8zM-88 -120h8v8h-8zM-96 -112h8v8h-8zM-136 -104h32v8h-32z"/>
<path fill="#b9b9b9" d="M72 -208h8v8h-8zM56 -200h8v8h-8zM-16 -192h8v8h-8zM-40 -176h8v8h-8zM-64 -152h8v8h-8zM-72 -144h8v8h-8zM-104 -112h8v8h-8z"/>
<path fill="#bababa" d="M48 -200h8v8h-8zM-32 -184h8v8h-8zM-80 -136h8v8h-8zM-88 -128h8v8h-8zM-96 -120h8v8h-8z"/>
<path fill="#bbbbbb" d="M64 -208h8v8h-8zM0 -200h48v8h-48zM-24 -192h8v8h-8zM-56 -168h8v8h-8zM-64 -160h8v8h-8zM-72 -152h8v8h-8zM-192 -112h48v8h-48zM-120 -112h16v8h-16z"/>
<path fill="#bcbcbc" d="M-8 -200h8v8h-8zM-40 -184h8v8h-8zM-48 -176h8v8h-8zM-80 -144h8v8h-8zM-88 -136h8v8h-8zM-96 -128h8v8h-8zM-104 -120h8v8h-8zM-144 -112h24v8h-24z"/>
<path fill="#bdbdbd" d="M-112 -120h8v8h-8z"/>
<path fill="#bebebe" d="M56 -208h8v8h-8zM-16 -200h8v8h-8zM-32 -192h8v8h-8zM-64 -168h8v8h-8zM-72 -160h8v8h-8zM-80 -152h8v8h-8zM-104 -128h8v8h-8z"/>
<path fill="#bfbfbf" d="M40 -208h16v8h-16zM-48 -184h8v8h-8zM-56 -176h8v8h-8zM-88 -144h8v8h-8zM-96 -136h8v8h-8zM-128 -120h16v8h-16z"/>
<path fill="#c0c0c0" d="M64 -216h8v8h-8zM0 -208h40v8h-40zM-24 -200h8v8h-8zM-40 -192h8v8h-8zM-112 -128h8v8h-8zM-184 -120h56v8h-56z"/>
<path fill="#c1c1c1" d="M-8 -208h8v8h-8zM-72 -168h8v8h-8zM-80 -160h8v8h-8zM-88 -152h8v8h-8zM-96 -144h8v8h-8zM-104 -136h8v8h-8zM-192 -120h8v8h-8z"/>
<path fill="#c2c2c2" d="M56 -216h8v8h-8zM-32 -200h8v8h-8zM-56 -184h8v8h-8zM-64 -176h8v8h-8zM-120 -128h8v8h-8z"/>
<path fill="#c3c3c3" d="M48 -216h8v8h-8zM-16 -208h8v8h-8zM-48 -192h8v8h-8zM-112 -136h8v8h-8zM-128 -128h8v8h-8z"/>
<path fill="#c4c4c4" d="M32 -216h16v8h-16zM-72 -176h8v8h-8zM-80 -168h8v8h-8zM-88 -160h8v8h-8zM-96 -152h8v8h-8zM-104 -144h8v8h-8zM-144 -128h16v8h-16z"/>
<path fill="#c5c5c5" d="M8 -216h24v8h-24zM-24 -208h8v8h-8zM-40 -200h8v8h-8zM-64 -184h8v8h-8zM-120 -136h8v8h-8zM-168 -128h24v8h-24z"/>
<path fill="#c6c6c6" d="M0 -216h8v8h-8zM-56 -192h8v8h-8zM-104 -152h8v8h-8zM-112 -144h8v8h-8zM-128 -136h8v8h-8zM-184 -128h16v8h-16z"/>
<path fill="#c7c7c7" d="M-8 -216h8v8h-8zM-32 -208h8v8h-8zM-48 -200h8v8h-8zM-80 -176h8v8h-8zM-88 -168h8v8h-8zM-96 -160h8v8h-8zM-136 -136h8v8h-8z"/>
<path fill="#c8c8c8" d="M-16 -216h8v8h-8zM-72 -184h8v8h-8zM-120 -144h8v8h-8zM-144 -136h8v8h-8z"/>
<path fill="#c9c9c9" d="M32 -224h8v8h-8zM-40 -208h8v8h-8zM-64 -192h8v8h-8zM-104 -160h8v8h-8zM-112 -152h8v8h-8zM-128 -144h8v8h-8zM-152 -136h8v8h-8z"/>
<path fill="#cacaca" d="M8 -224h24v8h-24zM-24 -216h8v8h-8zM-56 -200h8v8h-8zM-88 -176h8v8h-8zM-96 -168h8v8h-8zM-168 -136h16v8h-16z"/>
<path fill="#cbcbcb" d="M0 -224h8v8h-8zM-80 -184h8v8h-8zM-120 -152h8v8h-8zM-136 -144h8v8h-8zM-176 -136h8v8h-8z"/>
<path fill="#cccccc" d="M-8 -224h8v8h-8zM-32 -216h8v8h-8zM-48 -208h8v8h-8zM-72 -192h8v8h-8zM-104 -168h8v8h-8zM-112 -160h8v8h-8zM-144 -144h8v8h-8z"/>
<path fill="#cdcdcd" d="M-64 -200h8v8h-8zM-96 -176h8v8h-8zM-128 -152h8v8h-8zM-152 -144h8v8h-8z"/>
<path fill="#cecece" d="M-16 -224h8v8h-8zM-40 -216h8v8h-8zM-88 -184h8v8h-8zM-120 -160h8v8h-8zM-136 -152h8v8h-8zM-160 -144h8v8h-8z"/>
<path fill="#cfcfcf" d="M-24 -224h8v8h-8zM-56 -208h8v8h-8zM-80 -192h8v8h-8zM-112 -168h8v8h-8zM-176 -144h16v8h-16z"/>
<path fill="#d0d0d0" d="M-72 -200h8v8h-8zM-104 -176h8v8h-8zM-128 -160h8v8h-8zM-144 -152h8v8h-8z"/>
<path fill="#d1d1d1" d="M-32 -224h8v8h-8zM-48 -216h8v8h-8zM-96 -184h8v8h-8zM-120 -168h8v8h-8zM-152 -152h8v8h-8z"/>
<path fill="#d2d2d2" d="M-64 -208h8v8h-8zM-88 -192h8v8h-8zM-112 -176h8v8h-8zM-136 -160h8v8h-8zM-160 -152h8v8h-8z"/>
<path fill="#d3d3d3" d="M-80 -200h8v8h-8zM-104 -184h8v8h-8zM-168 -152h8v8h-8z"/>
<path fill="#d4d4d4" d="M-40 -224h8v8h-8zM-56 -216h8v8h-8zM-72 -208h8v8h-8zM-128 -168h8v8h-8zM-144 -160h8v8h-8z"/>
<path fill="#d5d5d5" d="M-96 -192h8v8h-8zM-120 -176h8v8h-8zM-152 -160h8v8h-8z"/>
<path fill="#d6d6d6" d="M-64 -216h8v8h-8zM-88 -200h8v8h-8zM-112 -184h8v8h-8zM-136 -168h8v8h-8zM-160 -160h8v8h-8z"/>
<path fill="#d7d7d7" d="M-80 -208h8v8h-8zM-104 -192h8v8h-8zM-128 -176h8v8h-8zM-144 -168h8v8h-8z"/>
<path fill="#d9d9d9" d="M-72 -216h8v8h-8zM-96 -200h8v8h-8zM-120 -184h8v8h-8zM-136 -176h8v8h-8zM-152 -168h8v8h-8z"/>
<path fill="#dadada" d="M-88 -208h8v8h-8zM-112 -192h8v8h-8z"/>
<path fill="#dbdbdb" d="M-104 -200h8v8h-8zM-128 -184h8v8h-8zM-144 -176h8v8h-8z"/>
<path fill="#dddddd" d="M-120 -192h8v8h-8z"/>
</g>
<path d="M1614.7,1124 1612.7,1125.7 1611.6,1128.6 1612,1132.6 1612.7,1134.9 1614.7,1137.8 1616.7,1139.1 1620.7,1139.1 1622.7,1138.2 1625,1136.6 1626.8,1134.6 1628.2,1130.6 1627,1126.6 1625.2,1124.6 1622.7,1123.3 1618.7,1122.7 1614.7,1124M1606.7,1166.1 1604.7,1166.8 1600.7,1168.5 1598.7,1169.3 1595.8,1170.6 1592.7,1171.9 1590.7,1172.8 1586.7,1174.5 1584.7,1175.4 1581.7,1176.6 1578.7,1177.8 1576.6,1178.6 1572.7,1180.1 1570.7,1180.9 1566.7,1182.3 1564.7,1183.1 1560.7,1184.5 1558.7,1185.3 1555.4,1186.6 1552.7,1187.7 1550.7,1188.6 1546.7,1190.6 1544.7,1191.8 1542.7,1193.1 1540.7,1194.6 1538.1,1196.6 1535.7,1198.6 1533.3,1200.6 1531,1202.6 1528.7,1204.6 1526.7,1206.3 1524.7,1208.1 1522.7,1209.8 1520.7,1211.5 1518.7,1213.2 1516.7,1214.8 1514.5,1216.6 1512.1,1218.6 1509.7,1220.6 1507.3,1222.6 1505.1,1224.6 1502.9,1226.6 1500.9,1228.6 1499.1,1230.6 1497.4,1232.6 1496,1234.6 1494.7,1236.6 1492.7,1240.6 1492,1242.6 1490.9,1246.6 1490.6,1248.6 1490.2,1252.6 1490.2,1256.6 1490.5,1260.6 1490.7,1262.8 1491.3,1266.6 1492,1270.6 1492.7,1273.8 1493.4,1276.6 1494.5,1280.6 1495,1282.6 1496.3,1286.6 1497,1288.6 1498.5,1292.6 1499.3,1294.6 1500.7,1297.5 1502.3,1300.6 1503.5,1302.6 1504.7,1304.6 1506.7,1307.5 1508.7,1310.1 1510.7,1312.4 1512.7,1314.4 1514.7,1316.3 1516.7,1317.9 1518.7,1319.4 1520.7,1320.8 1523.5,1322.6 1526.7,1324.5 1528.7,1325.6 1530.7,1326.6 1534.4,1328.6 1536.7,1329.8 1538.7,1330.9 1541.8,1332.6 1544.7,1334.3 1546.7,1335.6 1548.7,1336.9 1551.2,1338.6 1554,1340.6 1556.7,1342.6 1558.7,1344 1560.7,1345.5 1562.7,1346.8 1565.7,1348.6 1568.7,1349.9 1571.3,1350.6 1573.8,1350.6 1576.7,1349.3 1578.7,1347.3 1580.4,1344.6 1581.4,1342.6 1582.7,1339.1 1583.4,1336.6 1584.3,1332.6 1584.7,1330.6 1585.4,1326.6 1586.1,1322.6 1586.7,1318.6 1587,1316.6 1587.7,1312.6 1588.5,1308.6 1589,1306.6 1590.1,1302.6 1590.8,1300.6 1592.6,1296.6 1593.8,1294.6 1595.2,1292.6 1596.8,1290.6 1598.7,1288.4 1600.7,1286.2 1602.7,1284 1604.7,1281.9 1606.7,1279.8 1608.7,1277.6 1610.7,1275.4 1612.7,1273.1 1614.7,1270.7 1616.4,1268.6 1617.9,1266.6 1619.4,1264.6 1620.8,1262.6 1622.7,1259.5 1624.4,1256.6 1625.5,1254.6 1626.7,1252.1 1628.2,1248.6 1629,1246.6 1630.5,1242.6 1631.1,1240.6 1632.3,1236.6 1632.8,1234.6 1633.7,1230.6 1634.4,1226.6 1634.7,1224.6 1635.2,1220.6 1635.4,1216.6 1635.5,1212.6 1635.3,1208.6 1634.9,1204.6 1634.6,1202.6 1633.8,1198.6 1632.8,1194.6 1632.3,1192.6 1631,1188.6 1630.3,1186.6 1628.8,1182.6 1628,1180.6 1626.7,1177.7 1625.1,1174.6 1623.8,1172.6 1622.4,1170.6 1620.7,1168.6 1618.2,1166.6 1614.7,1165.1 1610.7,1165.1 1606.7,1166.1M1656.7,1086 1652.7,1085 1650.7,1084.6 1646.7,1083.9 1642.7,1083.5 1638.7,1083.3 1634.7,1083.4 1630.7,1083.7 1626.7,1084.3 1624.7,1084.7 1620.7,1085.7 1617.7,1086.6 1614.7,1087.7 1612.6,1088.6 1608.7,1090.5 1606.7,1091.7 1604.7,1093 1602.4,1094.6 1599.8,1096.6 1597.6,1098.6 1595.6,1100.6 1593.8,1102.6 1592.1,1104.6 1590.7,1106.6 1588.7,1109.7 1587,1112.6 1586.1,1114.6 1584.7,1117.8 1583.6,1120.6 1582.7,1123.3 1581.7,1126.6 1580.7,1129.9 1579.8,1132.6 1578.7,1135.7 1577.3,1138.6 1576.1,1140.6 1574.4,1142.6 1572.4,1144.6 1570.1,1146.6 1567.4,1148.6 1564.7,1150.3 1562.7,1151.5 1560.7,1152.7 1557.2,1154.6 1554.7,1155.9 1552.7,1157 1549.5,1158.6 1546.7,1160.1 1544.7,1161.1 1542,1162.6 1538.7,1164.4 1536.7,1165.6 1534.7,1166.8 1531.8,1168.6 1528.7,1170.6 1526.7,1172 1524.7,1173.4 1522.7,1174.9 1520.4,1176.6 1517.9,1178.6 1515.4,1180.6 1513,1182.6 1510.7,1184.6 1508.7,1186.3 1506.7,1188.1 1504.7,1189.8 1502.7,1191.6 1500.7,1193.3 1498.7,1194.9 1496.4,1196.6 1493.4,1198.6 1490.7,1200.4 1488.7,1201.8 1486.7,1203.2 1484.7,1204.7 1482.3,1206.6 1480,1208.6 1478,1210.6 1476.1,1212.6 1474.4,1214.6 1472.7,1217 1470.7,1220.1 1469.3,1222.6 1468.4,1224.6 1466.7,1228.6 1466,1230.6 1464.8,1234.6 1464.3,1236.6 1463.6,1240.6 1463.1,1244.6 1462.9,1248.6 1462.9,1252.6 1463.1,1256.6 1463.4,1260.6 1463.9,1264.6 1464.4,1268.6 1464.7,1270.6 1465.3,1274.6 1466,1278.6 1466.6,1282.6 1466.9,1284.6 1467.5,1288.6 1468.1,1292.6 1468.5,1296.6 1468.7,1298.6 1469.1,1302.6 1469.4,1306.6 1469.8,1310.6 1470.1,1314.6 1470.5,1318.6 1470.7,1320.6 1471.2,1324.6 1471.9,1328.6 1472.7,1332.6 1473.2,1334.6 1474.4,1338.6 1475.2,1340.6 1476.7,1343.9 1478.2,1346.6 1479.6,1348.6 1481.2,1350.6 1483,1352.6 1485.2,1354.6 1487.9,1356.6 1490.7,1358.4 1492.7,1359.5 1494.8,1360.6 1498.7,1362.4 1500.7,1363.3 1503.7,1364.6 1506.7,1365.9 1508.7,1366.8 1512.2,1368.6 1514.7,1370.1 1516.7,1371.3 1518.7,1372.7 1521,1374.6 1523.2,1376.6 1525,1378.6 1526.7,1380.6 1528.7,1383.6 1530.3,1386.6 1531.2,1388.6 1532.4,1392.6 1532.8,1394.6 1533.1,1398.6 1532.7,1402.5 1532.2,1404.6 1530.7,1407.8 1528.8,1410.6 1526.8,1412.6 1524.7,1414.3 1522.7,1415.6 1520.7,1416.6 1516.7,1418.3 1514.7,1418.9 1510.7,1420 1508.3,1420.6 1504.7,1421.3 1500.7,1422 1496.7,1422.5 1494.7,1422.7 1490.7,1423 1486.7,1423.2 1482.7,1423.2 1478.7,1423.2 1474.7,1423.1 1470.7,1422.9 1466.7,1422.7 1463.8,1422.6 1460.7,1422.5 1456.7,1422.4 1452.7,1422.4 1448.7,1422.5 1446.7,1422.6 1442.7,1422.9 1438.7,1423.2 1434.7,1423.6 1430.7,1423.9 1426.7,1424.3 1423.2,1424.6 1420.7,1424.8 1416.7,1425 1412.7,1425.1 1408.7,1425.2 1404.7,1425.1 1400.7,1424.9 1397.9,1424.6 1394.7,1424.2 1390.7,1423.6 1386.7,1422.7 1384.7,1422.2 1380.7,1421.1 1378.7,1420.4 1374.7,1419 1372.7,1418.2 1368.7,1416.6 1366.7,1415.7 1364.1,1414.6 1360.7,1413.1 1358.7,1412.2 1354.7,1410.6 1352.7,1409.9 1348.7,1408.6 1346.7,1408.1 1342.7,1407 1340.7,1406.6 1336.7,1405.7 1332.7,1404.7 1330.7,1404.2 1326.7,1403 1324.7,1402.4 1320.7,1401.2 1318.5,1400.6 1314.7,1399.5 1311.4,1398.6 1308.7,1397.9 1304.7,1396.9 1302.7,1396.3 1298.7,1395.4 1295.6,1394.6 1292.7,1393.9 1288.7,1393 1286.7,1392.5 1282.7,1391.5 1279,1390.6 1276.7,1390 1272.7,1389.1 1270.7,1388.6 1266.7,1387.6 1262.7,1386.6 1260.7,1386.2 1256.7,1385.3 1253.1,1384.6 1250.7,1384.2 1246.7,1383.5 1242.7,1383M1656.7,1055.3 1652.7,1055.1 1648.7,1055 1644.7,1055.1 1640.7,1055.3 1636.7,1055.7 1632.7,1056.2 1630.4,1056.6 1626.7,1057.3 1622.7,1058.3 1620.7,1058.9 1616.7,1060.1 1614.7,1060.8 1610.7,1062.3 1608.7,1063.2 1605.6,1064.6 1602.7,1066 1600.7,1067.1 1598,1068.6 1594.8,1070.6 1592.7,1072 1590.7,1073.3 1588.7,1074.8 1586.4,1076.6 1583.9,1078.6 1581.6,1080.6 1579.3,1082.6 1577.2,1084.6 1575.2,1086.6 1573.3,1088.6 1571.4,1090.6 1569.6,1092.6 1567.9,1094.6 1566.2,1096.6 1564.5,1098.6 1562.7,1100.8 1560.7,1103.3 1558.7,1105.8 1556.7,1108.3 1554.8,1110.6 1553.1,1112.6 1551.3,1114.6 1549.5,1116.6 1547.5,1118.6 1545.4,1120.6 1543.2,1122.6 1540.9,1124.6 1538.7,1126.4 1536.7,1128 1534.7,1129.5 1532.7,1131 1530.6,1132.6 1527.8,1134.6 1525,1136.6 1522.7,1138.3 1520.7,1139.7 1518.7,1141.2 1516.7,1142.6 1514,1144.6 1511.4,1146.6 1508.7,1148.6 1506.7,1150.1 1504.7,1151.6 1502.7,1153 1500.5,1154.6 1497.6,1156.6 1494.7,1158.5 1492.7,1159.7 1490.7,1161 1488,1162.6 1484.7,1164.6 1482.7,1165.7 1480.7,1166.9 1478,1168.6 1474.8,1170.6 1472.7,1172 1470.7,1173.4 1468.7,1174.8 1466.4,1176.6 1464,1178.6 1461.7,1180.6 1459.7,1182.6 1457.8,1184.6 1456,1186.6 1454.4,1188.6 1452.7,1190.9 1450.7,1194 1449.3,1196.6 1448.4,1198.6 1447,1202.6 1446.3,1204.6 1445.2,1208.6 1444.7,1210.6 1443.8,1214.6 1443,1218.6 1442.6,1220.6 1441.9,1224.6 1441.4,1228.6 1440.9,1232.6 1440.6,1234.6 1440.3,1238.6 1440,1242.6 1439.9,1246.6 1439.9,1250.6 1439.9,1254.6 1440,1258.6 1440.2,1262.6 1440.3,1266.6 1440.5,1270.6 1440.7,1274.6 1440.7,1276.6 1440.9,1280.6 1440.9,1284.6 1440.8,1288.6 1440.6,1290.6 1440.2,1294.6 1439.4,1298.6 1438.7,1301.5 1437.8,1304.6 1436.7,1308.1 1435.8,1310.6 1434.7,1313.5 1433.4,1316.6 1432.5,1318.6 1430.7,1322.4 1429.6,1324.6 1428.5,1326.6 1426.7,1329.6 1424.8,1332.6 1423.4,1334.6 1421.9,1336.6 1420.3,1338.6 1418.5,1340.6 1416.5,1342.6 1414.1,1344.6 1411.3,1346.6 1408.7,1348.2 1406.7,1349.1 1402.7,1350.6 1400.7,1351.1 1396.7,1351.8 1392.7,1352 1388.7,1351.9 1384.7,1351.4 1380.7,1350.7 1378.7,1350.3 1374.7,1349.3 1371.9,1348.6 1368.7,1347.8 1364.7,1346.8 1362.7,1346.4 1358.7,1345.6 1354.7,1344.7 1352.7,1344.3 1348.7,1343.4 1345.7,1342.6 1342.7,1341.8 1338.7,1340.6 1336.7,1340 1332.7,1338.7 1330.7,1338 1326.8,1336.6 1324.7,1335.8 1321.5,1334.6 1318.7,1333.5 1316.7,1332.6 1312.7,1330.8 1310.7,1329.9 1308.2,1328.6 1304.7,1326.7 1302.7,1325.5 1300.7,1324.4 1297.9,1322.6 1294.8,1320.6 1292.7,1319.2 1290.7,1317.8 1288.7,1316.4 1286.1,1314.6 1283.2,1312.6 1280.7,1310.9 1278.7,1309.6 1276.7,1308.4 1273.8,1306.6 1270.7,1304.9 1268.7,1303.9 1265.7,1302.6 1262.7,1301.5 1259.6,1300.6 1256.7,1300 1252.7,1299.5 1248.7,1299.4 1244.7,1299.5M1612.1,1036.6 1608.7,1037.8 1606.7,1038.6 1602.7,1040.2 1600.7,1041.1 1597.5,1042.6 1594.7,1044 1592.7,1045.1 1589.9,1046.6 1586.7,1048.4 1584.7,1049.6 1582.7,1050.9 1580.1,1052.6 1577.1,1054.6 1574.7,1056.3 1572.7,1057.8 1570.7,1059.2 1568.7,1060.8 1566.3,1062.6 1563.8,1064.6 1561.3,1066.6 1558.8,1068.6 1556.7,1070.3 1554.7,1071.9 1552.7,1073.5 1550.7,1075.1 1548.7,1076.6 1546.1,1078.6 1543.3,1080.6 1540.7,1082.4 1538.7,1083.7 1536.7,1085 1534,1086.6 1530.7,1088.4 1528.7,1089.4 1526.2,1090.6 1522.7,1092.2 1520.7,1093 1516.8,1094.6 1514.7,1095.5 1512,1096.6 1508.7,1098.3 1506.7,1099.4 1504.6,1100.6 1501.3,1102.6 1498.7,1104.2 1496.7,1105.5 1494.7,1106.7 1491.8,1108.6 1488.7,1110.6 1486.7,1111.9 1484.7,1113.3 1482.6,1114.6 1479.6,1116.6 1476.7,1118.5 1474.7,1119.8 1472.7,1121.2 1470.5,1122.6 1467.6,1124.6 1464.7,1126.6 1462.7,1128.1 1460.7,1129.5 1458.7,1131.1 1456.7,1132.7 1454.4,1134.6 1452.2,1136.6 1450.1,1138.6 1448.2,1140.6 1446.4,1142.6 1444.7,1144.7 1442.7,1147.4 1440.7,1150.4 1439.3,1152.6 1438.1,1154.6 1436.7,1157.1 1434.8,1160.6 1433.8,1162.6 1432.7,1164.7 1430.8,1168.6 1429.9,1170.6 1428.7,1173.5 1427.5,1176.6 1426.7,1178.6 1425.4,1182.6 1424.7,1184.8 1423.7,1188.6 1422.7,1192.6 1422.3,1194.6 1421.7,1198.6 1421.1,1202.6 1420.7,1206.2 1420.5,1208.6 1420.2,1212.6 1420,1216.6 1419.8,1220.6 1419.6,1224.6 1419.5,1228.6 1419.4,1232.6 1419.2,1236.6 1419,1240.6 1418.7,1244.6 1418.5,1246.6 1418.1,1250.6 1417.6,1254.6 1416.9,1258.6 1416.5,1260.6 1415.6,1264.6 1414.7,1268.1 1413.9,1270.6 1412.7,1274 1411.6,1276.6 1410.7,1278.6 1408.7,1282.3 1407.3,1284.6 1405.9,1286.6 1404.4,1288.6 1402.7,1290.7 1400.7,1292.9 1398.7,1295 1396.7,1296.9 1394.7,1298.6 1392.1,1300.6 1389,1302.6 1386.7,1303.9 1384.7,1304.8 1380.7,1306.4 1378.7,1307.1 1374.7,1308.1 1371.9,1308.6 1368.7,1309 1364.7,1309.2 1360.7,1309.2 1356.7,1308.8 1354.7,1308.6 1350.7,1307.7 1346.8,1306.6 1344.7,1305.8 1341.8,1304.6 1338.7,1303.1 1336.7,1302 1334.5,1300.6 1331.6,1298.6 1329,1296.6 1326.7,1294.6 1324.7,1292.7 1322.7,1290.7 1320.7,1288.6 1319,1286.6 1317.3,1284.6 1315.8,1282.6 1314.3,1280.6 1312.7,1278.1 1310.7,1274.9 1309.4,1272.6 1308.4,1270.6 1306.7,1267 1305.7,1264.6 1304.7,1262 1303.6,1258.6 1302.7,1255.3 1302.1,1252.6 1301.2,1248.6 1300.7,1245.8 1300,1242.6 1298.9,1238.6 1298.3,1236.6 1297.1,1232.6 1296.5,1230.6 1295.2,1226.6 1294.6,1224.6 1293.2,1220.6 1292.4,1218.6 1290.7,1214.7 1289.5,1212.6 1288.1,1210.6 1286.2,1208.6 1283.4,1206.6 1280.7,1205.4 1276.8,1204.6 1274.7,1204.5 1272.7,1204.6 1268.7,1205.3 1265,1206.6 1262.7,1207.7 1260.7,1208.9 1258.2,1210.6 1255.7,1212.6 1253.5,1214.6 1251.4,1216.6 1249.5,1218.6 1247.6,1220.6 1245.7,1222.6 1243.7,1224.6M1561.8,1036.6 1558.9,1038.6 1556.7,1040.1 1554.7,1041.5 1552.7,1043 1550.5,1044.6 1547.8,1046.6 1545.1,1048.6 1542.7,1050.4 1540.7,1051.9 1538.7,1053.3 1536.7,1054.8 1534.1,1056.6 1531.2,1058.6 1528.7,1060.3 1526.7,1061.5 1524.7,1062.7 1521.3,1064.6 1518.7,1065.9 1516.7,1066.8 1512.7,1068.3 1510.7,1069 1506.7,1070.1 1504.7,1070.6 1500.7,1071.4 1496.7,1072.2 1494,1072.6 1490.7,1073.1 1486.7,1073.7 1482.7,1074.2 1480.2,1074.6 1476.7,1075.1 1472.7,1075.8 1468.7,1076.5 1466.7,1077 1462.7,1078 1460.5,1078.6 1456.7,1079.9 1454.7,1080.6 1450.7,1082.4 1448.7,1083.4 1446.6,1084.6 1443.3,1086.6 1440.7,1088.4 1438.7,1089.9 1436.7,1091.4 1434.7,1093.1 1432.7,1094.9 1430.7,1096.8 1428.7,1098.8 1426.7,1100.9 1424.7,1103.2 1422.7,1105.7 1420.7,1108.3 1419,1110.6 1417.7,1112.6 1416.4,1114.6 1414.7,1117.5 1413,1120.6 1411.9,1122.6 1410.7,1125.2 1409.1,1128.6 1408.2,1130.6 1406.7,1134.3 1405.8,1136.6 1404.7,1139.4 1403.4,1142.6 1402.6,1144.6 1400.8,1148.6 1399.9,1150.6 1398.7,1153.1 1397.1,1156.6 1396.2,1158.6 1394.7,1162.2 1393.8,1164.6 1392.7,1167.6 1391.7,1170.6 1390.7,1174.3 1390.2,1176.6 1389.4,1180.6 1388.9,1184.6 1388.7,1186.6 1388.5,1190.6 1388.5,1194.6 1388.6,1198.6 1388.8,1200.6 1389.1,1204.6 1389.5,1208.6 1390,1212.6 1390.5,1216.6 1390.8,1218.6 1391.3,1222.6 1391.7,1226.6 1392,1230.6 1392.1,1234.6 1392,1238.6 1391.4,1242.6 1390.7,1245.2 1389.4,1248.6 1388.5,1250.6 1386.7,1253.7 1384.7,1256.6 1383,1258.6 1381.1,1260.6 1378.9,1262.6 1376.7,1264.2 1374.7,1265.4 1372.5,1266.6 1368.7,1268 1366.2,1268.6 1362.7,1269 1358.7,1268.7 1356.7,1268.2 1352.7,1266.7 1350.7,1265.7 1348.7,1264.3 1346.6,1262.6 1344.6,1260.6 1342.7,1258.4 1340.7,1255.4 1339.2,1252.6 1338.3,1250.6 1337,1246.6 1336.6,1244.6 1336,1240.6 1335.8,1236.6 1335.8,1232.6 1336.1,1228.6 1336.6,1224.6 1336.9,1222.6 1337.4,1218.6 1338,1214.6 1338.5,1210.6 1338.7,1208.2 1338.9,1204.6 1338.9,1200.6 1338.7,1197.3 1338.4,1194.6 1337.5,1190.6 1336.7,1188.2 1335.1,1184.6 1334,1182.6 1332.7,1180.6 1330.7,1178 1328.7,1175.9 1326.7,1174.1 1324.7,1172.4 1322.1,1170.6 1318.8,1168.6 1316.7,1167.5 1314.7,1166.5 1310.7,1164.8 1308.7,1164.1 1304.7,1162.8 1302.7,1162.2 1298.7,1161.2 1295.6,1160.6 1292.7,1160.1 1288.7,1159.5 1284.7,1159 1280.7,1158.7 1278.7,1158.6 1274.7,1158.5 1270.7,1158.4 1266.7,1158.6 1264.7,1158.7 1260.7,1159 1256.7,1159.5 1252.7,1160.2 1250.7,1160.6 1246.7,1161.6 1243.4,1162.6M1509.4,1036.6 1506.7,1037.5 1502.7,1038.6 1500.7,1039 1496.7,1039.6 1492.7,1040 1488.7,1040.2 1484.7,1040.2 1480.7,1040.2 1476.7,1040.1 1472.7,1040.1 1468.7,1040.1 1464.7,1040.1 1460.7,1040.3 1456.7,1040.5 1454.7,1040.7 1450.7,1041.3 1446.7,1042.1 1444.7,1042.6 1440.7,1043.8 1438.5,1044.6 1434.7,1046.1 1432.7,1047 1429.4,1048.6 1426.7,1050 1424.7,1051.1 1422,1052.6 1418.8,1054.6 1416.7,1055.9 1414.7,1057.2 1412.7,1058.6 1409.9,1060.6 1407.2,1062.6 1404.7,1064.5 1402.7,1066 1400.7,1067.6 1398.7,1069.3 1396.7,1070.9 1394.7,1072.6 1392.4,1074.6 1390.2,1076.6 1388,1078.6 1385.8,1080.6 1383.7,1082.6 1381.7,1084.6 1379.7,1086.6 1377.7,1088.6 1375.8,1090.6 1374,1092.6 1372.1,1094.6 1370.3,1096.6 1368.5,1098.6 1366.6,1100.6 1364.7,1102.7 1362.7,1104.8 1360.7,1106.9 1358.7,1108.9 1356.7,1110.8 1354.7,1112.6 1352.4,1114.6 1349.9,1116.6 1347.2,1118.6 1344.7,1120.3 1342.7,1121.5 1340.7,1122.7 1336.8,1124.6 1334.7,1125.5 1331.6,1126.6 1328.7,1127.4 1324.7,1128.3 1322.7,1128.6 1318.7,1129 1314.7,1129.2 1310.7,1129.3 1306.7,1129.4 1302.7,1129.4 1298.7,1129.4 1294.7,1129.4 1290.7,1129.4 1286.7,1129.4 1282.7,1129.3 1278.7,1129.2 1274.7,1129.1 1270.7,1129.1 1266.7,1129.2 1262.7,1129.3 1258.7,1129.6 1254.7,1130 1250.7,1130.4 1248.7,1130.7 1244.7,1131.4" fill="none" stroke="#222" stroke-width="1.6" stroke-opacity="0.9"/>
</g>
<circle cx="1449.7" cy="1243.6" r="188.0" fill="none" stroke="#000" stroke-width="4.6"/>
<path d="M1416.7,1056.1 L1445.1,1026.6 M1454.3,1026.6 L1482.7,1056.1" fill="none" stroke="#000" stroke-width="4.6" stroke-linecap="round"/>
<polyline points="1636.7,1204.6 1639.7,1200.1 1645.7,1197.6 1651.7,1199.6 1655.7,1205.6 1656.2,1223.6 1657.2,1243.6 1657.7,1263.6 1657.7,1278.6 1654.7,1288.6 1649.7,1294.6 1642.7,1297.1 1635.7,1292.6" fill="none" stroke="#000" stroke-width="4.4" stroke-linejoin="round"/>
<polyline points="1262.7,1204.6 1259.7,1200.1 1253.7,1197.6 1247.7,1199.6 1243.7,1205.6 1243.2,1223.6 1242.2,1243.6 1241.7,1263.6 1241.7,1278.6 1244.7,1288.6 1249.7,1294.6 1256.7,1297.1 1263.7,1292.6" fill="none" stroke="#000" stroke-width="4.4" stroke-linejoin="round"/>
<path d="M1449.7,1051.6h0M1389.5,1058.3h0M1509.9,1058.3h0M1387.9,1096.8h0M1511.5,1096.8h0M1287.2,1126.2h0M1324.8,1137.7h0M1365.2,1143.4h0M1406.7,1146.7h0M1449.7,1147.5h0M1492.7,1146.7h0M1534.2,1143.4h0M1574.6,1137.7h0M1612.2,1126.2h0M1256.9,1181.1h0M1304.4,1189.3h0M1352.9,1192.5h0M1401.2,1195.3h0M1449.7,1195.8h0M1498.2,1195.3h0M1546.5,1192.5h0M1595,1189.3h0M1642.5,1181.1h0M1246.2,1243.6h0M1297.7,1243.6h0M1347.7,1243.6h0M1398.7,1243.6h0M1449.7,1243.6h0M1500.7,1243.6h0M1551.7,1243.6h0M1601.7,1243.6h0M1653.2,1243.6h0M1257.4,1306.9h0M1304.4,1298.2h0M1352.3,1294.3h0M1400.9,1292.7h0M1449.7,1292.1h0M1498.5,1292.7h0M1547.1,1294.3h0M1595,1298.2h0M1642,1306.9h0M1287.2,1362h0M1324.8,1350.5h0M1365.3,1344.5h0M1407.2,1341.4h0M1449.7,1340.6h0M1492.2,1341.4h0M1534.1,1344.5h0M1574.6,1350.5h0M1612.2,1362h0M1333.4,1404.9h0M1359.3,1396.6h0M1388.3,1391.6h0M1449.7,1388.1h0M1511.1,1391.6h0M1540.1,1396.6h0M1566,1404.9h0M1389.1,1429.2h0M1449.7,1434.7h0M1510.3,1429.2h0" stroke="#000" stroke-width="4.2" stroke-linecap="round"/>
<text x="1352" y="976.5" class="tt" textLength="210" lengthAdjust="spacingAndGlyphs">Left-Right</text>
<rect x="1113.5" y="1142" width="41.5" height="203" fill="url(#cbar)" stroke="#333" stroke-width="1"/>
<text x="1166" y="1167.9" class="cb">6</text>
<text x="1166" y="1252" class="cb">0</text>
<text x="1159" y="1345.5" class="cb">-6</text>
<text x="1107" y="1124.9" class="cbu">&#956;V</text>
</svg></body></html>
